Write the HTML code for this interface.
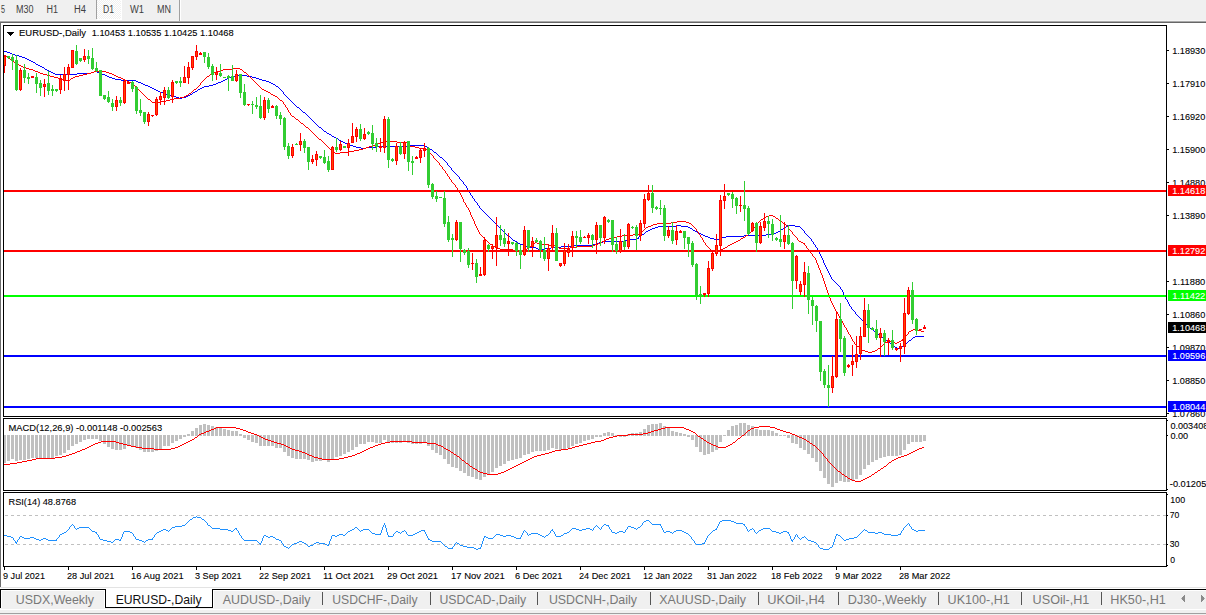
<!DOCTYPE html>
<html><head><meta charset="utf-8"><title>EURUSD-,Daily</title>
<style>html,body{margin:0;padding:0;background:#fff;overflow:hidden}svg{display:block}
text{font-family:"Liberation Sans",sans-serif}</style></head>
<body><svg width="1206" height="615" viewBox="0 0 1206 615" shape-rendering="crispEdges">
<rect x="0" y="0" width="1206" height="615" fill="#fff"/>
<rect x="0" y="0" width="1206" height="21" fill="#f0f0f0"/>
<rect x="0" y="20" width="1206" height="1" fill="#f5f5f5"/>
<rect x="0" y="21" width="1206" height="1" fill="#a9a9a9"/>
<rect x="0" y="22" width="1206" height="1" fill="#666666"/>
<rect x="96" y="0" width="1" height="19" fill="#a0a0a0"/>
<defs><pattern id="chk" width="2" height="2" patternUnits="userSpaceOnUse"><rect width="2" height="2" fill="#f0f0f0"/><rect width="1" height="1" fill="#fff"/><rect x="1" y="1" width="1" height="1" fill="#fff"/></pattern></defs>
<rect x="97" y="0" width="24" height="19" fill="url(#chk)"/>
<rect x="121" y="0" width="1" height="20" fill="#fff"/>
<rect x="97" y="19" width="25" height="1" fill="#fff"/>
<rect x="179" y="0" width="1" height="21" fill="#a0a0a0"/>
<rect x="180" y="0" width="1" height="21" fill="#fff"/>
<text x="1" y="12.9" font-size="10.0" fill="#404040" text-anchor="start" textLength="4" lengthAdjust="spacingAndGlyphs" xml:space="preserve">5</text>
<text x="16" y="12.9" font-size="10.0" fill="#404040" text-anchor="start" textLength="17.5" lengthAdjust="spacingAndGlyphs" xml:space="preserve">M30</text>
<text x="46.5" y="12.9" font-size="10.0" fill="#404040" text-anchor="start" textLength="11.5" lengthAdjust="spacingAndGlyphs" xml:space="preserve">H1</text>
<text x="74" y="12.9" font-size="10.0" fill="#404040" text-anchor="start" textLength="12" lengthAdjust="spacingAndGlyphs" xml:space="preserve">H4</text>
<text x="103" y="12.9" font-size="10.0" fill="#404040" text-anchor="start" textLength="11" lengthAdjust="spacingAndGlyphs" xml:space="preserve">D1</text>
<text x="130" y="12.9" font-size="10.0" fill="#404040" text-anchor="start" textLength="14" lengthAdjust="spacingAndGlyphs" xml:space="preserve">W1</text>
<text x="157" y="12.9" font-size="10.0" fill="#404040" text-anchor="start" textLength="14" lengthAdjust="spacingAndGlyphs" xml:space="preserve">MN</text>
<rect x="0" y="22" width="1" height="567" fill="#6e6e6e"/>
<rect x="3" y="25" width="1164" height="1" fill="#000"/>
<rect x="3" y="416" width="1164" height="1" fill="#000"/>
<rect x="3" y="25" width="1" height="392" fill="#000"/>
<rect x="3" y="418" width="1164" height="1" fill="#000"/>
<rect x="3" y="490" width="1164" height="1" fill="#000"/>
<rect x="3" y="418" width="1" height="73" fill="#000"/>
<rect x="3" y="492" width="1164" height="1" fill="#000"/>
<rect x="3" y="566" width="1164" height="1" fill="#000"/>
<rect x="3" y="492" width="1" height="75" fill="#000"/>
<rect x="1166" y="25" width="1" height="392" fill="#000"/>
<rect x="1166" y="418" width="1" height="73" fill="#000"/>
<rect x="1166" y="492" width="1" height="75" fill="#000"/>
<rect x="4" y="51" width="3" height="1" fill="#0000ff"/>
<rect x="7" y="52" width="3" height="1" fill="#0000ff"/>
<rect x="10" y="53" width="2" height="1" fill="#0000ff"/>
<rect x="12" y="54" width="3" height="1" fill="#0000ff"/>
<rect x="15" y="55" width="4" height="1" fill="#0000ff"/>
<rect x="19" y="56" width="3" height="1" fill="#0000ff"/>
<rect x="22" y="57" width="3" height="1" fill="#0000ff"/>
<rect x="25" y="58" width="2" height="1" fill="#0000ff"/>
<rect x="27" y="59" width="2" height="1" fill="#0000ff"/>
<rect x="29" y="60" width="2" height="1" fill="#0000ff"/>
<rect x="31" y="61" width="2" height="1" fill="#0000ff"/>
<rect x="33" y="62" width="2" height="1" fill="#0000ff"/>
<rect x="35" y="63" width="1" height="1" fill="#0000ff"/>
<rect x="36" y="64" width="2" height="1" fill="#0000ff"/>
<rect x="38" y="65" width="2" height="1" fill="#0000ff"/>
<rect x="40" y="66" width="2" height="1" fill="#0000ff"/>
<rect x="42" y="67" width="2" height="1" fill="#0000ff"/>
<rect x="44" y="68" width="1" height="1" fill="#0000ff"/>
<rect x="45" y="69" width="2" height="1" fill="#0000ff"/>
<rect x="47" y="70" width="2" height="1" fill="#0000ff"/>
<rect x="49" y="71" width="2" height="1" fill="#0000ff"/>
<rect x="51" y="72" width="2" height="1" fill="#0000ff"/>
<rect x="53" y="73" width="2" height="1" fill="#0000ff"/>
<rect x="55" y="74" width="22" height="1" fill="#0000ff"/>
<rect x="77" y="73" width="14" height="1" fill="#0000ff"/>
<rect x="91" y="72" width="3" height="1" fill="#0000ff"/>
<rect x="94" y="71" width="3" height="1" fill="#0000ff"/>
<rect x="97" y="72" width="3" height="1" fill="#0000ff"/>
<rect x="100" y="73" width="2" height="1" fill="#0000ff"/>
<rect x="102" y="74" width="3" height="1" fill="#0000ff"/>
<rect x="105" y="75" width="2" height="1" fill="#0000ff"/>
<rect x="107" y="76" width="2" height="1" fill="#0000ff"/>
<rect x="109" y="77" width="3" height="1" fill="#0000ff"/>
<rect x="112" y="78" width="3" height="1" fill="#0000ff"/>
<rect x="115" y="79" width="6" height="1" fill="#0000ff"/>
<rect x="121" y="80" width="15" height="1" fill="#0000ff"/>
<rect x="136" y="81" width="2" height="1" fill="#0000ff"/>
<rect x="138" y="82" width="3" height="1" fill="#0000ff"/>
<rect x="141" y="83" width="2" height="1" fill="#0000ff"/>
<rect x="143" y="84" width="2" height="1" fill="#0000ff"/>
<rect x="145" y="85" width="3" height="1" fill="#0000ff"/>
<rect x="148" y="86" width="2" height="1" fill="#0000ff"/>
<rect x="150" y="87" width="2" height="1" fill="#0000ff"/>
<rect x="152" y="88" width="2" height="1" fill="#0000ff"/>
<rect x="154" y="89" width="2" height="1" fill="#0000ff"/>
<rect x="156" y="90" width="2" height="1" fill="#0000ff"/>
<rect x="158" y="91" width="2" height="1" fill="#0000ff"/>
<rect x="160" y="92" width="3" height="1" fill="#0000ff"/>
<rect x="163" y="93" width="3" height="1" fill="#0000ff"/>
<rect x="166" y="94" width="3" height="1" fill="#0000ff"/>
<rect x="169" y="95" width="3" height="1" fill="#0000ff"/>
<rect x="172" y="96" width="4" height="1" fill="#0000ff"/>
<rect x="176" y="97" width="3" height="1" fill="#0000ff"/>
<rect x="179" y="98" width="3" height="1" fill="#0000ff"/>
<rect x="182" y="97" width="4" height="1" fill="#0000ff"/>
<rect x="186" y="96" width="2" height="1" fill="#0000ff"/>
<rect x="188" y="95" width="2" height="1" fill="#0000ff"/>
<rect x="190" y="94" width="2" height="1" fill="#0000ff"/>
<rect x="192" y="93" width="1" height="1" fill="#0000ff"/>
<rect x="193" y="92" width="2" height="1" fill="#0000ff"/>
<rect x="195" y="91" width="2" height="1" fill="#0000ff"/>
<rect x="197" y="90" width="1" height="1" fill="#0000ff"/>
<rect x="198" y="89" width="2" height="1" fill="#0000ff"/>
<rect x="200" y="88" width="2" height="1" fill="#0000ff"/>
<rect x="202" y="87" width="2" height="1" fill="#0000ff"/>
<rect x="204" y="86" width="5" height="1" fill="#0000ff"/>
<rect x="209" y="85" width="4" height="1" fill="#0000ff"/>
<rect x="213" y="84" width="3" height="1" fill="#0000ff"/>
<rect x="216" y="83" width="2" height="1" fill="#0000ff"/>
<rect x="218" y="82" width="3" height="1" fill="#0000ff"/>
<rect x="221" y="81" width="2" height="1" fill="#0000ff"/>
<rect x="223" y="80" width="2" height="1" fill="#0000ff"/>
<rect x="225" y="79" width="2" height="1" fill="#0000ff"/>
<rect x="227" y="78" width="2" height="1" fill="#0000ff"/>
<rect x="229" y="77" width="3" height="1" fill="#0000ff"/>
<rect x="232" y="76" width="3" height="1" fill="#0000ff"/>
<rect x="235" y="75" width="12" height="1" fill="#0000ff"/>
<rect x="247" y="76" width="5" height="1" fill="#0000ff"/>
<rect x="252" y="77" width="4" height="1" fill="#0000ff"/>
<rect x="256" y="78" width="3" height="1" fill="#0000ff"/>
<rect x="259" y="79" width="3" height="1" fill="#0000ff"/>
<rect x="262" y="80" width="4" height="1" fill="#0000ff"/>
<rect x="266" y="81" width="3" height="1" fill="#0000ff"/>
<rect x="269" y="82" width="2" height="1" fill="#0000ff"/>
<rect x="271" y="83" width="2" height="1" fill="#0000ff"/>
<rect x="273" y="84" width="2" height="1" fill="#0000ff"/>
<rect x="275" y="85" width="1" height="1" fill="#0000ff"/>
<rect x="276" y="86" width="2" height="1" fill="#0000ff"/>
<rect x="278" y="87" width="1" height="1" fill="#0000ff"/>
<rect x="279" y="88" width="1" height="1" fill="#0000ff"/>
<rect x="280" y="89" width="1" height="1" fill="#0000ff"/>
<rect x="281" y="90" width="1" height="1" fill="#0000ff"/>
<rect x="282" y="91" width="1" height="1" fill="#0000ff"/>
<rect x="283" y="92" width="1" height="2" fill="#0000ff"/>
<rect x="284" y="94" width="1" height="1" fill="#0000ff"/>
<rect x="285" y="95" width="1" height="1" fill="#0000ff"/>
<rect x="286" y="96" width="1" height="1" fill="#0000ff"/>
<rect x="287" y="97" width="1" height="1" fill="#0000ff"/>
<rect x="288" y="98" width="1" height="1" fill="#0000ff"/>
<rect x="289" y="99" width="1" height="1" fill="#0000ff"/>
<rect x="290" y="100" width="1" height="1" fill="#0000ff"/>
<rect x="291" y="101" width="1" height="1" fill="#0000ff"/>
<rect x="292" y="102" width="1" height="1" fill="#0000ff"/>
<rect x="293" y="103" width="1" height="1" fill="#0000ff"/>
<rect x="294" y="104" width="1" height="1" fill="#0000ff"/>
<rect x="295" y="105" width="1" height="1" fill="#0000ff"/>
<rect x="296" y="106" width="1" height="1" fill="#0000ff"/>
<rect x="297" y="107" width="2" height="1" fill="#0000ff"/>
<rect x="299" y="108" width="1" height="1" fill="#0000ff"/>
<rect x="300" y="109" width="1" height="1" fill="#0000ff"/>
<rect x="301" y="110" width="1" height="1" fill="#0000ff"/>
<rect x="302" y="111" width="1" height="1" fill="#0000ff"/>
<rect x="303" y="112" width="2" height="1" fill="#0000ff"/>
<rect x="305" y="113" width="1" height="1" fill="#0000ff"/>
<rect x="306" y="114" width="1" height="1" fill="#0000ff"/>
<rect x="307" y="115" width="1" height="1" fill="#0000ff"/>
<rect x="308" y="116" width="1" height="1" fill="#0000ff"/>
<rect x="309" y="117" width="1" height="1" fill="#0000ff"/>
<rect x="310" y="118" width="1" height="1" fill="#0000ff"/>
<rect x="311" y="119" width="1" height="1" fill="#0000ff"/>
<rect x="312" y="120" width="1" height="1" fill="#0000ff"/>
<rect x="313" y="121" width="1" height="1" fill="#0000ff"/>
<rect x="314" y="122" width="1" height="1" fill="#0000ff"/>
<rect x="315" y="123" width="1" height="1" fill="#0000ff"/>
<rect x="316" y="124" width="1" height="1" fill="#0000ff"/>
<rect x="317" y="125" width="1" height="1" fill="#0000ff"/>
<rect x="318" y="126" width="1" height="1" fill="#0000ff"/>
<rect x="319" y="127" width="2" height="1" fill="#0000ff"/>
<rect x="321" y="128" width="1" height="1" fill="#0000ff"/>
<rect x="322" y="129" width="1" height="1" fill="#0000ff"/>
<rect x="323" y="130" width="1" height="1" fill="#0000ff"/>
<rect x="324" y="131" width="2" height="1" fill="#0000ff"/>
<rect x="326" y="132" width="1" height="1" fill="#0000ff"/>
<rect x="327" y="133" width="2" height="1" fill="#0000ff"/>
<rect x="329" y="134" width="2" height="1" fill="#0000ff"/>
<rect x="331" y="135" width="1" height="1" fill="#0000ff"/>
<rect x="332" y="136" width="2" height="1" fill="#0000ff"/>
<rect x="334" y="137" width="2" height="1" fill="#0000ff"/>
<rect x="336" y="138" width="2" height="1" fill="#0000ff"/>
<rect x="338" y="139" width="1" height="1" fill="#0000ff"/>
<rect x="339" y="140" width="2" height="1" fill="#0000ff"/>
<rect x="341" y="141" width="2" height="1" fill="#0000ff"/>
<rect x="343" y="142" width="2" height="1" fill="#0000ff"/>
<rect x="345" y="143" width="2" height="1" fill="#0000ff"/>
<rect x="347" y="144" width="3" height="1" fill="#0000ff"/>
<rect x="350" y="145" width="3" height="1" fill="#0000ff"/>
<rect x="353" y="146" width="3" height="1" fill="#0000ff"/>
<rect x="356" y="147" width="5" height="1" fill="#0000ff"/>
<rect x="361" y="148" width="5" height="1" fill="#0000ff"/>
<rect x="366" y="147" width="10" height="1" fill="#0000ff"/>
<rect x="376" y="146" width="33" height="1" fill="#0000ff"/>
<rect x="409" y="145" width="16" height="1" fill="#0000ff"/>
<rect x="425" y="146" width="2" height="1" fill="#0000ff"/>
<rect x="427" y="147" width="2" height="1" fill="#0000ff"/>
<rect x="429" y="148" width="1" height="1" fill="#0000ff"/>
<rect x="430" y="149" width="2" height="1" fill="#0000ff"/>
<rect x="432" y="150" width="1" height="1" fill="#0000ff"/>
<rect x="433" y="151" width="1" height="1" fill="#0000ff"/>
<rect x="434" y="152" width="2" height="1" fill="#0000ff"/>
<rect x="436" y="153" width="1" height="1" fill="#0000ff"/>
<rect x="437" y="154" width="1" height="1" fill="#0000ff"/>
<rect x="438" y="155" width="1" height="1" fill="#0000ff"/>
<rect x="439" y="156" width="1" height="1" fill="#0000ff"/>
<rect x="440" y="157" width="2" height="1" fill="#0000ff"/>
<rect x="442" y="158" width="1" height="1" fill="#0000ff"/>
<rect x="443" y="159" width="1" height="1" fill="#0000ff"/>
<rect x="444" y="160" width="1" height="1" fill="#0000ff"/>
<rect x="445" y="161" width="1" height="1" fill="#0000ff"/>
<rect x="446" y="162" width="1" height="1" fill="#0000ff"/>
<rect x="447" y="163" width="1" height="2" fill="#0000ff"/>
<rect x="448" y="165" width="1" height="1" fill="#0000ff"/>
<rect x="449" y="166" width="1" height="1" fill="#0000ff"/>
<rect x="450" y="167" width="1" height="1" fill="#0000ff"/>
<rect x="451" y="168" width="1" height="2" fill="#0000ff"/>
<rect x="452" y="170" width="1" height="1" fill="#0000ff"/>
<rect x="453" y="171" width="1" height="1" fill="#0000ff"/>
<rect x="454" y="172" width="1" height="1" fill="#0000ff"/>
<rect x="455" y="173" width="1" height="1" fill="#0000ff"/>
<rect x="456" y="174" width="1" height="1" fill="#0000ff"/>
<rect x="457" y="175" width="1" height="1" fill="#0000ff"/>
<rect x="458" y="176" width="1" height="1" fill="#0000ff"/>
<rect x="459" y="177" width="1" height="2" fill="#0000ff"/>
<rect x="460" y="179" width="1" height="1" fill="#0000ff"/>
<rect x="461" y="180" width="1" height="1" fill="#0000ff"/>
<rect x="462" y="181" width="1" height="1" fill="#0000ff"/>
<rect x="463" y="182" width="1" height="2" fill="#0000ff"/>
<rect x="464" y="184" width="1" height="1" fill="#0000ff"/>
<rect x="465" y="185" width="1" height="1" fill="#0000ff"/>
<rect x="466" y="186" width="1" height="2" fill="#0000ff"/>
<rect x="467" y="188" width="1" height="2" fill="#0000ff"/>
<rect x="468" y="190" width="1" height="1" fill="#0000ff"/>
<rect x="469" y="191" width="1" height="2" fill="#0000ff"/>
<rect x="470" y="193" width="1" height="2" fill="#0000ff"/>
<rect x="471" y="195" width="1" height="1" fill="#0000ff"/>
<rect x="472" y="196" width="1" height="2" fill="#0000ff"/>
<rect x="473" y="198" width="1" height="1" fill="#0000ff"/>
<rect x="474" y="199" width="1" height="2" fill="#0000ff"/>
<rect x="475" y="201" width="1" height="1" fill="#0000ff"/>
<rect x="476" y="202" width="1" height="1" fill="#0000ff"/>
<rect x="477" y="203" width="1" height="2" fill="#0000ff"/>
<rect x="478" y="205" width="1" height="1" fill="#0000ff"/>
<rect x="479" y="206" width="1" height="2" fill="#0000ff"/>
<rect x="480" y="208" width="1" height="1" fill="#0000ff"/>
<rect x="481" y="209" width="1" height="1" fill="#0000ff"/>
<rect x="482" y="210" width="1" height="1" fill="#0000ff"/>
<rect x="483" y="211" width="1" height="1" fill="#0000ff"/>
<rect x="484" y="212" width="1" height="1" fill="#0000ff"/>
<rect x="485" y="213" width="1" height="1" fill="#0000ff"/>
<rect x="486" y="214" width="1" height="1" fill="#0000ff"/>
<rect x="487" y="215" width="1" height="1" fill="#0000ff"/>
<rect x="488" y="216" width="1" height="1" fill="#0000ff"/>
<rect x="489" y="217" width="1" height="1" fill="#0000ff"/>
<rect x="490" y="218" width="1" height="1" fill="#0000ff"/>
<rect x="491" y="219" width="1" height="1" fill="#0000ff"/>
<rect x="492" y="220" width="1" height="1" fill="#0000ff"/>
<rect x="493" y="221" width="1" height="1" fill="#0000ff"/>
<rect x="494" y="222" width="1" height="1" fill="#0000ff"/>
<rect x="495" y="223" width="1" height="1" fill="#0000ff"/>
<rect x="496" y="224" width="1" height="1" fill="#0000ff"/>
<rect x="497" y="225" width="1" height="1" fill="#0000ff"/>
<rect x="498" y="226" width="1" height="1" fill="#0000ff"/>
<rect x="499" y="227" width="1" height="1" fill="#0000ff"/>
<rect x="500" y="228" width="1" height="1" fill="#0000ff"/>
<rect x="501" y="229" width="1" height="1" fill="#0000ff"/>
<rect x="502" y="230" width="1" height="1" fill="#0000ff"/>
<rect x="503" y="231" width="1" height="1" fill="#0000ff"/>
<rect x="504" y="232" width="1" height="1" fill="#0000ff"/>
<rect x="505" y="233" width="1" height="1" fill="#0000ff"/>
<rect x="506" y="234" width="1" height="1" fill="#0000ff"/>
<rect x="507" y="235" width="1" height="1" fill="#0000ff"/>
<rect x="508" y="236" width="2" height="1" fill="#0000ff"/>
<rect x="510" y="237" width="1" height="1" fill="#0000ff"/>
<rect x="511" y="238" width="1" height="1" fill="#0000ff"/>
<rect x="512" y="239" width="1" height="1" fill="#0000ff"/>
<rect x="513" y="240" width="2" height="1" fill="#0000ff"/>
<rect x="515" y="241" width="2" height="1" fill="#0000ff"/>
<rect x="517" y="242" width="1" height="1" fill="#0000ff"/>
<rect x="518" y="243" width="2" height="1" fill="#0000ff"/>
<rect x="520" y="244" width="3" height="1" fill="#0000ff"/>
<rect x="523" y="245" width="2" height="1" fill="#0000ff"/>
<rect x="525" y="246" width="2" height="1" fill="#0000ff"/>
<rect x="527" y="247" width="9" height="1" fill="#0000ff"/>
<rect x="536" y="248" width="2" height="1" fill="#0000ff"/>
<rect x="538" y="249" width="7" height="1" fill="#0000ff"/>
<rect x="545" y="248" width="6" height="1" fill="#0000ff"/>
<rect x="551" y="247" width="10" height="1" fill="#0000ff"/>
<rect x="561" y="246" width="11" height="1" fill="#0000ff"/>
<rect x="572" y="245" width="21" height="1" fill="#0000ff"/>
<rect x="593" y="244" width="3" height="1" fill="#0000ff"/>
<rect x="596" y="243" width="3" height="1" fill="#0000ff"/>
<rect x="599" y="242" width="4" height="1" fill="#0000ff"/>
<rect x="603" y="241" width="21" height="1" fill="#0000ff"/>
<rect x="624" y="240" width="3" height="1" fill="#0000ff"/>
<rect x="627" y="239" width="10" height="1" fill="#0000ff"/>
<rect x="637" y="238" width="1" height="1" fill="#0000ff"/>
<rect x="638" y="237" width="1" height="2" fill="#0000ff"/>
<rect x="639" y="236" width="2" height="1" fill="#0000ff"/>
<rect x="641" y="235" width="1" height="1" fill="#0000ff"/>
<rect x="642" y="234" width="2" height="1" fill="#0000ff"/>
<rect x="644" y="233" width="1" height="1" fill="#0000ff"/>
<rect x="645" y="232" width="1" height="1" fill="#0000ff"/>
<rect x="646" y="231" width="2" height="1" fill="#0000ff"/>
<rect x="648" y="230" width="2" height="1" fill="#0000ff"/>
<rect x="650" y="229" width="2" height="1" fill="#0000ff"/>
<rect x="652" y="228" width="3" height="1" fill="#0000ff"/>
<rect x="655" y="227" width="3" height="1" fill="#0000ff"/>
<rect x="658" y="226" width="19" height="1" fill="#0000ff"/>
<rect x="677" y="225" width="4" height="1" fill="#0000ff"/>
<rect x="681" y="226" width="7" height="1" fill="#0000ff"/>
<rect x="688" y="227" width="2" height="1" fill="#0000ff"/>
<rect x="690" y="228" width="2" height="1" fill="#0000ff"/>
<rect x="692" y="229" width="1" height="1" fill="#0000ff"/>
<rect x="693" y="230" width="2" height="1" fill="#0000ff"/>
<rect x="695" y="231" width="2" height="1" fill="#0000ff"/>
<rect x="697" y="232" width="2" height="1" fill="#0000ff"/>
<rect x="699" y="233" width="2" height="1" fill="#0000ff"/>
<rect x="701" y="234" width="2" height="1" fill="#0000ff"/>
<rect x="703" y="235" width="2" height="1" fill="#0000ff"/>
<rect x="705" y="236" width="3" height="1" fill="#0000ff"/>
<rect x="708" y="237" width="2" height="1" fill="#0000ff"/>
<rect x="710" y="238" width="4" height="1" fill="#0000ff"/>
<rect x="714" y="239" width="5" height="1" fill="#0000ff"/>
<rect x="719" y="238" width="2" height="1" fill="#0000ff"/>
<rect x="721" y="237" width="5" height="1" fill="#0000ff"/>
<rect x="726" y="236" width="18" height="1" fill="#0000ff"/>
<rect x="744" y="235" width="22" height="1" fill="#0000ff"/>
<rect x="766" y="234" width="7" height="1" fill="#0000ff"/>
<rect x="773" y="233" width="3" height="1" fill="#0000ff"/>
<rect x="776" y="232" width="2" height="1" fill="#0000ff"/>
<rect x="778" y="231" width="2" height="1" fill="#0000ff"/>
<rect x="780" y="230" width="1" height="1" fill="#0000ff"/>
<rect x="781" y="229" width="2" height="1" fill="#0000ff"/>
<rect x="783" y="228" width="1" height="1" fill="#0000ff"/>
<rect x="784" y="227" width="2" height="1" fill="#0000ff"/>
<rect x="786" y="226" width="1" height="1" fill="#0000ff"/>
<rect x="787" y="225" width="8" height="1" fill="#0000ff"/>
<rect x="795" y="226" width="5" height="1" fill="#0000ff"/>
<rect x="800" y="227" width="1" height="1" fill="#0000ff"/>
<rect x="801" y="228" width="1" height="1" fill="#0000ff"/>
<rect x="802" y="229" width="1" height="1" fill="#0000ff"/>
<rect x="803" y="230" width="1" height="1" fill="#0000ff"/>
<rect x="804" y="231" width="1" height="2" fill="#0000ff"/>
<rect x="805" y="233" width="1" height="1" fill="#0000ff"/>
<rect x="806" y="234" width="1" height="1" fill="#0000ff"/>
<rect x="807" y="235" width="1" height="1" fill="#0000ff"/>
<rect x="808" y="236" width="1" height="1" fill="#0000ff"/>
<rect x="809" y="237" width="1" height="1" fill="#0000ff"/>
<rect x="810" y="238" width="1" height="1" fill="#0000ff"/>
<rect x="811" y="239" width="1" height="2" fill="#0000ff"/>
<rect x="812" y="241" width="1" height="1" fill="#0000ff"/>
<rect x="813" y="242" width="1" height="2" fill="#0000ff"/>
<rect x="814" y="244" width="1" height="1" fill="#0000ff"/>
<rect x="815" y="245" width="1" height="2" fill="#0000ff"/>
<rect x="816" y="247" width="1" height="1" fill="#0000ff"/>
<rect x="817" y="248" width="1" height="2" fill="#0000ff"/>
<rect x="818" y="250" width="1" height="2" fill="#0000ff"/>
<rect x="819" y="252" width="1" height="2" fill="#0000ff"/>
<rect x="820" y="254" width="1" height="2" fill="#0000ff"/>
<rect x="821" y="256" width="1" height="2" fill="#0000ff"/>
<rect x="822" y="258" width="1" height="2" fill="#0000ff"/>
<rect x="823" y="260" width="1" height="3" fill="#0000ff"/>
<rect x="824" y="263" width="1" height="2" fill="#0000ff"/>
<rect x="825" y="265" width="1" height="2" fill="#0000ff"/>
<rect x="826" y="267" width="1" height="2" fill="#0000ff"/>
<rect x="827" y="269" width="1" height="2" fill="#0000ff"/>
<rect x="828" y="271" width="1" height="2" fill="#0000ff"/>
<rect x="829" y="273" width="1" height="2" fill="#0000ff"/>
<rect x="830" y="275" width="1" height="2" fill="#0000ff"/>
<rect x="831" y="277" width="1" height="2" fill="#0000ff"/>
<rect x="832" y="279" width="1" height="1" fill="#0000ff"/>
<rect x="833" y="280" width="1" height="1" fill="#0000ff"/>
<rect x="834" y="281" width="1" height="1" fill="#0000ff"/>
<rect x="835" y="282" width="1" height="1" fill="#0000ff"/>
<rect x="836" y="283" width="1" height="1" fill="#0000ff"/>
<rect x="837" y="284" width="1" height="1" fill="#0000ff"/>
<rect x="838" y="285" width="1" height="1" fill="#0000ff"/>
<rect x="839" y="286" width="1" height="1" fill="#0000ff"/>
<rect x="840" y="287" width="1" height="2" fill="#0000ff"/>
<rect x="841" y="289" width="1" height="1" fill="#0000ff"/>
<rect x="842" y="290" width="1" height="2" fill="#0000ff"/>
<rect x="843" y="292" width="1" height="3" fill="#0000ff"/>
<rect x="844" y="295" width="1" height="2" fill="#0000ff"/>
<rect x="845" y="297" width="1" height="2" fill="#0000ff"/>
<rect x="846" y="299" width="1" height="1" fill="#0000ff"/>
<rect x="847" y="300" width="1" height="2" fill="#0000ff"/>
<rect x="848" y="302" width="1" height="2" fill="#0000ff"/>
<rect x="849" y="304" width="1" height="2" fill="#0000ff"/>
<rect x="850" y="306" width="1" height="1" fill="#0000ff"/>
<rect x="851" y="307" width="1" height="2" fill="#0000ff"/>
<rect x="852" y="309" width="1" height="1" fill="#0000ff"/>
<rect x="853" y="310" width="1" height="1" fill="#0000ff"/>
<rect x="854" y="311" width="1" height="1" fill="#0000ff"/>
<rect x="855" y="312" width="1" height="2" fill="#0000ff"/>
<rect x="856" y="314" width="1" height="1" fill="#0000ff"/>
<rect x="857" y="315" width="1" height="1" fill="#0000ff"/>
<rect x="858" y="316" width="1" height="1" fill="#0000ff"/>
<rect x="859" y="317" width="1" height="1" fill="#0000ff"/>
<rect x="860" y="318" width="1" height="1" fill="#0000ff"/>
<rect x="861" y="319" width="1" height="1" fill="#0000ff"/>
<rect x="862" y="320" width="1" height="1" fill="#0000ff"/>
<rect x="863" y="321" width="1" height="1" fill="#0000ff"/>
<rect x="864" y="322" width="1" height="1" fill="#0000ff"/>
<rect x="865" y="323" width="1" height="1" fill="#0000ff"/>
<rect x="866" y="324" width="1" height="1" fill="#0000ff"/>
<rect x="867" y="325" width="1" height="1" fill="#0000ff"/>
<rect x="868" y="326" width="1" height="1" fill="#0000ff"/>
<rect x="869" y="327" width="1" height="1" fill="#0000ff"/>
<rect x="870" y="328" width="1" height="1" fill="#0000ff"/>
<rect x="871" y="329" width="2" height="1" fill="#0000ff"/>
<rect x="873" y="330" width="1" height="1" fill="#0000ff"/>
<rect x="874" y="331" width="1" height="1" fill="#0000ff"/>
<rect x="875" y="332" width="1" height="1" fill="#0000ff"/>
<rect x="876" y="333" width="2" height="1" fill="#0000ff"/>
<rect x="878" y="334" width="1" height="1" fill="#0000ff"/>
<rect x="879" y="335" width="1" height="1" fill="#0000ff"/>
<rect x="880" y="336" width="2" height="1" fill="#0000ff"/>
<rect x="882" y="337" width="1" height="1" fill="#0000ff"/>
<rect x="883" y="338" width="2" height="1" fill="#0000ff"/>
<rect x="885" y="339" width="1" height="1" fill="#0000ff"/>
<rect x="886" y="340" width="2" height="1" fill="#0000ff"/>
<rect x="888" y="341" width="1" height="1" fill="#0000ff"/>
<rect x="889" y="342" width="1" height="1" fill="#0000ff"/>
<rect x="890" y="343" width="1" height="1" fill="#0000ff"/>
<rect x="891" y="344" width="1" height="1" fill="#0000ff"/>
<rect x="892" y="345" width="2" height="1" fill="#0000ff"/>
<rect x="894" y="346" width="1" height="1" fill="#0000ff"/>
<rect x="895" y="347" width="2" height="1" fill="#0000ff"/>
<rect x="897" y="348" width="4" height="1" fill="#0000ff"/>
<rect x="901" y="347" width="1" height="1" fill="#0000ff"/>
<rect x="902" y="346" width="2" height="1" fill="#0000ff"/>
<rect x="904" y="345" width="1" height="1" fill="#0000ff"/>
<rect x="905" y="344" width="1" height="1" fill="#0000ff"/>
<rect x="906" y="343" width="1" height="1" fill="#0000ff"/>
<rect x="907" y="342" width="1" height="1" fill="#0000ff"/>
<rect x="908" y="341" width="1" height="1" fill="#0000ff"/>
<rect x="909" y="340" width="2" height="1" fill="#0000ff"/>
<rect x="911" y="339" width="1" height="1" fill="#0000ff"/>
<rect x="912" y="338" width="1" height="1" fill="#0000ff"/>
<rect x="913" y="337" width="2" height="1" fill="#0000ff"/>
<rect x="915" y="336" width="9" height="1" fill="#0000ff"/>
<rect x="4" y="55" width="2" height="1" fill="#ff0000"/>
<rect x="6" y="56" width="1" height="1" fill="#ff0000"/>
<rect x="7" y="57" width="2" height="1" fill="#ff0000"/>
<rect x="9" y="58" width="1" height="1" fill="#ff0000"/>
<rect x="10" y="59" width="2" height="1" fill="#ff0000"/>
<rect x="12" y="60" width="1" height="1" fill="#ff0000"/>
<rect x="13" y="61" width="1" height="1" fill="#ff0000"/>
<rect x="14" y="62" width="2" height="1" fill="#ff0000"/>
<rect x="16" y="63" width="1" height="1" fill="#ff0000"/>
<rect x="17" y="64" width="2" height="1" fill="#ff0000"/>
<rect x="19" y="65" width="2" height="1" fill="#ff0000"/>
<rect x="21" y="66" width="2" height="1" fill="#ff0000"/>
<rect x="23" y="67" width="3" height="1" fill="#ff0000"/>
<rect x="26" y="68" width="3" height="1" fill="#ff0000"/>
<rect x="29" y="69" width="4" height="1" fill="#ff0000"/>
<rect x="33" y="70" width="2" height="1" fill="#ff0000"/>
<rect x="35" y="71" width="3" height="1" fill="#ff0000"/>
<rect x="38" y="72" width="2" height="1" fill="#ff0000"/>
<rect x="40" y="73" width="3" height="1" fill="#ff0000"/>
<rect x="43" y="74" width="4" height="1" fill="#ff0000"/>
<rect x="47" y="75" width="3" height="1" fill="#ff0000"/>
<rect x="50" y="76" width="4" height="1" fill="#ff0000"/>
<rect x="54" y="77" width="4" height="1" fill="#ff0000"/>
<rect x="58" y="78" width="4" height="1" fill="#ff0000"/>
<rect x="62" y="79" width="4" height="1" fill="#ff0000"/>
<rect x="66" y="80" width="2" height="1" fill="#ff0000"/>
<rect x="68" y="81" width="1" height="1" fill="#ff0000"/>
<rect x="69" y="80" width="1" height="1" fill="#ff0000"/>
<rect x="70" y="79" width="1" height="1" fill="#ff0000"/>
<rect x="71" y="78" width="2" height="1" fill="#ff0000"/>
<rect x="73" y="77" width="2" height="1" fill="#ff0000"/>
<rect x="75" y="76" width="4" height="1" fill="#ff0000"/>
<rect x="79" y="75" width="4" height="1" fill="#ff0000"/>
<rect x="83" y="74" width="4" height="1" fill="#ff0000"/>
<rect x="87" y="73" width="4" height="1" fill="#ff0000"/>
<rect x="91" y="72" width="3" height="1" fill="#ff0000"/>
<rect x="94" y="71" width="12" height="1" fill="#ff0000"/>
<rect x="106" y="72" width="3" height="1" fill="#ff0000"/>
<rect x="109" y="73" width="3" height="1" fill="#ff0000"/>
<rect x="112" y="74" width="2" height="1" fill="#ff0000"/>
<rect x="114" y="75" width="2" height="1" fill="#ff0000"/>
<rect x="116" y="76" width="2" height="1" fill="#ff0000"/>
<rect x="118" y="77" width="3" height="1" fill="#ff0000"/>
<rect x="121" y="78" width="2" height="1" fill="#ff0000"/>
<rect x="123" y="79" width="2" height="1" fill="#ff0000"/>
<rect x="125" y="80" width="2" height="1" fill="#ff0000"/>
<rect x="127" y="81" width="2" height="1" fill="#ff0000"/>
<rect x="129" y="82" width="2" height="1" fill="#ff0000"/>
<rect x="131" y="83" width="2" height="1" fill="#ff0000"/>
<rect x="133" y="84" width="1" height="1" fill="#ff0000"/>
<rect x="134" y="85" width="1" height="1" fill="#ff0000"/>
<rect x="135" y="86" width="1" height="1" fill="#ff0000"/>
<rect x="136" y="87" width="1" height="1" fill="#ff0000"/>
<rect x="137" y="88" width="1" height="1" fill="#ff0000"/>
<rect x="138" y="89" width="1" height="1" fill="#ff0000"/>
<rect x="139" y="90" width="1" height="1" fill="#ff0000"/>
<rect x="140" y="91" width="1" height="1" fill="#ff0000"/>
<rect x="141" y="92" width="1" height="1" fill="#ff0000"/>
<rect x="142" y="93" width="1" height="1" fill="#ff0000"/>
<rect x="143" y="94" width="1" height="1" fill="#ff0000"/>
<rect x="144" y="95" width="1" height="1" fill="#ff0000"/>
<rect x="145" y="96" width="1" height="1" fill="#ff0000"/>
<rect x="146" y="97" width="1" height="1" fill="#ff0000"/>
<rect x="147" y="98" width="1" height="1" fill="#ff0000"/>
<rect x="148" y="99" width="2" height="1" fill="#ff0000"/>
<rect x="150" y="100" width="1" height="1" fill="#ff0000"/>
<rect x="151" y="101" width="1" height="1" fill="#ff0000"/>
<rect x="152" y="102" width="8" height="1" fill="#ff0000"/>
<rect x="160" y="101" width="6" height="1" fill="#ff0000"/>
<rect x="166" y="100" width="4" height="1" fill="#ff0000"/>
<rect x="170" y="99" width="4" height="1" fill="#ff0000"/>
<rect x="174" y="98" width="6" height="1" fill="#ff0000"/>
<rect x="180" y="97" width="4" height="1" fill="#ff0000"/>
<rect x="184" y="96" width="2" height="1" fill="#ff0000"/>
<rect x="186" y="95" width="2" height="1" fill="#ff0000"/>
<rect x="188" y="94" width="1" height="1" fill="#ff0000"/>
<rect x="189" y="93" width="2" height="1" fill="#ff0000"/>
<rect x="191" y="92" width="1" height="1" fill="#ff0000"/>
<rect x="192" y="91" width="1" height="1" fill="#ff0000"/>
<rect x="193" y="90" width="1" height="1" fill="#ff0000"/>
<rect x="194" y="89" width="2" height="1" fill="#ff0000"/>
<rect x="196" y="88" width="1" height="1" fill="#ff0000"/>
<rect x="197" y="87" width="1" height="1" fill="#ff0000"/>
<rect x="198" y="86" width="1" height="1" fill="#ff0000"/>
<rect x="199" y="85" width="1" height="1" fill="#ff0000"/>
<rect x="200" y="83" width="1" height="2" fill="#ff0000"/>
<rect x="201" y="82" width="1" height="1" fill="#ff0000"/>
<rect x="202" y="81" width="1" height="1" fill="#ff0000"/>
<rect x="203" y="80" width="1" height="1" fill="#ff0000"/>
<rect x="204" y="79" width="1" height="1" fill="#ff0000"/>
<rect x="205" y="78" width="1" height="1" fill="#ff0000"/>
<rect x="206" y="77" width="1" height="1" fill="#ff0000"/>
<rect x="207" y="76" width="2" height="1" fill="#ff0000"/>
<rect x="209" y="75" width="1" height="1" fill="#ff0000"/>
<rect x="210" y="74" width="1" height="1" fill="#ff0000"/>
<rect x="211" y="73" width="3" height="1" fill="#ff0000"/>
<rect x="214" y="72" width="3" height="1" fill="#ff0000"/>
<rect x="217" y="71" width="3" height="1" fill="#ff0000"/>
<rect x="220" y="70" width="3" height="1" fill="#ff0000"/>
<rect x="223" y="69" width="9" height="1" fill="#ff0000"/>
<rect x="232" y="68" width="8" height="1" fill="#ff0000"/>
<rect x="240" y="69" width="2" height="1" fill="#ff0000"/>
<rect x="242" y="70" width="1" height="1" fill="#ff0000"/>
<rect x="243" y="71" width="1" height="1" fill="#ff0000"/>
<rect x="244" y="72" width="2" height="1" fill="#ff0000"/>
<rect x="246" y="73" width="1" height="1" fill="#ff0000"/>
<rect x="247" y="74" width="1" height="1" fill="#ff0000"/>
<rect x="248" y="75" width="1" height="1" fill="#ff0000"/>
<rect x="249" y="76" width="1" height="1" fill="#ff0000"/>
<rect x="250" y="77" width="1" height="1" fill="#ff0000"/>
<rect x="251" y="78" width="1" height="1" fill="#ff0000"/>
<rect x="252" y="79" width="1" height="1" fill="#ff0000"/>
<rect x="253" y="80" width="1" height="1" fill="#ff0000"/>
<rect x="254" y="81" width="1" height="1" fill="#ff0000"/>
<rect x="255" y="82" width="1" height="1" fill="#ff0000"/>
<rect x="256" y="83" width="1" height="1" fill="#ff0000"/>
<rect x="257" y="84" width="1" height="1" fill="#ff0000"/>
<rect x="258" y="85" width="1" height="1" fill="#ff0000"/>
<rect x="259" y="86" width="1" height="1" fill="#ff0000"/>
<rect x="260" y="87" width="1" height="1" fill="#ff0000"/>
<rect x="261" y="88" width="1" height="1" fill="#ff0000"/>
<rect x="262" y="89" width="2" height="1" fill="#ff0000"/>
<rect x="264" y="90" width="2" height="1" fill="#ff0000"/>
<rect x="266" y="91" width="2" height="1" fill="#ff0000"/>
<rect x="268" y="92" width="2" height="1" fill="#ff0000"/>
<rect x="270" y="93" width="1" height="1" fill="#ff0000"/>
<rect x="271" y="94" width="2" height="1" fill="#ff0000"/>
<rect x="273" y="95" width="2" height="1" fill="#ff0000"/>
<rect x="275" y="96" width="2" height="1" fill="#ff0000"/>
<rect x="277" y="97" width="1" height="1" fill="#ff0000"/>
<rect x="278" y="98" width="1" height="1" fill="#ff0000"/>
<rect x="279" y="99" width="1" height="1" fill="#ff0000"/>
<rect x="280" y="100" width="2" height="1" fill="#ff0000"/>
<rect x="282" y="101" width="1" height="1" fill="#ff0000"/>
<rect x="283" y="102" width="1" height="2" fill="#ff0000"/>
<rect x="284" y="104" width="1" height="1" fill="#ff0000"/>
<rect x="285" y="105" width="1" height="2" fill="#ff0000"/>
<rect x="286" y="107" width="1" height="1" fill="#ff0000"/>
<rect x="287" y="108" width="1" height="2" fill="#ff0000"/>
<rect x="288" y="110" width="1" height="2" fill="#ff0000"/>
<rect x="289" y="112" width="1" height="1" fill="#ff0000"/>
<rect x="290" y="113" width="1" height="2" fill="#ff0000"/>
<rect x="291" y="115" width="1" height="1" fill="#ff0000"/>
<rect x="292" y="116" width="2" height="1" fill="#ff0000"/>
<rect x="294" y="117" width="1" height="1" fill="#ff0000"/>
<rect x="295" y="118" width="1" height="1" fill="#ff0000"/>
<rect x="296" y="119" width="2" height="1" fill="#ff0000"/>
<rect x="298" y="120" width="1" height="1" fill="#ff0000"/>
<rect x="299" y="121" width="1" height="1" fill="#ff0000"/>
<rect x="300" y="122" width="1" height="1" fill="#ff0000"/>
<rect x="301" y="123" width="2" height="1" fill="#ff0000"/>
<rect x="303" y="124" width="1" height="1" fill="#ff0000"/>
<rect x="304" y="125" width="1" height="1" fill="#ff0000"/>
<rect x="305" y="126" width="1" height="1" fill="#ff0000"/>
<rect x="306" y="127" width="2" height="1" fill="#ff0000"/>
<rect x="308" y="128" width="1" height="1" fill="#ff0000"/>
<rect x="309" y="129" width="1" height="1" fill="#ff0000"/>
<rect x="310" y="130" width="1" height="1" fill="#ff0000"/>
<rect x="311" y="131" width="1" height="1" fill="#ff0000"/>
<rect x="312" y="132" width="1" height="1" fill="#ff0000"/>
<rect x="313" y="133" width="1" height="1" fill="#ff0000"/>
<rect x="314" y="134" width="1" height="1" fill="#ff0000"/>
<rect x="315" y="135" width="1" height="1" fill="#ff0000"/>
<rect x="316" y="136" width="1" height="1" fill="#ff0000"/>
<rect x="317" y="137" width="1" height="1" fill="#ff0000"/>
<rect x="318" y="138" width="1" height="1" fill="#ff0000"/>
<rect x="319" y="139" width="2" height="1" fill="#ff0000"/>
<rect x="321" y="140" width="1" height="1" fill="#ff0000"/>
<rect x="322" y="141" width="1" height="1" fill="#ff0000"/>
<rect x="323" y="142" width="1" height="1" fill="#ff0000"/>
<rect x="324" y="143" width="1" height="1" fill="#ff0000"/>
<rect x="325" y="144" width="1" height="1" fill="#ff0000"/>
<rect x="326" y="145" width="1" height="1" fill="#ff0000"/>
<rect x="327" y="146" width="1" height="1" fill="#ff0000"/>
<rect x="328" y="147" width="1" height="1" fill="#ff0000"/>
<rect x="329" y="148" width="1" height="1" fill="#ff0000"/>
<rect x="330" y="149" width="2" height="1" fill="#ff0000"/>
<rect x="332" y="150" width="1" height="1" fill="#ff0000"/>
<rect x="333" y="151" width="1" height="1" fill="#ff0000"/>
<rect x="334" y="152" width="1" height="1" fill="#ff0000"/>
<rect x="335" y="153" width="5" height="1" fill="#ff0000"/>
<rect x="340" y="152" width="9" height="1" fill="#ff0000"/>
<rect x="349" y="151" width="5" height="1" fill="#ff0000"/>
<rect x="354" y="150" width="5" height="1" fill="#ff0000"/>
<rect x="359" y="149" width="4" height="1" fill="#ff0000"/>
<rect x="363" y="148" width="3" height="1" fill="#ff0000"/>
<rect x="366" y="147" width="3" height="1" fill="#ff0000"/>
<rect x="369" y="146" width="3" height="1" fill="#ff0000"/>
<rect x="372" y="145" width="3" height="1" fill="#ff0000"/>
<rect x="375" y="144" width="2" height="1" fill="#ff0000"/>
<rect x="377" y="143" width="3" height="1" fill="#ff0000"/>
<rect x="380" y="142" width="5" height="1" fill="#ff0000"/>
<rect x="385" y="141" width="12" height="1" fill="#ff0000"/>
<rect x="397" y="142" width="11" height="1" fill="#ff0000"/>
<rect x="408" y="142" width="1" height="2" fill="#ff0000"/>
<rect x="409" y="144" width="1" height="2" fill="#ff0000"/>
<rect x="410" y="146" width="5" height="1" fill="#ff0000"/>
<rect x="415" y="147" width="4" height="1" fill="#ff0000"/>
<rect x="419" y="148" width="7" height="1" fill="#ff0000"/>
<rect x="426" y="149" width="1" height="1" fill="#ff0000"/>
<rect x="427" y="150" width="1" height="1" fill="#ff0000"/>
<rect x="428" y="151" width="1" height="1" fill="#ff0000"/>
<rect x="429" y="152" width="1" height="1" fill="#ff0000"/>
<rect x="430" y="153" width="1" height="1" fill="#ff0000"/>
<rect x="431" y="154" width="1" height="1" fill="#ff0000"/>
<rect x="432" y="155" width="1" height="1" fill="#ff0000"/>
<rect x="433" y="156" width="1" height="2" fill="#ff0000"/>
<rect x="434" y="158" width="1" height="1" fill="#ff0000"/>
<rect x="435" y="159" width="1" height="1" fill="#ff0000"/>
<rect x="436" y="160" width="1" height="1" fill="#ff0000"/>
<rect x="437" y="161" width="1" height="1" fill="#ff0000"/>
<rect x="438" y="162" width="1" height="1" fill="#ff0000"/>
<rect x="439" y="163" width="1" height="2" fill="#ff0000"/>
<rect x="440" y="165" width="1" height="1" fill="#ff0000"/>
<rect x="441" y="166" width="1" height="1" fill="#ff0000"/>
<rect x="442" y="167" width="1" height="2" fill="#ff0000"/>
<rect x="443" y="169" width="1" height="1" fill="#ff0000"/>
<rect x="444" y="170" width="1" height="1" fill="#ff0000"/>
<rect x="445" y="171" width="1" height="2" fill="#ff0000"/>
<rect x="446" y="173" width="1" height="1" fill="#ff0000"/>
<rect x="447" y="174" width="1" height="2" fill="#ff0000"/>
<rect x="448" y="176" width="1" height="1" fill="#ff0000"/>
<rect x="449" y="177" width="1" height="2" fill="#ff0000"/>
<rect x="450" y="179" width="1" height="1" fill="#ff0000"/>
<rect x="451" y="180" width="1" height="2" fill="#ff0000"/>
<rect x="452" y="182" width="1" height="1" fill="#ff0000"/>
<rect x="453" y="183" width="1" height="1" fill="#ff0000"/>
<rect x="454" y="184" width="1" height="1" fill="#ff0000"/>
<rect x="455" y="185" width="1" height="2" fill="#ff0000"/>
<rect x="456" y="187" width="1" height="1" fill="#ff0000"/>
<rect x="457" y="188" width="1" height="2" fill="#ff0000"/>
<rect x="458" y="190" width="1" height="1" fill="#ff0000"/>
<rect x="459" y="191" width="1" height="2" fill="#ff0000"/>
<rect x="460" y="193" width="1" height="2" fill="#ff0000"/>
<rect x="461" y="195" width="1" height="2" fill="#ff0000"/>
<rect x="462" y="197" width="1" height="2" fill="#ff0000"/>
<rect x="463" y="199" width="1" height="3" fill="#ff0000"/>
<rect x="464" y="202" width="1" height="1" fill="#ff0000"/>
<rect x="465" y="203" width="1" height="2" fill="#ff0000"/>
<rect x="466" y="205" width="1" height="2" fill="#ff0000"/>
<rect x="467" y="207" width="1" height="1" fill="#ff0000"/>
<rect x="468" y="208" width="1" height="2" fill="#ff0000"/>
<rect x="469" y="210" width="1" height="2" fill="#ff0000"/>
<rect x="470" y="212" width="1" height="3" fill="#ff0000"/>
<rect x="471" y="215" width="1" height="2" fill="#ff0000"/>
<rect x="472" y="217" width="1" height="2" fill="#ff0000"/>
<rect x="473" y="219" width="1" height="2" fill="#ff0000"/>
<rect x="474" y="221" width="1" height="3" fill="#ff0000"/>
<rect x="475" y="224" width="1" height="2" fill="#ff0000"/>
<rect x="476" y="226" width="1" height="2" fill="#ff0000"/>
<rect x="477" y="228" width="1" height="2" fill="#ff0000"/>
<rect x="478" y="230" width="1" height="2" fill="#ff0000"/>
<rect x="479" y="232" width="1" height="2" fill="#ff0000"/>
<rect x="480" y="234" width="1" height="1" fill="#ff0000"/>
<rect x="481" y="235" width="1" height="1" fill="#ff0000"/>
<rect x="482" y="236" width="1" height="1" fill="#ff0000"/>
<rect x="483" y="237" width="1" height="1" fill="#ff0000"/>
<rect x="484" y="238" width="1" height="1" fill="#ff0000"/>
<rect x="485" y="239" width="1" height="1" fill="#ff0000"/>
<rect x="486" y="240" width="1" height="1" fill="#ff0000"/>
<rect x="487" y="241" width="1" height="1" fill="#ff0000"/>
<rect x="488" y="242" width="1" height="1" fill="#ff0000"/>
<rect x="489" y="243" width="1" height="1" fill="#ff0000"/>
<rect x="490" y="244" width="2" height="1" fill="#ff0000"/>
<rect x="492" y="245" width="1" height="1" fill="#ff0000"/>
<rect x="493" y="246" width="2" height="1" fill="#ff0000"/>
<rect x="495" y="247" width="2" height="1" fill="#ff0000"/>
<rect x="497" y="248" width="3" height="1" fill="#ff0000"/>
<rect x="500" y="249" width="13" height="1" fill="#ff0000"/>
<rect x="513" y="250" width="13" height="1" fill="#ff0000"/>
<rect x="526" y="249" width="1" height="1" fill="#ff0000"/>
<rect x="527" y="248" width="2" height="1" fill="#ff0000"/>
<rect x="529" y="247" width="1" height="1" fill="#ff0000"/>
<rect x="530" y="246" width="1" height="1" fill="#ff0000"/>
<rect x="531" y="245" width="1" height="1" fill="#ff0000"/>
<rect x="532" y="244" width="2" height="1" fill="#ff0000"/>
<rect x="534" y="243" width="1" height="1" fill="#ff0000"/>
<rect x="535" y="242" width="2" height="1" fill="#ff0000"/>
<rect x="537" y="243" width="2" height="1" fill="#ff0000"/>
<rect x="539" y="244" width="10" height="1" fill="#ff0000"/>
<rect x="549" y="245" width="6" height="1" fill="#ff0000"/>
<rect x="555" y="246" width="2" height="1" fill="#ff0000"/>
<rect x="557" y="247" width="2" height="1" fill="#ff0000"/>
<rect x="559" y="248" width="11" height="1" fill="#ff0000"/>
<rect x="570" y="247" width="6" height="1" fill="#ff0000"/>
<rect x="576" y="246" width="16" height="1" fill="#ff0000"/>
<rect x="592" y="245" width="3" height="1" fill="#ff0000"/>
<rect x="595" y="244" width="3" height="1" fill="#ff0000"/>
<rect x="598" y="243" width="2" height="1" fill="#ff0000"/>
<rect x="600" y="242" width="2" height="1" fill="#ff0000"/>
<rect x="602" y="241" width="2" height="1" fill="#ff0000"/>
<rect x="604" y="240" width="2" height="1" fill="#ff0000"/>
<rect x="606" y="239" width="3" height="1" fill="#ff0000"/>
<rect x="609" y="238" width="4" height="1" fill="#ff0000"/>
<rect x="613" y="237" width="4" height="1" fill="#ff0000"/>
<rect x="617" y="236" width="5" height="1" fill="#ff0000"/>
<rect x="622" y="235" width="11" height="1" fill="#ff0000"/>
<rect x="633" y="234" width="6" height="1" fill="#ff0000"/>
<rect x="639" y="233" width="2" height="1" fill="#ff0000"/>
<rect x="641" y="232" width="1" height="1" fill="#ff0000"/>
<rect x="642" y="231" width="1" height="1" fill="#ff0000"/>
<rect x="643" y="230" width="1" height="1" fill="#ff0000"/>
<rect x="644" y="229" width="1" height="1" fill="#ff0000"/>
<rect x="645" y="228" width="1" height="1" fill="#ff0000"/>
<rect x="646" y="227" width="2" height="1" fill="#ff0000"/>
<rect x="648" y="226" width="3" height="1" fill="#ff0000"/>
<rect x="651" y="225" width="2" height="1" fill="#ff0000"/>
<rect x="653" y="224" width="4" height="1" fill="#ff0000"/>
<rect x="657" y="223" width="14" height="1" fill="#ff0000"/>
<rect x="671" y="222" width="6" height="1" fill="#ff0000"/>
<rect x="677" y="221" width="9" height="1" fill="#ff0000"/>
<rect x="686" y="222" width="3" height="1" fill="#ff0000"/>
<rect x="689" y="223" width="2" height="1" fill="#ff0000"/>
<rect x="691" y="224" width="1" height="1" fill="#ff0000"/>
<rect x="692" y="225" width="1" height="1" fill="#ff0000"/>
<rect x="693" y="226" width="1" height="1" fill="#ff0000"/>
<rect x="694" y="227" width="1" height="1" fill="#ff0000"/>
<rect x="695" y="228" width="1" height="1" fill="#ff0000"/>
<rect x="696" y="229" width="1" height="2" fill="#ff0000"/>
<rect x="697" y="231" width="1" height="1" fill="#ff0000"/>
<rect x="698" y="232" width="1" height="2" fill="#ff0000"/>
<rect x="699" y="234" width="1" height="1" fill="#ff0000"/>
<rect x="700" y="235" width="1" height="2" fill="#ff0000"/>
<rect x="701" y="237" width="1" height="1" fill="#ff0000"/>
<rect x="702" y="238" width="1" height="2" fill="#ff0000"/>
<rect x="703" y="240" width="1" height="2" fill="#ff0000"/>
<rect x="704" y="242" width="1" height="1" fill="#ff0000"/>
<rect x="705" y="243" width="1" height="2" fill="#ff0000"/>
<rect x="706" y="245" width="1" height="1" fill="#ff0000"/>
<rect x="707" y="246" width="1" height="1" fill="#ff0000"/>
<rect x="708" y="247" width="1" height="1" fill="#ff0000"/>
<rect x="709" y="248" width="1" height="1" fill="#ff0000"/>
<rect x="710" y="249" width="1" height="1" fill="#ff0000"/>
<rect x="711" y="250" width="4" height="1" fill="#ff0000"/>
<rect x="715" y="251" width="3" height="1" fill="#ff0000"/>
<rect x="718" y="250" width="3" height="1" fill="#ff0000"/>
<rect x="721" y="249" width="2" height="1" fill="#ff0000"/>
<rect x="723" y="248" width="2" height="1" fill="#ff0000"/>
<rect x="725" y="247" width="2" height="1" fill="#ff0000"/>
<rect x="727" y="246" width="1" height="1" fill="#ff0000"/>
<rect x="728" y="245" width="2" height="1" fill="#ff0000"/>
<rect x="730" y="244" width="2" height="1" fill="#ff0000"/>
<rect x="732" y="243" width="2" height="1" fill="#ff0000"/>
<rect x="734" y="242" width="2" height="1" fill="#ff0000"/>
<rect x="736" y="241" width="2" height="1" fill="#ff0000"/>
<rect x="738" y="240" width="2" height="1" fill="#ff0000"/>
<rect x="740" y="239" width="1" height="1" fill="#ff0000"/>
<rect x="741" y="238" width="2" height="1" fill="#ff0000"/>
<rect x="743" y="237" width="2" height="1" fill="#ff0000"/>
<rect x="745" y="236" width="1" height="1" fill="#ff0000"/>
<rect x="746" y="235" width="2" height="1" fill="#ff0000"/>
<rect x="748" y="234" width="1" height="1" fill="#ff0000"/>
<rect x="749" y="233" width="1" height="1" fill="#ff0000"/>
<rect x="750" y="232" width="1" height="1" fill="#ff0000"/>
<rect x="751" y="231" width="1" height="1" fill="#ff0000"/>
<rect x="752" y="230" width="1" height="1" fill="#ff0000"/>
<rect x="753" y="228" width="1" height="2" fill="#ff0000"/>
<rect x="754" y="227" width="1" height="1" fill="#ff0000"/>
<rect x="755" y="226" width="1" height="1" fill="#ff0000"/>
<rect x="756" y="225" width="1" height="1" fill="#ff0000"/>
<rect x="757" y="223" width="1" height="2" fill="#ff0000"/>
<rect x="758" y="222" width="1" height="1" fill="#ff0000"/>
<rect x="759" y="221" width="1" height="1" fill="#ff0000"/>
<rect x="760" y="220" width="1" height="1" fill="#ff0000"/>
<rect x="761" y="219" width="2" height="1" fill="#ff0000"/>
<rect x="763" y="218" width="1" height="1" fill="#ff0000"/>
<rect x="764" y="217" width="2" height="1" fill="#ff0000"/>
<rect x="766" y="216" width="3" height="1" fill="#ff0000"/>
<rect x="769" y="215" width="4" height="1" fill="#ff0000"/>
<rect x="773" y="216" width="2" height="1" fill="#ff0000"/>
<rect x="775" y="217" width="1" height="1" fill="#ff0000"/>
<rect x="776" y="218" width="2" height="1" fill="#ff0000"/>
<rect x="778" y="219" width="1" height="1" fill="#ff0000"/>
<rect x="779" y="220" width="1" height="1" fill="#ff0000"/>
<rect x="780" y="221" width="2" height="1" fill="#ff0000"/>
<rect x="782" y="222" width="1" height="1" fill="#ff0000"/>
<rect x="783" y="223" width="2" height="1" fill="#ff0000"/>
<rect x="785" y="224" width="1" height="1" fill="#ff0000"/>
<rect x="786" y="225" width="1" height="1" fill="#ff0000"/>
<rect x="787" y="226" width="1" height="1" fill="#ff0000"/>
<rect x="788" y="227" width="1" height="2" fill="#ff0000"/>
<rect x="789" y="229" width="1" height="1" fill="#ff0000"/>
<rect x="790" y="230" width="1" height="1" fill="#ff0000"/>
<rect x="791" y="231" width="1" height="1" fill="#ff0000"/>
<rect x="792" y="232" width="1" height="2" fill="#ff0000"/>
<rect x="793" y="234" width="1" height="1" fill="#ff0000"/>
<rect x="794" y="235" width="1" height="1" fill="#ff0000"/>
<rect x="795" y="236" width="1" height="1" fill="#ff0000"/>
<rect x="796" y="237" width="1" height="1" fill="#ff0000"/>
<rect x="797" y="238" width="1" height="2" fill="#ff0000"/>
<rect x="798" y="240" width="1" height="1" fill="#ff0000"/>
<rect x="799" y="241" width="2" height="1" fill="#ff0000"/>
<rect x="801" y="242" width="2" height="1" fill="#ff0000"/>
<rect x="803" y="243" width="1" height="1" fill="#ff0000"/>
<rect x="804" y="243" width="1" height="2" fill="#ff0000"/>
<rect x="805" y="245" width="1" height="1" fill="#ff0000"/>
<rect x="806" y="246" width="1" height="2" fill="#ff0000"/>
<rect x="807" y="248" width="1" height="1" fill="#ff0000"/>
<rect x="808" y="249" width="1" height="1" fill="#ff0000"/>
<rect x="809" y="250" width="1" height="2" fill="#ff0000"/>
<rect x="810" y="252" width="1" height="1" fill="#ff0000"/>
<rect x="811" y="253" width="1" height="1" fill="#ff0000"/>
<rect x="812" y="254" width="1" height="2" fill="#ff0000"/>
<rect x="813" y="256" width="1" height="1" fill="#ff0000"/>
<rect x="814" y="257" width="1" height="1" fill="#ff0000"/>
<rect x="815" y="258" width="1" height="2" fill="#ff0000"/>
<rect x="816" y="260" width="1" height="3" fill="#ff0000"/>
<rect x="817" y="263" width="1" height="2" fill="#ff0000"/>
<rect x="818" y="265" width="1" height="3" fill="#ff0000"/>
<rect x="819" y="268" width="1" height="2" fill="#ff0000"/>
<rect x="820" y="270" width="1" height="3" fill="#ff0000"/>
<rect x="821" y="273" width="1" height="2" fill="#ff0000"/>
<rect x="822" y="275" width="1" height="3" fill="#ff0000"/>
<rect x="823" y="278" width="1" height="3" fill="#ff0000"/>
<rect x="824" y="281" width="1" height="3" fill="#ff0000"/>
<rect x="825" y="284" width="1" height="3" fill="#ff0000"/>
<rect x="826" y="287" width="1" height="3" fill="#ff0000"/>
<rect x="827" y="290" width="1" height="3" fill="#ff0000"/>
<rect x="828" y="293" width="1" height="3" fill="#ff0000"/>
<rect x="829" y="296" width="1" height="2" fill="#ff0000"/>
<rect x="830" y="298" width="1" height="3" fill="#ff0000"/>
<rect x="831" y="301" width="1" height="2" fill="#ff0000"/>
<rect x="832" y="303" width="1" height="2" fill="#ff0000"/>
<rect x="833" y="305" width="1" height="2" fill="#ff0000"/>
<rect x="834" y="307" width="1" height="2" fill="#ff0000"/>
<rect x="835" y="309" width="1" height="2" fill="#ff0000"/>
<rect x="836" y="311" width="1" height="1" fill="#ff0000"/>
<rect x="837" y="312" width="1" height="2" fill="#ff0000"/>
<rect x="838" y="314" width="1" height="2" fill="#ff0000"/>
<rect x="839" y="316" width="1" height="2" fill="#ff0000"/>
<rect x="840" y="318" width="1" height="2" fill="#ff0000"/>
<rect x="841" y="320" width="1" height="1" fill="#ff0000"/>
<rect x="842" y="321" width="1" height="2" fill="#ff0000"/>
<rect x="843" y="323" width="1" height="2" fill="#ff0000"/>
<rect x="844" y="325" width="1" height="2" fill="#ff0000"/>
<rect x="845" y="327" width="1" height="1" fill="#ff0000"/>
<rect x="846" y="328" width="1" height="2" fill="#ff0000"/>
<rect x="847" y="330" width="1" height="2" fill="#ff0000"/>
<rect x="848" y="332" width="1" height="2" fill="#ff0000"/>
<rect x="849" y="334" width="1" height="1" fill="#ff0000"/>
<rect x="850" y="335" width="1" height="2" fill="#ff0000"/>
<rect x="851" y="337" width="1" height="2" fill="#ff0000"/>
<rect x="852" y="339" width="1" height="2" fill="#ff0000"/>
<rect x="853" y="341" width="1" height="1" fill="#ff0000"/>
<rect x="854" y="342" width="1" height="2" fill="#ff0000"/>
<rect x="855" y="344" width="1" height="1" fill="#ff0000"/>
<rect x="856" y="345" width="1" height="1" fill="#ff0000"/>
<rect x="857" y="346" width="2" height="1" fill="#ff0000"/>
<rect x="859" y="347" width="1" height="1" fill="#ff0000"/>
<rect x="860" y="348" width="1" height="1" fill="#ff0000"/>
<rect x="861" y="349" width="1" height="1" fill="#ff0000"/>
<rect x="862" y="350" width="3" height="1" fill="#ff0000"/>
<rect x="865" y="351" width="3" height="1" fill="#ff0000"/>
<rect x="868" y="352" width="4" height="1" fill="#ff0000"/>
<rect x="872" y="351" width="3" height="1" fill="#ff0000"/>
<rect x="875" y="350" width="2" height="1" fill="#ff0000"/>
<rect x="877" y="349" width="1" height="1" fill="#ff0000"/>
<rect x="878" y="348" width="2" height="1" fill="#ff0000"/>
<rect x="880" y="347" width="1" height="1" fill="#ff0000"/>
<rect x="881" y="346" width="1" height="1" fill="#ff0000"/>
<rect x="882" y="345" width="1" height="1" fill="#ff0000"/>
<rect x="883" y="344" width="1" height="1" fill="#ff0000"/>
<rect x="884" y="343" width="1" height="1" fill="#ff0000"/>
<rect x="885" y="342" width="3" height="1" fill="#ff0000"/>
<rect x="888" y="341" width="5" height="1" fill="#ff0000"/>
<rect x="893" y="342" width="2" height="1" fill="#ff0000"/>
<rect x="895" y="343" width="2" height="1" fill="#ff0000"/>
<rect x="897" y="342" width="2" height="1" fill="#ff0000"/>
<rect x="899" y="341" width="2" height="1" fill="#ff0000"/>
<rect x="901" y="340" width="1" height="1" fill="#ff0000"/>
<rect x="902" y="339" width="1" height="2" fill="#ff0000"/>
<rect x="903" y="338" width="1" height="1" fill="#ff0000"/>
<rect x="904" y="337" width="1" height="1" fill="#ff0000"/>
<rect x="905" y="336" width="1" height="1" fill="#ff0000"/>
<rect x="906" y="335" width="1" height="1" fill="#ff0000"/>
<rect x="907" y="334" width="1" height="1" fill="#ff0000"/>
<rect x="908" y="332" width="1" height="2" fill="#ff0000"/>
<rect x="909" y="331" width="2" height="1" fill="#ff0000"/>
<rect x="911" y="330" width="2" height="1" fill="#ff0000"/>
<rect x="913" y="329" width="5" height="1" fill="#ff0000"/>
<rect x="918" y="330" width="3" height="1" fill="#ff0000"/>
<rect x="921" y="331" width="3" height="1" fill="#ff0000"/>
<rect x="4" y="190" width="1162" height="2" fill="#ff0000"/>
<rect x="4" y="250" width="1162" height="2" fill="#ff0000"/>
<rect x="4" y="295" width="1162" height="2" fill="#00ff00"/>
<rect x="4" y="355" width="1162" height="2" fill="#0000ff"/>
<rect x="4" y="406" width="1162" height="2" fill="#0000ff"/>
<rect x="4" y="55" width="1" height="18" fill="#ff0000"/>
<rect x="4" y="56" width="2" height="10" fill="#ff0000"/>
<rect x="4" y="57" width="1" height="8" fill="#ff4500"/>
<rect x="8" y="56" width="1" height="3" fill="#32cd32"/>
<rect x="7" y="56" width="3" height="2" fill="#32cd32"/>
<rect x="12" y="54" width="1" height="16" fill="#32cd32"/>
<rect x="11" y="57" width="3" height="4" fill="#32cd32"/>
<rect x="16" y="55" width="1" height="36" fill="#32cd32"/>
<rect x="15" y="60" width="3" height="30" fill="#32cd32"/>
<rect x="20" y="68" width="1" height="23" fill="#ff0000"/>
<rect x="19" y="70" width="3" height="20" fill="#ff0000"/>
<rect x="20" y="71" width="1" height="18" fill="#ff4500"/>
<rect x="24" y="64" width="1" height="19" fill="#32cd32"/>
<rect x="23" y="70" width="3" height="8" fill="#32cd32"/>
<rect x="28" y="73" width="1" height="11" fill="#32cd32"/>
<rect x="27" y="77" width="3" height="2" fill="#32cd32"/>
<rect x="32" y="76" width="1" height="2" fill="#ff0000"/>
<rect x="31" y="76" width="3" height="2" fill="#ff0000"/>
<rect x="36" y="73" width="1" height="20" fill="#32cd32"/>
<rect x="35" y="77" width="3" height="7" fill="#32cd32"/>
<rect x="40" y="80" width="1" height="16" fill="#32cd32"/>
<rect x="39" y="83" width="3" height="5" fill="#32cd32"/>
<rect x="44" y="79" width="1" height="18" fill="#ff0000"/>
<rect x="43" y="84" width="3" height="3" fill="#ff0000"/>
<rect x="44" y="85" width="1" height="1" fill="#ff4500"/>
<rect x="48" y="71" width="1" height="24" fill="#32cd32"/>
<rect x="47" y="83" width="3" height="8" fill="#32cd32"/>
<rect x="52" y="85" width="1" height="11" fill="#32cd32"/>
<rect x="51" y="89" width="3" height="2" fill="#32cd32"/>
<rect x="56" y="89" width="1" height="3" fill="#32cd32"/>
<rect x="55" y="89" width="3" height="2" fill="#32cd32"/>
<rect x="60" y="75" width="1" height="19" fill="#ff0000"/>
<rect x="59" y="79" width="3" height="11" fill="#ff0000"/>
<rect x="60" y="80" width="1" height="9" fill="#ff4500"/>
<rect x="64" y="67" width="1" height="24" fill="#ff0000"/>
<rect x="63" y="74" width="3" height="7" fill="#ff0000"/>
<rect x="64" y="75" width="1" height="5" fill="#ff4500"/>
<rect x="68" y="64" width="1" height="26" fill="#ff0000"/>
<rect x="67" y="67" width="3" height="8" fill="#ff0000"/>
<rect x="68" y="68" width="1" height="6" fill="#ff4500"/>
<rect x="72" y="50" width="1" height="18" fill="#ff0000"/>
<rect x="71" y="50" width="3" height="18" fill="#ff0000"/>
<rect x="72" y="51" width="1" height="16" fill="#ff4500"/>
<rect x="76" y="45" width="1" height="20" fill="#32cd32"/>
<rect x="75" y="51" width="3" height="13" fill="#32cd32"/>
<rect x="80" y="58" width="1" height="4" fill="#32cd32"/>
<rect x="79" y="58" width="3" height="3" fill="#32cd32"/>
<rect x="84" y="49" width="1" height="13" fill="#ff0000"/>
<rect x="83" y="56" width="3" height="4" fill="#ff0000"/>
<rect x="84" y="57" width="1" height="2" fill="#ff4500"/>
<rect x="88" y="50" width="1" height="14" fill="#32cd32"/>
<rect x="87" y="56" width="3" height="3" fill="#32cd32"/>
<rect x="92" y="48" width="1" height="22" fill="#32cd32"/>
<rect x="91" y="58" width="3" height="11" fill="#32cd32"/>
<rect x="96" y="62" width="1" height="10" fill="#32cd32"/>
<rect x="95" y="68" width="3" height="3" fill="#32cd32"/>
<rect x="100" y="70" width="1" height="26" fill="#32cd32"/>
<rect x="99" y="70" width="3" height="26" fill="#32cd32"/>
<rect x="104" y="95" width="1" height="5" fill="#32cd32"/>
<rect x="103" y="95" width="3" height="4" fill="#32cd32"/>
<rect x="108" y="91" width="1" height="12" fill="#32cd32"/>
<rect x="107" y="97" width="3" height="5" fill="#32cd32"/>
<rect x="112" y="99" width="1" height="12" fill="#32cd32"/>
<rect x="111" y="103" width="3" height="4" fill="#32cd32"/>
<rect x="116" y="96" width="1" height="15" fill="#ff0000"/>
<rect x="115" y="100" width="3" height="7" fill="#ff0000"/>
<rect x="116" y="101" width="1" height="5" fill="#ff4500"/>
<rect x="120" y="97" width="1" height="9" fill="#32cd32"/>
<rect x="119" y="100" width="3" height="3" fill="#32cd32"/>
<rect x="124" y="80" width="1" height="24" fill="#ff0000"/>
<rect x="123" y="81" width="3" height="22" fill="#ff0000"/>
<rect x="124" y="82" width="1" height="20" fill="#ff4500"/>
<rect x="128" y="82" width="1" height="2" fill="#ff0000"/>
<rect x="127" y="82" width="3" height="2" fill="#ff0000"/>
<rect x="132" y="81" width="1" height="11" fill="#32cd32"/>
<rect x="131" y="82" width="3" height="7" fill="#32cd32"/>
<rect x="136" y="86" width="1" height="28" fill="#32cd32"/>
<rect x="135" y="87" width="3" height="24" fill="#32cd32"/>
<rect x="140" y="99" width="1" height="17" fill="#32cd32"/>
<rect x="139" y="110" width="3" height="3" fill="#32cd32"/>
<rect x="144" y="112" width="1" height="12" fill="#32cd32"/>
<rect x="143" y="112" width="3" height="10" fill="#32cd32"/>
<rect x="148" y="112" width="1" height="14" fill="#ff0000"/>
<rect x="147" y="114" width="3" height="8" fill="#ff0000"/>
<rect x="148" y="115" width="1" height="6" fill="#ff4500"/>
<rect x="152" y="115" width="1" height="2" fill="#ff0000"/>
<rect x="151" y="115" width="3" height="1" fill="#ff0000"/>
<rect x="156" y="97" width="1" height="19" fill="#ff0000"/>
<rect x="155" y="99" width="3" height="16" fill="#ff0000"/>
<rect x="156" y="100" width="1" height="14" fill="#ff4500"/>
<rect x="160" y="92" width="1" height="13" fill="#ff0000"/>
<rect x="159" y="96" width="3" height="4" fill="#ff0000"/>
<rect x="160" y="97" width="1" height="2" fill="#ff4500"/>
<rect x="164" y="87" width="1" height="18" fill="#ff0000"/>
<rect x="163" y="90" width="3" height="8" fill="#ff0000"/>
<rect x="164" y="91" width="1" height="6" fill="#ff4500"/>
<rect x="168" y="87" width="1" height="12" fill="#32cd32"/>
<rect x="167" y="90" width="3" height="8" fill="#32cd32"/>
<rect x="172" y="80" width="1" height="23" fill="#ff0000"/>
<rect x="171" y="82" width="3" height="15" fill="#ff0000"/>
<rect x="172" y="83" width="1" height="13" fill="#ff4500"/>
<rect x="176" y="81" width="1" height="3" fill="#32cd32"/>
<rect x="175" y="81" width="3" height="2" fill="#32cd32"/>
<rect x="180" y="77" width="1" height="10" fill="#32cd32"/>
<rect x="179" y="81" width="3" height="2" fill="#32cd32"/>
<rect x="184" y="66" width="1" height="17" fill="#ff0000"/>
<rect x="183" y="77" width="3" height="6" fill="#ff0000"/>
<rect x="184" y="78" width="1" height="4" fill="#ff4500"/>
<rect x="188" y="62" width="1" height="22" fill="#ff0000"/>
<rect x="187" y="67" width="3" height="11" fill="#ff0000"/>
<rect x="188" y="68" width="1" height="9" fill="#ff4500"/>
<rect x="192" y="56" width="1" height="14" fill="#ff0000"/>
<rect x="191" y="56" width="3" height="12" fill="#ff0000"/>
<rect x="192" y="57" width="1" height="10" fill="#ff4500"/>
<rect x="196" y="45" width="1" height="15" fill="#ff0000"/>
<rect x="195" y="51" width="3" height="6" fill="#ff0000"/>
<rect x="196" y="52" width="1" height="4" fill="#ff4500"/>
<rect x="200" y="52" width="1" height="3" fill="#ff0000"/>
<rect x="199" y="53" width="3" height="2" fill="#ff0000"/>
<rect x="204" y="52" width="1" height="11" fill="#32cd32"/>
<rect x="203" y="52" width="3" height="5" fill="#32cd32"/>
<rect x="208" y="53" width="1" height="16" fill="#32cd32"/>
<rect x="207" y="57" width="3" height="10" fill="#32cd32"/>
<rect x="212" y="64" width="1" height="17" fill="#32cd32"/>
<rect x="211" y="66" width="3" height="9" fill="#32cd32"/>
<rect x="216" y="67" width="1" height="13" fill="#ff0000"/>
<rect x="215" y="72" width="3" height="3" fill="#ff0000"/>
<rect x="216" y="73" width="1" height="1" fill="#ff4500"/>
<rect x="220" y="64" width="1" height="13" fill="#32cd32"/>
<rect x="219" y="73" width="3" height="3" fill="#32cd32"/>
<rect x="224" y="77" width="1" height="1" fill="#32cd32"/>
<rect x="223" y="77" width="3" height="1" fill="#32cd32"/>
<rect x="228" y="75" width="1" height="16" fill="#32cd32"/>
<rect x="227" y="76" width="3" height="2" fill="#32cd32"/>
<rect x="232" y="65" width="1" height="16" fill="#32cd32"/>
<rect x="231" y="76" width="3" height="5" fill="#32cd32"/>
<rect x="236" y="70" width="1" height="12" fill="#ff0000"/>
<rect x="235" y="74" width="3" height="7" fill="#ff0000"/>
<rect x="236" y="75" width="1" height="5" fill="#ff4500"/>
<rect x="240" y="74" width="1" height="24" fill="#32cd32"/>
<rect x="239" y="74" width="3" height="19" fill="#32cd32"/>
<rect x="244" y="84" width="1" height="22" fill="#32cd32"/>
<rect x="243" y="92" width="3" height="13" fill="#32cd32"/>
<rect x="248" y="104" width="1" height="2" fill="#ff0000"/>
<rect x="247" y="104" width="3" height="1" fill="#ff0000"/>
<rect x="252" y="101" width="1" height="13" fill="#32cd32"/>
<rect x="251" y="104" width="3" height="1" fill="#32cd32"/>
<rect x="256" y="97" width="1" height="12" fill="#32cd32"/>
<rect x="255" y="105" width="3" height="2" fill="#32cd32"/>
<rect x="260" y="95" width="1" height="24" fill="#32cd32"/>
<rect x="259" y="106" width="3" height="12" fill="#32cd32"/>
<rect x="264" y="97" width="1" height="23" fill="#ff0000"/>
<rect x="263" y="100" width="3" height="18" fill="#ff0000"/>
<rect x="264" y="101" width="1" height="16" fill="#ff4500"/>
<rect x="268" y="98" width="1" height="15" fill="#32cd32"/>
<rect x="267" y="100" width="3" height="9" fill="#32cd32"/>
<rect x="272" y="105" width="1" height="3" fill="#ff0000"/>
<rect x="271" y="106" width="3" height="2" fill="#ff0000"/>
<rect x="276" y="105" width="1" height="14" fill="#32cd32"/>
<rect x="275" y="106" width="3" height="10" fill="#32cd32"/>
<rect x="280" y="112" width="1" height="13" fill="#32cd32"/>
<rect x="279" y="115" width="3" height="4" fill="#32cd32"/>
<rect x="284" y="117" width="1" height="33" fill="#32cd32"/>
<rect x="283" y="118" width="3" height="29" fill="#32cd32"/>
<rect x="288" y="143" width="1" height="16" fill="#32cd32"/>
<rect x="287" y="146" width="3" height="10" fill="#32cd32"/>
<rect x="292" y="144" width="1" height="14" fill="#ff0000"/>
<rect x="291" y="147" width="3" height="9" fill="#ff0000"/>
<rect x="292" y="148" width="1" height="7" fill="#ff4500"/>
<rect x="296" y="143" width="1" height="2" fill="#32cd32"/>
<rect x="295" y="144" width="3" height="1" fill="#32cd32"/>
<rect x="300" y="133" width="1" height="18" fill="#ff0000"/>
<rect x="299" y="141" width="3" height="4" fill="#ff0000"/>
<rect x="300" y="142" width="1" height="2" fill="#ff4500"/>
<rect x="304" y="139" width="1" height="14" fill="#32cd32"/>
<rect x="303" y="141" width="3" height="7" fill="#32cd32"/>
<rect x="308" y="147" width="1" height="23" fill="#32cd32"/>
<rect x="307" y="147" width="3" height="15" fill="#32cd32"/>
<rect x="312" y="155" width="1" height="9" fill="#ff0000"/>
<rect x="311" y="159" width="3" height="3" fill="#ff0000"/>
<rect x="312" y="160" width="1" height="1" fill="#ff4500"/>
<rect x="316" y="151" width="1" height="15" fill="#ff0000"/>
<rect x="315" y="154" width="3" height="6" fill="#ff0000"/>
<rect x="316" y="155" width="1" height="4" fill="#ff4500"/>
<rect x="320" y="156" width="1" height="3" fill="#32cd32"/>
<rect x="319" y="156" width="3" height="2" fill="#32cd32"/>
<rect x="324" y="150" width="1" height="14" fill="#32cd32"/>
<rect x="323" y="157" width="3" height="6" fill="#32cd32"/>
<rect x="328" y="156" width="1" height="16" fill="#32cd32"/>
<rect x="327" y="161" width="3" height="9" fill="#32cd32"/>
<rect x="332" y="146" width="1" height="24" fill="#ff0000"/>
<rect x="331" y="147" width="3" height="23" fill="#ff0000"/>
<rect x="332" y="148" width="1" height="21" fill="#ff4500"/>
<rect x="336" y="138" width="1" height="14" fill="#32cd32"/>
<rect x="335" y="147" width="3" height="3" fill="#32cd32"/>
<rect x="340" y="141" width="1" height="10" fill="#ff0000"/>
<rect x="339" y="144" width="3" height="6" fill="#ff0000"/>
<rect x="340" y="145" width="1" height="4" fill="#ff4500"/>
<rect x="344" y="146" width="1" height="2" fill="#32cd32"/>
<rect x="343" y="146" width="3" height="2" fill="#32cd32"/>
<rect x="348" y="139" width="1" height="17" fill="#ff0000"/>
<rect x="347" y="143" width="3" height="5" fill="#ff0000"/>
<rect x="348" y="144" width="1" height="3" fill="#ff4500"/>
<rect x="352" y="123" width="1" height="20" fill="#ff0000"/>
<rect x="351" y="136" width="3" height="7" fill="#ff0000"/>
<rect x="352" y="137" width="1" height="5" fill="#ff4500"/>
<rect x="356" y="127" width="1" height="15" fill="#ff0000"/>
<rect x="355" y="129" width="3" height="8" fill="#ff0000"/>
<rect x="356" y="130" width="1" height="6" fill="#ff4500"/>
<rect x="360" y="124" width="1" height="17" fill="#32cd32"/>
<rect x="359" y="129" width="3" height="10" fill="#32cd32"/>
<rect x="364" y="128" width="1" height="12" fill="#ff0000"/>
<rect x="363" y="134" width="3" height="5" fill="#ff0000"/>
<rect x="364" y="135" width="1" height="3" fill="#ff4500"/>
<rect x="368" y="131" width="1" height="4" fill="#32cd32"/>
<rect x="367" y="132" width="3" height="2" fill="#32cd32"/>
<rect x="372" y="125" width="1" height="25" fill="#32cd32"/>
<rect x="371" y="133" width="3" height="11" fill="#32cd32"/>
<rect x="376" y="138" width="1" height="14" fill="#32cd32"/>
<rect x="375" y="143" width="3" height="4" fill="#32cd32"/>
<rect x="380" y="138" width="1" height="14" fill="#ff0000"/>
<rect x="379" y="146" width="3" height="2" fill="#ff0000"/>
<rect x="384" y="116" width="1" height="37" fill="#ff0000"/>
<rect x="383" y="119" width="3" height="29" fill="#ff0000"/>
<rect x="384" y="120" width="1" height="27" fill="#ff4500"/>
<rect x="388" y="117" width="1" height="51" fill="#32cd32"/>
<rect x="387" y="119" width="3" height="41" fill="#32cd32"/>
<rect x="392" y="158" width="1" height="4" fill="#32cd32"/>
<rect x="391" y="159" width="3" height="2" fill="#32cd32"/>
<rect x="396" y="143" width="1" height="22" fill="#ff0000"/>
<rect x="395" y="146" width="3" height="15" fill="#ff0000"/>
<rect x="396" y="147" width="1" height="13" fill="#ff4500"/>
<rect x="400" y="142" width="1" height="13" fill="#32cd32"/>
<rect x="399" y="146" width="3" height="8" fill="#32cd32"/>
<rect x="404" y="141" width="1" height="18" fill="#ff0000"/>
<rect x="403" y="142" width="3" height="12" fill="#ff0000"/>
<rect x="404" y="143" width="1" height="10" fill="#ff4500"/>
<rect x="408" y="141" width="1" height="30" fill="#32cd32"/>
<rect x="407" y="141" width="3" height="21" fill="#32cd32"/>
<rect x="412" y="156" width="1" height="19" fill="#32cd32"/>
<rect x="411" y="161" width="3" height="2" fill="#32cd32"/>
<rect x="416" y="156" width="1" height="3" fill="#ff0000"/>
<rect x="415" y="157" width="3" height="2" fill="#ff0000"/>
<rect x="420" y="149" width="1" height="14" fill="#ff0000"/>
<rect x="419" y="150" width="3" height="8" fill="#ff0000"/>
<rect x="420" y="151" width="1" height="6" fill="#ff4500"/>
<rect x="424" y="143" width="1" height="14" fill="#ff0000"/>
<rect x="423" y="148" width="3" height="3" fill="#ff0000"/>
<rect x="424" y="149" width="1" height="1" fill="#ff4500"/>
<rect x="428" y="147" width="1" height="41" fill="#32cd32"/>
<rect x="427" y="148" width="3" height="37" fill="#32cd32"/>
<rect x="432" y="183" width="1" height="16" fill="#32cd32"/>
<rect x="431" y="184" width="3" height="13" fill="#32cd32"/>
<rect x="436" y="191" width="1" height="11" fill="#32cd32"/>
<rect x="435" y="196" width="3" height="3" fill="#32cd32"/>
<rect x="440" y="197" width="1" height="1" fill="#32cd32"/>
<rect x="439" y="197" width="3" height="1" fill="#32cd32"/>
<rect x="444" y="191" width="1" height="36" fill="#32cd32"/>
<rect x="443" y="198" width="3" height="26" fill="#32cd32"/>
<rect x="448" y="216" width="1" height="26" fill="#32cd32"/>
<rect x="447" y="222" width="3" height="18" fill="#32cd32"/>
<rect x="452" y="234" width="1" height="23" fill="#32cd32"/>
<rect x="451" y="238" width="3" height="2" fill="#32cd32"/>
<rect x="456" y="220" width="1" height="21" fill="#ff0000"/>
<rect x="455" y="222" width="3" height="18" fill="#ff0000"/>
<rect x="456" y="223" width="1" height="16" fill="#ff4500"/>
<rect x="460" y="222" width="1" height="40" fill="#32cd32"/>
<rect x="459" y="222" width="3" height="27" fill="#32cd32"/>
<rect x="464" y="249" width="1" height="6" fill="#32cd32"/>
<rect x="463" y="250" width="3" height="3" fill="#32cd32"/>
<rect x="468" y="248" width="1" height="20" fill="#32cd32"/>
<rect x="467" y="251" width="3" height="14" fill="#32cd32"/>
<rect x="472" y="253" width="1" height="17" fill="#ff0000"/>
<rect x="471" y="263" width="3" height="1" fill="#ff0000"/>
<rect x="476" y="259" width="1" height="24" fill="#32cd32"/>
<rect x="475" y="263" width="3" height="14" fill="#32cd32"/>
<rect x="480" y="267" width="1" height="9" fill="#ff0000"/>
<rect x="479" y="274" width="3" height="2" fill="#ff0000"/>
<rect x="484" y="237" width="1" height="39" fill="#ff0000"/>
<rect x="483" y="240" width="3" height="35" fill="#ff0000"/>
<rect x="484" y="241" width="1" height="33" fill="#ff4500"/>
<rect x="488" y="244" width="1" height="8" fill="#32cd32"/>
<rect x="487" y="245" width="3" height="4" fill="#32cd32"/>
<rect x="492" y="244" width="1" height="15" fill="#ff0000"/>
<rect x="491" y="246" width="3" height="3" fill="#ff0000"/>
<rect x="492" y="247" width="1" height="1" fill="#ff4500"/>
<rect x="496" y="217" width="1" height="49" fill="#ff0000"/>
<rect x="495" y="235" width="3" height="13" fill="#ff0000"/>
<rect x="496" y="236" width="1" height="11" fill="#ff4500"/>
<rect x="500" y="225" width="1" height="21" fill="#32cd32"/>
<rect x="499" y="235" width="3" height="5" fill="#32cd32"/>
<rect x="504" y="229" width="1" height="18" fill="#32cd32"/>
<rect x="503" y="238" width="3" height="6" fill="#32cd32"/>
<rect x="508" y="233" width="1" height="23" fill="#ff0000"/>
<rect x="507" y="241" width="3" height="3" fill="#ff0000"/>
<rect x="508" y="242" width="1" height="1" fill="#ff4500"/>
<rect x="512" y="242" width="1" height="3" fill="#32cd32"/>
<rect x="511" y="242" width="3" height="2" fill="#32cd32"/>
<rect x="516" y="242" width="1" height="14" fill="#32cd32"/>
<rect x="515" y="243" width="3" height="8" fill="#32cd32"/>
<rect x="520" y="245" width="1" height="24" fill="#32cd32"/>
<rect x="519" y="250" width="3" height="5" fill="#32cd32"/>
<rect x="524" y="226" width="1" height="30" fill="#ff0000"/>
<rect x="523" y="230" width="3" height="25" fill="#ff0000"/>
<rect x="524" y="231" width="1" height="23" fill="#ff4500"/>
<rect x="528" y="230" width="1" height="22" fill="#32cd32"/>
<rect x="527" y="230" width="3" height="18" fill="#32cd32"/>
<rect x="532" y="237" width="1" height="20" fill="#ff0000"/>
<rect x="531" y="241" width="3" height="6" fill="#ff0000"/>
<rect x="532" y="242" width="1" height="4" fill="#ff4500"/>
<rect x="536" y="238" width="1" height="5" fill="#32cd32"/>
<rect x="535" y="240" width="3" height="2" fill="#32cd32"/>
<rect x="540" y="240" width="1" height="18" fill="#32cd32"/>
<rect x="539" y="241" width="3" height="9" fill="#32cd32"/>
<rect x="544" y="237" width="1" height="24" fill="#32cd32"/>
<rect x="543" y="250" width="3" height="9" fill="#32cd32"/>
<rect x="548" y="245" width="1" height="26" fill="#ff0000"/>
<rect x="547" y="248" width="3" height="11" fill="#ff0000"/>
<rect x="548" y="249" width="1" height="9" fill="#ff4500"/>
<rect x="552" y="225" width="1" height="25" fill="#ff0000"/>
<rect x="551" y="233" width="3" height="15" fill="#ff0000"/>
<rect x="552" y="234" width="1" height="13" fill="#ff4500"/>
<rect x="556" y="228" width="1" height="33" fill="#32cd32"/>
<rect x="555" y="233" width="3" height="28" fill="#32cd32"/>
<rect x="560" y="263" width="1" height="4" fill="#ff0000"/>
<rect x="559" y="263" width="3" height="3" fill="#ff0000"/>
<rect x="560" y="264" width="1" height="1" fill="#ff4500"/>
<rect x="564" y="243" width="1" height="23" fill="#ff0000"/>
<rect x="563" y="250" width="3" height="14" fill="#ff0000"/>
<rect x="564" y="251" width="1" height="12" fill="#ff4500"/>
<rect x="568" y="244" width="1" height="13" fill="#ff0000"/>
<rect x="567" y="249" width="3" height="4" fill="#ff0000"/>
<rect x="568" y="250" width="1" height="2" fill="#ff4500"/>
<rect x="572" y="231" width="1" height="26" fill="#ff0000"/>
<rect x="571" y="236" width="3" height="12" fill="#ff0000"/>
<rect x="572" y="237" width="1" height="10" fill="#ff4500"/>
<rect x="576" y="231" width="1" height="17" fill="#32cd32"/>
<rect x="575" y="236" width="3" height="2" fill="#32cd32"/>
<rect x="580" y="230" width="1" height="14" fill="#32cd32"/>
<rect x="579" y="237" width="3" height="5" fill="#32cd32"/>
<rect x="584" y="236" width="1" height="2" fill="#ff0000"/>
<rect x="583" y="237" width="3" height="1" fill="#ff0000"/>
<rect x="588" y="233" width="1" height="11" fill="#ff0000"/>
<rect x="587" y="235" width="3" height="3" fill="#ff0000"/>
<rect x="588" y="236" width="1" height="1" fill="#ff4500"/>
<rect x="592" y="234" width="1" height="14" fill="#32cd32"/>
<rect x="591" y="235" width="3" height="5" fill="#32cd32"/>
<rect x="596" y="222" width="1" height="32" fill="#ff0000"/>
<rect x="595" y="225" width="3" height="15" fill="#ff0000"/>
<rect x="596" y="226" width="1" height="13" fill="#ff4500"/>
<rect x="600" y="225" width="1" height="21" fill="#32cd32"/>
<rect x="599" y="225" width="3" height="13" fill="#32cd32"/>
<rect x="604" y="216" width="1" height="28" fill="#ff0000"/>
<rect x="603" y="217" width="3" height="21" fill="#ff0000"/>
<rect x="604" y="218" width="1" height="19" fill="#ff4500"/>
<rect x="608" y="219" width="1" height="4" fill="#32cd32"/>
<rect x="607" y="220" width="3" height="2" fill="#32cd32"/>
<rect x="612" y="220" width="1" height="32" fill="#32cd32"/>
<rect x="611" y="220" width="3" height="25" fill="#32cd32"/>
<rect x="616" y="237" width="1" height="17" fill="#32cd32"/>
<rect x="615" y="244" width="3" height="7" fill="#32cd32"/>
<rect x="620" y="229" width="1" height="24" fill="#ff0000"/>
<rect x="619" y="241" width="3" height="11" fill="#ff0000"/>
<rect x="620" y="242" width="1" height="9" fill="#ff4500"/>
<rect x="624" y="234" width="1" height="16" fill="#32cd32"/>
<rect x="623" y="241" width="3" height="6" fill="#32cd32"/>
<rect x="628" y="223" width="1" height="26" fill="#ff0000"/>
<rect x="627" y="224" width="3" height="23" fill="#ff0000"/>
<rect x="628" y="225" width="1" height="21" fill="#ff4500"/>
<rect x="632" y="226" width="1" height="3" fill="#32cd32"/>
<rect x="631" y="227" width="3" height="1" fill="#32cd32"/>
<rect x="636" y="225" width="1" height="25" fill="#32cd32"/>
<rect x="635" y="227" width="3" height="9" fill="#32cd32"/>
<rect x="640" y="220" width="1" height="21" fill="#ff0000"/>
<rect x="639" y="223" width="3" height="13" fill="#ff0000"/>
<rect x="640" y="224" width="1" height="11" fill="#ff4500"/>
<rect x="644" y="194" width="1" height="34" fill="#ff0000"/>
<rect x="643" y="199" width="3" height="25" fill="#ff0000"/>
<rect x="644" y="200" width="1" height="23" fill="#ff4500"/>
<rect x="648" y="185" width="1" height="16" fill="#ff0000"/>
<rect x="647" y="193" width="3" height="7" fill="#ff0000"/>
<rect x="648" y="194" width="1" height="5" fill="#ff4500"/>
<rect x="652" y="185" width="1" height="28" fill="#32cd32"/>
<rect x="651" y="193" width="3" height="15" fill="#32cd32"/>
<rect x="656" y="206" width="1" height="4" fill="#32cd32"/>
<rect x="655" y="207" width="3" height="2" fill="#32cd32"/>
<rect x="660" y="200" width="1" height="15" fill="#32cd32"/>
<rect x="659" y="208" width="3" height="1" fill="#32cd32"/>
<rect x="664" y="205" width="1" height="36" fill="#32cd32"/>
<rect x="663" y="208" width="3" height="28" fill="#32cd32"/>
<rect x="668" y="226" width="1" height="12" fill="#ff0000"/>
<rect x="667" y="230" width="3" height="6" fill="#ff0000"/>
<rect x="668" y="231" width="1" height="4" fill="#ff4500"/>
<rect x="672" y="222" width="1" height="22" fill="#32cd32"/>
<rect x="671" y="230" width="3" height="11" fill="#32cd32"/>
<rect x="676" y="225" width="1" height="20" fill="#ff0000"/>
<rect x="675" y="231" width="3" height="9" fill="#ff0000"/>
<rect x="676" y="232" width="1" height="7" fill="#ff4500"/>
<rect x="680" y="230" width="1" height="3" fill="#ff0000"/>
<rect x="679" y="231" width="3" height="2" fill="#ff0000"/>
<rect x="684" y="231" width="1" height="18" fill="#32cd32"/>
<rect x="683" y="231" width="3" height="7" fill="#32cd32"/>
<rect x="688" y="237" width="1" height="20" fill="#32cd32"/>
<rect x="687" y="237" width="3" height="7" fill="#32cd32"/>
<rect x="692" y="241" width="1" height="26" fill="#32cd32"/>
<rect x="691" y="243" width="3" height="22" fill="#32cd32"/>
<rect x="696" y="263" width="1" height="37" fill="#32cd32"/>
<rect x="695" y="264" width="3" height="31" fill="#32cd32"/>
<rect x="700" y="286" width="1" height="18" fill="#32cd32"/>
<rect x="699" y="294" width="3" height="2" fill="#32cd32"/>
<rect x="704" y="293" width="1" height="4" fill="#ff0000"/>
<rect x="703" y="293" width="3" height="2" fill="#ff0000"/>
<rect x="708" y="261" width="1" height="36" fill="#ff0000"/>
<rect x="707" y="268" width="3" height="26" fill="#ff0000"/>
<rect x="708" y="269" width="1" height="24" fill="#ff4500"/>
<rect x="712" y="251" width="1" height="20" fill="#ff0000"/>
<rect x="711" y="253" width="3" height="16" fill="#ff0000"/>
<rect x="712" y="254" width="1" height="14" fill="#ff4500"/>
<rect x="716" y="234" width="1" height="22" fill="#ff0000"/>
<rect x="715" y="245" width="3" height="9" fill="#ff0000"/>
<rect x="716" y="246" width="1" height="7" fill="#ff4500"/>
<rect x="720" y="195" width="1" height="61" fill="#ff0000"/>
<rect x="719" y="200" width="3" height="46" fill="#ff0000"/>
<rect x="720" y="201" width="1" height="44" fill="#ff4500"/>
<rect x="724" y="184" width="1" height="25" fill="#ff0000"/>
<rect x="723" y="196" width="3" height="5" fill="#ff0000"/>
<rect x="724" y="197" width="1" height="3" fill="#ff4500"/>
<rect x="728" y="193" width="1" height="3" fill="#32cd32"/>
<rect x="727" y="193" width="3" height="2" fill="#32cd32"/>
<rect x="732" y="192" width="1" height="16" fill="#32cd32"/>
<rect x="731" y="194" width="3" height="5" fill="#32cd32"/>
<rect x="736" y="197" width="1" height="17" fill="#32cd32"/>
<rect x="735" y="198" width="3" height="8" fill="#32cd32"/>
<rect x="740" y="196" width="1" height="16" fill="#ff0000"/>
<rect x="739" y="205" width="3" height="1" fill="#ff0000"/>
<rect x="744" y="181" width="1" height="40" fill="#32cd32"/>
<rect x="743" y="205" width="3" height="4" fill="#32cd32"/>
<rect x="748" y="206" width="1" height="29" fill="#32cd32"/>
<rect x="747" y="208" width="3" height="26" fill="#32cd32"/>
<rect x="752" y="222" width="1" height="10" fill="#ff0000"/>
<rect x="751" y="223" width="3" height="8" fill="#ff0000"/>
<rect x="752" y="224" width="1" height="6" fill="#ff4500"/>
<rect x="756" y="222" width="1" height="30" fill="#32cd32"/>
<rect x="755" y="223" width="3" height="20" fill="#32cd32"/>
<rect x="760" y="222" width="1" height="22" fill="#ff0000"/>
<rect x="759" y="226" width="3" height="17" fill="#ff0000"/>
<rect x="760" y="227" width="1" height="15" fill="#ff4500"/>
<rect x="764" y="213" width="1" height="18" fill="#ff0000"/>
<rect x="763" y="221" width="3" height="7" fill="#ff0000"/>
<rect x="764" y="222" width="1" height="5" fill="#ff4500"/>
<rect x="768" y="216" width="1" height="22" fill="#32cd32"/>
<rect x="767" y="221" width="3" height="3" fill="#32cd32"/>
<rect x="772" y="219" width="1" height="22" fill="#32cd32"/>
<rect x="771" y="224" width="3" height="11" fill="#32cd32"/>
<rect x="776" y="237" width="1" height="4" fill="#32cd32"/>
<rect x="775" y="238" width="3" height="2" fill="#32cd32"/>
<rect x="780" y="215" width="1" height="32" fill="#32cd32"/>
<rect x="779" y="239" width="3" height="3" fill="#32cd32"/>
<rect x="784" y="222" width="1" height="27" fill="#ff0000"/>
<rect x="783" y="235" width="3" height="7" fill="#ff0000"/>
<rect x="784" y="236" width="1" height="5" fill="#ff4500"/>
<rect x="788" y="225" width="1" height="20" fill="#32cd32"/>
<rect x="787" y="235" width="3" height="9" fill="#32cd32"/>
<rect x="792" y="242" width="1" height="67" fill="#32cd32"/>
<rect x="791" y="243" width="3" height="38" fill="#32cd32"/>
<rect x="796" y="255" width="1" height="34" fill="#ff0000"/>
<rect x="795" y="256" width="3" height="25" fill="#ff0000"/>
<rect x="796" y="257" width="1" height="23" fill="#ff4500"/>
<rect x="800" y="281" width="1" height="14" fill="#ff0000"/>
<rect x="799" y="284" width="3" height="8" fill="#ff0000"/>
<rect x="800" y="285" width="1" height="6" fill="#ff4500"/>
<rect x="804" y="262" width="1" height="35" fill="#ff0000"/>
<rect x="803" y="272" width="3" height="13" fill="#ff0000"/>
<rect x="804" y="273" width="1" height="11" fill="#ff4500"/>
<rect x="808" y="266" width="1" height="48" fill="#32cd32"/>
<rect x="807" y="273" width="3" height="27" fill="#32cd32"/>
<rect x="812" y="297" width="1" height="28" fill="#32cd32"/>
<rect x="811" y="300" width="3" height="6" fill="#32cd32"/>
<rect x="816" y="305" width="1" height="27" fill="#32cd32"/>
<rect x="815" y="306" width="3" height="15" fill="#32cd32"/>
<rect x="820" y="321" width="1" height="60" fill="#32cd32"/>
<rect x="819" y="321" width="3" height="51" fill="#32cd32"/>
<rect x="824" y="369" width="1" height="19" fill="#32cd32"/>
<rect x="823" y="371" width="3" height="14" fill="#32cd32"/>
<rect x="828" y="365" width="1" height="42" fill="#32cd32"/>
<rect x="827" y="385" width="3" height="3" fill="#32cd32"/>
<rect x="832" y="356" width="1" height="37" fill="#ff0000"/>
<rect x="831" y="376" width="3" height="12" fill="#ff0000"/>
<rect x="832" y="377" width="1" height="10" fill="#ff4500"/>
<rect x="836" y="312" width="1" height="66" fill="#ff0000"/>
<rect x="835" y="319" width="3" height="58" fill="#ff0000"/>
<rect x="836" y="320" width="1" height="56" fill="#ff4500"/>
<rect x="840" y="303" width="1" height="49" fill="#32cd32"/>
<rect x="839" y="319" width="3" height="20" fill="#32cd32"/>
<rect x="844" y="336" width="1" height="40" fill="#32cd32"/>
<rect x="843" y="338" width="3" height="35" fill="#32cd32"/>
<rect x="848" y="364" width="1" height="4" fill="#ff0000"/>
<rect x="847" y="365" width="3" height="2" fill="#ff0000"/>
<rect x="852" y="345" width="1" height="31" fill="#ff0000"/>
<rect x="851" y="361" width="3" height="4" fill="#ff0000"/>
<rect x="852" y="362" width="1" height="2" fill="#ff4500"/>
<rect x="856" y="336" width="1" height="32" fill="#ff0000"/>
<rect x="855" y="354" width="3" height="8" fill="#ff0000"/>
<rect x="856" y="355" width="1" height="6" fill="#ff4500"/>
<rect x="860" y="327" width="1" height="33" fill="#ff0000"/>
<rect x="859" y="336" width="3" height="18" fill="#ff0000"/>
<rect x="860" y="337" width="1" height="16" fill="#ff4500"/>
<rect x="864" y="298" width="1" height="39" fill="#ff0000"/>
<rect x="863" y="310" width="3" height="27" fill="#ff0000"/>
<rect x="864" y="311" width="1" height="25" fill="#ff4500"/>
<rect x="868" y="304" width="1" height="39" fill="#32cd32"/>
<rect x="867" y="310" width="3" height="18" fill="#32cd32"/>
<rect x="872" y="327" width="1" height="3" fill="#32cd32"/>
<rect x="871" y="328" width="3" height="2" fill="#32cd32"/>
<rect x="876" y="320" width="1" height="20" fill="#32cd32"/>
<rect x="875" y="329" width="3" height="9" fill="#32cd32"/>
<rect x="880" y="328" width="1" height="29" fill="#ff0000"/>
<rect x="879" y="333" width="3" height="5" fill="#ff0000"/>
<rect x="880" y="334" width="1" height="3" fill="#ff4500"/>
<rect x="884" y="330" width="1" height="26" fill="#32cd32"/>
<rect x="883" y="333" width="3" height="9" fill="#32cd32"/>
<rect x="888" y="338" width="1" height="17" fill="#ff0000"/>
<rect x="887" y="340" width="3" height="2" fill="#ff0000"/>
<rect x="892" y="330" width="1" height="20" fill="#32cd32"/>
<rect x="891" y="340" width="3" height="8" fill="#32cd32"/>
<rect x="896" y="348" width="1" height="3" fill="#ff0000"/>
<rect x="895" y="348" width="3" height="2" fill="#ff0000"/>
<rect x="900" y="343" width="1" height="19" fill="#ff0000"/>
<rect x="899" y="346" width="3" height="3" fill="#ff0000"/>
<rect x="900" y="347" width="1" height="1" fill="#ff4500"/>
<rect x="904" y="298" width="1" height="56" fill="#ff0000"/>
<rect x="903" y="313" width="3" height="34" fill="#ff0000"/>
<rect x="904" y="314" width="1" height="32" fill="#ff4500"/>
<rect x="908" y="287" width="1" height="28" fill="#ff0000"/>
<rect x="907" y="290" width="3" height="24" fill="#ff0000"/>
<rect x="908" y="291" width="1" height="22" fill="#ff4500"/>
<rect x="912" y="282" width="1" height="42" fill="#32cd32"/>
<rect x="911" y="290" width="3" height="30" fill="#32cd32"/>
<rect x="916" y="318" width="1" height="17" fill="#32cd32"/>
<rect x="915" y="319" width="3" height="12" fill="#32cd32"/>
<rect x="920" y="329" width="1" height="2" fill="#ff0000"/>
<rect x="919" y="329" width="3" height="1" fill="#ff0000"/>
<rect x="924" y="325" width="1" height="4" fill="#ff0000"/>
<rect x="923" y="327" width="3" height="2" fill="#ff0000"/>
<rect x="1167" y="50" width="2" height="1" fill="#000"/>
<text x="1172.2" y="53.5" font-size="9.8" fill="#000" text-anchor="start" textLength="33.1" lengthAdjust="spacingAndGlyphs" stroke="#000" stroke-width="0.1" xml:space="preserve">1.18930</text>
<rect x="1167" y="83" width="2" height="1" fill="#000"/>
<text x="1172.2" y="86.5" font-size="9.8" fill="#000" text-anchor="start" textLength="33.1" lengthAdjust="spacingAndGlyphs" stroke="#000" stroke-width="0.1" xml:space="preserve">1.17910</text>
<rect x="1167" y="116" width="2" height="1" fill="#000"/>
<text x="1172.2" y="119.5" font-size="9.8" fill="#000" text-anchor="start" textLength="33.1" lengthAdjust="spacingAndGlyphs" stroke="#000" stroke-width="0.1" xml:space="preserve">1.16920</text>
<rect x="1167" y="149" width="2" height="1" fill="#000"/>
<text x="1172.2" y="152.5" font-size="9.8" fill="#000" text-anchor="start" textLength="33.1" lengthAdjust="spacingAndGlyphs" stroke="#000" stroke-width="0.1" xml:space="preserve">1.15900</text>
<rect x="1167" y="182" width="2" height="1" fill="#000"/>
<text x="1172.2" y="185.5" font-size="9.8" fill="#000" text-anchor="start" textLength="33.1" lengthAdjust="spacingAndGlyphs" stroke="#000" stroke-width="0.1" xml:space="preserve">1.14880</text>
<rect x="1167" y="215" width="2" height="1" fill="#000"/>
<text x="1172.2" y="218.5" font-size="9.8" fill="#000" text-anchor="start" textLength="33.1" lengthAdjust="spacingAndGlyphs" stroke="#000" stroke-width="0.1" xml:space="preserve">1.13890</text>
<rect x="1167" y="281" width="2" height="1" fill="#000"/>
<text x="1172.2" y="284.5" font-size="9.8" fill="#000" text-anchor="start" textLength="33.1" lengthAdjust="spacingAndGlyphs" stroke="#000" stroke-width="0.1" xml:space="preserve">1.11880</text>
<rect x="1167" y="314" width="2" height="1" fill="#000"/>
<text x="1172.2" y="317.5" font-size="9.8" fill="#000" text-anchor="start" textLength="33.1" lengthAdjust="spacingAndGlyphs" stroke="#000" stroke-width="0.1" xml:space="preserve">1.10860</text>
<rect x="1167" y="347" width="2" height="1" fill="#000"/>
<text x="1172.2" y="350.5" font-size="9.8" fill="#000" text-anchor="start" textLength="33.1" lengthAdjust="spacingAndGlyphs" stroke="#000" stroke-width="0.1" xml:space="preserve">1.09870</text>
<rect x="1167" y="380" width="2" height="1" fill="#000"/>
<text x="1172.2" y="383.5" font-size="9.8" fill="#000" text-anchor="start" textLength="33.1" lengthAdjust="spacingAndGlyphs" stroke="#000" stroke-width="0.1" xml:space="preserve">1.08850</text>
<rect x="1167" y="413" width="2" height="1" fill="#000"/>
<text x="1172.2" y="416.5" font-size="9.8" fill="#000" text-anchor="start" textLength="33.1" lengthAdjust="spacingAndGlyphs" stroke="#000" stroke-width="0.1" xml:space="preserve">1.07860</text>
<rect x="1168" y="185" width="38" height="11" fill="#ff0000"/>
<text x="1172.2" y="194.4" font-size="9.8" fill="#fff" text-anchor="start" textLength="33.1" lengthAdjust="spacingAndGlyphs" stroke="#fff" stroke-width="0.1" xml:space="preserve">1.14618</text>
<rect x="1168" y="245" width="38" height="11" fill="#ff0000"/>
<text x="1172.2" y="254.4" font-size="9.8" fill="#fff" text-anchor="start" textLength="33.1" lengthAdjust="spacingAndGlyphs" stroke="#fff" stroke-width="0.1" xml:space="preserve">1.12792</text>
<rect x="1168" y="290" width="38" height="11" fill="#00ff00"/>
<text x="1172.2" y="299.4" font-size="9.8" fill="#fff" text-anchor="start" textLength="33.1" lengthAdjust="spacingAndGlyphs" stroke="#fff" stroke-width="0.1" xml:space="preserve">1.11422</text>
<rect x="1168" y="350" width="38" height="11" fill="#0000ff"/>
<text x="1172.2" y="359.4" font-size="9.8" fill="#fff" text-anchor="start" textLength="33.1" lengthAdjust="spacingAndGlyphs" stroke="#fff" stroke-width="0.1" xml:space="preserve">1.09596</text>
<rect x="1168" y="401" width="38" height="11" fill="#0000ff"/>
<text x="1172.2" y="410.4" font-size="9.8" fill="#fff" text-anchor="start" textLength="33.1" lengthAdjust="spacingAndGlyphs" stroke="#fff" stroke-width="0.1" xml:space="preserve">1.08044</text>
<rect x="1168" y="322" width="38" height="11" fill="#000"/>
<text x="1172.2" y="331.4" font-size="9.8" fill="#fff" text-anchor="start" textLength="33.1" lengthAdjust="spacingAndGlyphs" stroke="#fff" stroke-width="0.1" xml:space="preserve">1.10468</text>
<rect x="7" y="32" width="7" height="1" fill="#000"/>
<rect x="8" y="33" width="5" height="1" fill="#000"/>
<rect x="9" y="34" width="3" height="1" fill="#000"/>
<rect x="10" y="35" width="1" height="1" fill="#000"/>
<text x="19" y="36.1" font-size="9.8" fill="#000" text-anchor="start" textLength="67" lengthAdjust="spacingAndGlyphs" stroke="#000" stroke-width="0.1" xml:space="preserve">EURUSD-,Daily</text>
<text x="91.7" y="36.1" font-size="9.8" fill="#000" text-anchor="start" textLength="142" lengthAdjust="spacingAndGlyphs" stroke="#000" stroke-width="0.1" xml:space="preserve">1.10453 1.10535 1.10425 1.10468</text>
<rect x="4" y="435" width="2" height="28" fill="#c0c0c0"/>
<rect x="7" y="435" width="3" height="26" fill="#c0c0c0"/>
<rect x="11" y="435" width="3" height="24" fill="#c0c0c0"/>
<rect x="15" y="435" width="3" height="26" fill="#c0c0c0"/>
<rect x="19" y="435" width="3" height="25" fill="#c0c0c0"/>
<rect x="23" y="435" width="3" height="25" fill="#c0c0c0"/>
<rect x="27" y="435" width="3" height="24" fill="#c0c0c0"/>
<rect x="31" y="435" width="3" height="23" fill="#c0c0c0"/>
<rect x="35" y="435" width="3" height="23" fill="#c0c0c0"/>
<rect x="39" y="435" width="3" height="23" fill="#c0c0c0"/>
<rect x="43" y="435" width="3" height="23" fill="#c0c0c0"/>
<rect x="47" y="435" width="3" height="23" fill="#c0c0c0"/>
<rect x="51" y="435" width="3" height="23" fill="#c0c0c0"/>
<rect x="55" y="435" width="3" height="21" fill="#c0c0c0"/>
<rect x="59" y="435" width="3" height="20" fill="#c0c0c0"/>
<rect x="63" y="435" width="3" height="18" fill="#c0c0c0"/>
<rect x="67" y="435" width="3" height="15" fill="#c0c0c0"/>
<rect x="71" y="435" width="3" height="11" fill="#c0c0c0"/>
<rect x="75" y="435" width="3" height="9" fill="#c0c0c0"/>
<rect x="79" y="435" width="3" height="7" fill="#c0c0c0"/>
<rect x="83" y="435" width="3" height="5" fill="#c0c0c0"/>
<rect x="87" y="435" width="3" height="4" fill="#c0c0c0"/>
<rect x="91" y="435" width="3" height="4" fill="#c0c0c0"/>
<rect x="95" y="435" width="3" height="4" fill="#c0c0c0"/>
<rect x="99" y="435" width="3" height="6" fill="#c0c0c0"/>
<rect x="103" y="435" width="3" height="9" fill="#c0c0c0"/>
<rect x="107" y="435" width="3" height="12" fill="#c0c0c0"/>
<rect x="111" y="435" width="3" height="14" fill="#c0c0c0"/>
<rect x="115" y="435" width="3" height="15" fill="#c0c0c0"/>
<rect x="119" y="435" width="3" height="15" fill="#c0c0c0"/>
<rect x="123" y="435" width="3" height="14" fill="#c0c0c0"/>
<rect x="127" y="435" width="3" height="11" fill="#c0c0c0"/>
<rect x="131" y="435" width="3" height="12" fill="#c0c0c0"/>
<rect x="135" y="435" width="3" height="13" fill="#c0c0c0"/>
<rect x="139" y="435" width="3" height="15" fill="#c0c0c0"/>
<rect x="143" y="435" width="3" height="17" fill="#c0c0c0"/>
<rect x="147" y="435" width="3" height="17" fill="#c0c0c0"/>
<rect x="151" y="435" width="3" height="17" fill="#c0c0c0"/>
<rect x="155" y="435" width="3" height="16" fill="#c0c0c0"/>
<rect x="159" y="435" width="3" height="14" fill="#c0c0c0"/>
<rect x="163" y="435" width="3" height="11" fill="#c0c0c0"/>
<rect x="167" y="435" width="3" height="11" fill="#c0c0c0"/>
<rect x="171" y="435" width="3" height="8" fill="#c0c0c0"/>
<rect x="175" y="435" width="3" height="6" fill="#c0c0c0"/>
<rect x="179" y="435" width="3" height="4" fill="#c0c0c0"/>
<rect x="183" y="435" width="3" height="2" fill="#c0c0c0"/>
<rect x="187" y="434" width="3" height="2" fill="#c0c0c0"/>
<rect x="191" y="431" width="3" height="5" fill="#c0c0c0"/>
<rect x="195" y="428" width="3" height="8" fill="#c0c0c0"/>
<rect x="199" y="425" width="3" height="11" fill="#c0c0c0"/>
<rect x="203" y="424" width="3" height="12" fill="#c0c0c0"/>
<rect x="207" y="425" width="3" height="11" fill="#c0c0c0"/>
<rect x="211" y="426" width="3" height="10" fill="#c0c0c0"/>
<rect x="215" y="427" width="3" height="9" fill="#c0c0c0"/>
<rect x="219" y="428" width="3" height="8" fill="#c0c0c0"/>
<rect x="223" y="429" width="3" height="7" fill="#c0c0c0"/>
<rect x="227" y="430" width="3" height="6" fill="#c0c0c0"/>
<rect x="231" y="431" width="3" height="5" fill="#c0c0c0"/>
<rect x="235" y="431" width="3" height="5" fill="#c0c0c0"/>
<rect x="239" y="434" width="3" height="2" fill="#c0c0c0"/>
<rect x="243" y="435" width="3" height="3" fill="#c0c0c0"/>
<rect x="247" y="435" width="3" height="5" fill="#c0c0c0"/>
<rect x="251" y="435" width="3" height="7" fill="#c0c0c0"/>
<rect x="255" y="435" width="3" height="8" fill="#c0c0c0"/>
<rect x="259" y="435" width="3" height="11" fill="#c0c0c0"/>
<rect x="263" y="435" width="3" height="11" fill="#c0c0c0"/>
<rect x="267" y="435" width="3" height="11" fill="#c0c0c0"/>
<rect x="271" y="435" width="3" height="11" fill="#c0c0c0"/>
<rect x="275" y="435" width="3" height="13" fill="#c0c0c0"/>
<rect x="279" y="435" width="3" height="13" fill="#c0c0c0"/>
<rect x="283" y="435" width="3" height="17" fill="#c0c0c0"/>
<rect x="287" y="435" width="3" height="21" fill="#c0c0c0"/>
<rect x="291" y="435" width="3" height="23" fill="#c0c0c0"/>
<rect x="295" y="435" width="3" height="24" fill="#c0c0c0"/>
<rect x="299" y="435" width="3" height="24" fill="#c0c0c0"/>
<rect x="303" y="435" width="3" height="24" fill="#c0c0c0"/>
<rect x="307" y="435" width="3" height="25" fill="#c0c0c0"/>
<rect x="311" y="435" width="3" height="27" fill="#c0c0c0"/>
<rect x="315" y="435" width="3" height="26" fill="#c0c0c0"/>
<rect x="319" y="435" width="3" height="26" fill="#c0c0c0"/>
<rect x="323" y="435" width="3" height="25" fill="#c0c0c0"/>
<rect x="327" y="435" width="3" height="27" fill="#c0c0c0"/>
<rect x="331" y="435" width="3" height="25" fill="#c0c0c0"/>
<rect x="335" y="435" width="3" height="22" fill="#c0c0c0"/>
<rect x="339" y="435" width="3" height="21" fill="#c0c0c0"/>
<rect x="343" y="435" width="3" height="19" fill="#c0c0c0"/>
<rect x="347" y="435" width="3" height="17" fill="#c0c0c0"/>
<rect x="351" y="435" width="3" height="15" fill="#c0c0c0"/>
<rect x="355" y="435" width="3" height="12" fill="#c0c0c0"/>
<rect x="359" y="435" width="3" height="9" fill="#c0c0c0"/>
<rect x="363" y="435" width="3" height="9" fill="#c0c0c0"/>
<rect x="367" y="435" width="3" height="7" fill="#c0c0c0"/>
<rect x="371" y="435" width="3" height="7" fill="#c0c0c0"/>
<rect x="375" y="435" width="3" height="8" fill="#c0c0c0"/>
<rect x="379" y="435" width="3" height="8" fill="#c0c0c0"/>
<rect x="383" y="435" width="3" height="5" fill="#c0c0c0"/>
<rect x="387" y="435" width="3" height="7" fill="#c0c0c0"/>
<rect x="391" y="435" width="3" height="8" fill="#c0c0c0"/>
<rect x="395" y="435" width="3" height="8" fill="#c0c0c0"/>
<rect x="399" y="435" width="3" height="8" fill="#c0c0c0"/>
<rect x="403" y="435" width="3" height="7" fill="#c0c0c0"/>
<rect x="407" y="435" width="3" height="8" fill="#c0c0c0"/>
<rect x="411" y="435" width="3" height="9" fill="#c0c0c0"/>
<rect x="415" y="435" width="3" height="9" fill="#c0c0c0"/>
<rect x="419" y="435" width="3" height="9" fill="#c0c0c0"/>
<rect x="423" y="435" width="3" height="8" fill="#c0c0c0"/>
<rect x="427" y="435" width="3" height="11" fill="#c0c0c0"/>
<rect x="431" y="435" width="3" height="15" fill="#c0c0c0"/>
<rect x="435" y="435" width="3" height="18" fill="#c0c0c0"/>
<rect x="439" y="435" width="3" height="20" fill="#c0c0c0"/>
<rect x="443" y="435" width="3" height="24" fill="#c0c0c0"/>
<rect x="447" y="435" width="3" height="29" fill="#c0c0c0"/>
<rect x="451" y="435" width="3" height="32" fill="#c0c0c0"/>
<rect x="455" y="435" width="3" height="33" fill="#c0c0c0"/>
<rect x="459" y="435" width="3" height="36" fill="#c0c0c0"/>
<rect x="463" y="435" width="3" height="38" fill="#c0c0c0"/>
<rect x="467" y="435" width="3" height="41" fill="#c0c0c0"/>
<rect x="471" y="435" width="3" height="42" fill="#c0c0c0"/>
<rect x="475" y="435" width="3" height="44" fill="#c0c0c0"/>
<rect x="479" y="435" width="3" height="45" fill="#c0c0c0"/>
<rect x="483" y="435" width="3" height="42" fill="#c0c0c0"/>
<rect x="487" y="435" width="3" height="39" fill="#c0c0c0"/>
<rect x="491" y="435" width="3" height="37" fill="#c0c0c0"/>
<rect x="495" y="435" width="3" height="33" fill="#c0c0c0"/>
<rect x="499" y="435" width="3" height="31" fill="#c0c0c0"/>
<rect x="503" y="435" width="3" height="29" fill="#c0c0c0"/>
<rect x="507" y="435" width="3" height="26" fill="#c0c0c0"/>
<rect x="511" y="435" width="3" height="25" fill="#c0c0c0"/>
<rect x="515" y="435" width="3" height="24" fill="#c0c0c0"/>
<rect x="519" y="435" width="3" height="23" fill="#c0c0c0"/>
<rect x="523" y="435" width="3" height="20" fill="#c0c0c0"/>
<rect x="527" y="435" width="3" height="19" fill="#c0c0c0"/>
<rect x="531" y="435" width="3" height="17" fill="#c0c0c0"/>
<rect x="535" y="435" width="3" height="16" fill="#c0c0c0"/>
<rect x="539" y="435" width="3" height="16" fill="#c0c0c0"/>
<rect x="543" y="435" width="3" height="16" fill="#c0c0c0"/>
<rect x="547" y="435" width="3" height="15" fill="#c0c0c0"/>
<rect x="551" y="435" width="3" height="13" fill="#c0c0c0"/>
<rect x="555" y="435" width="3" height="14" fill="#c0c0c0"/>
<rect x="559" y="435" width="3" height="15" fill="#c0c0c0"/>
<rect x="563" y="435" width="3" height="14" fill="#c0c0c0"/>
<rect x="567" y="435" width="3" height="13" fill="#c0c0c0"/>
<rect x="571" y="435" width="3" height="11" fill="#c0c0c0"/>
<rect x="575" y="435" width="3" height="9" fill="#c0c0c0"/>
<rect x="579" y="435" width="3" height="8" fill="#c0c0c0"/>
<rect x="583" y="435" width="3" height="6" fill="#c0c0c0"/>
<rect x="587" y="435" width="3" height="5" fill="#c0c0c0"/>
<rect x="591" y="435" width="3" height="4" fill="#c0c0c0"/>
<rect x="595" y="435" width="3" height="2" fill="#c0c0c0"/>
<rect x="599" y="435" width="3" height="2" fill="#c0c0c0"/>
<rect x="603" y="433" width="3" height="3" fill="#c0c0c0"/>
<rect x="607" y="432" width="3" height="4" fill="#c0c0c0"/>
<rect x="611" y="433" width="3" height="3" fill="#c0c0c0"/>
<rect x="615" y="435" width="3" height="1" fill="#c0c0c0"/>
<rect x="619" y="435" width="3" height="2" fill="#c0c0c0"/>
<rect x="623" y="435" width="3" height="2" fill="#c0c0c0"/>
<rect x="627" y="434" width="3" height="2" fill="#c0c0c0"/>
<rect x="631" y="433" width="3" height="3" fill="#c0c0c0"/>
<rect x="635" y="433" width="3" height="3" fill="#c0c0c0"/>
<rect x="639" y="432" width="3" height="4" fill="#c0c0c0"/>
<rect x="643" y="429" width="3" height="7" fill="#c0c0c0"/>
<rect x="647" y="425" width="3" height="11" fill="#c0c0c0"/>
<rect x="651" y="424" width="3" height="12" fill="#c0c0c0"/>
<rect x="655" y="424" width="3" height="12" fill="#c0c0c0"/>
<rect x="659" y="423" width="3" height="13" fill="#c0c0c0"/>
<rect x="663" y="426" width="3" height="10" fill="#c0c0c0"/>
<rect x="667" y="428" width="3" height="8" fill="#c0c0c0"/>
<rect x="671" y="431" width="3" height="5" fill="#c0c0c0"/>
<rect x="675" y="432" width="3" height="4" fill="#c0c0c0"/>
<rect x="679" y="433" width="3" height="3" fill="#c0c0c0"/>
<rect x="683" y="434" width="3" height="2" fill="#c0c0c0"/>
<rect x="687" y="435" width="3" height="2" fill="#c0c0c0"/>
<rect x="691" y="435" width="3" height="5" fill="#c0c0c0"/>
<rect x="695" y="435" width="3" height="12" fill="#c0c0c0"/>
<rect x="699" y="435" width="3" height="17" fill="#c0c0c0"/>
<rect x="703" y="435" width="3" height="20" fill="#c0c0c0"/>
<rect x="707" y="435" width="3" height="19" fill="#c0c0c0"/>
<rect x="711" y="435" width="3" height="17" fill="#c0c0c0"/>
<rect x="715" y="435" width="3" height="15" fill="#c0c0c0"/>
<rect x="719" y="435" width="3" height="7" fill="#c0c0c0"/>
<rect x="723" y="435" width="3" height="1" fill="#c0c0c0"/>
<rect x="727" y="430" width="3" height="6" fill="#c0c0c0"/>
<rect x="731" y="426" width="3" height="10" fill="#c0c0c0"/>
<rect x="735" y="425" width="3" height="11" fill="#c0c0c0"/>
<rect x="739" y="423" width="3" height="13" fill="#c0c0c0"/>
<rect x="743" y="423" width="3" height="13" fill="#c0c0c0"/>
<rect x="747" y="425" width="3" height="11" fill="#c0c0c0"/>
<rect x="751" y="426" width="3" height="10" fill="#c0c0c0"/>
<rect x="755" y="429" width="3" height="7" fill="#c0c0c0"/>
<rect x="759" y="430" width="3" height="6" fill="#c0c0c0"/>
<rect x="763" y="430" width="3" height="6" fill="#c0c0c0"/>
<rect x="767" y="430" width="3" height="6" fill="#c0c0c0"/>
<rect x="771" y="431" width="3" height="5" fill="#c0c0c0"/>
<rect x="775" y="433" width="3" height="3" fill="#c0c0c0"/>
<rect x="779" y="435" width="3" height="1" fill="#c0c0c0"/>
<rect x="783" y="435" width="3" height="1" fill="#c0c0c0"/>
<rect x="787" y="435" width="3" height="3" fill="#c0c0c0"/>
<rect x="791" y="435" width="3" height="8" fill="#c0c0c0"/>
<rect x="795" y="435" width="3" height="9" fill="#c0c0c0"/>
<rect x="799" y="435" width="3" height="13" fill="#c0c0c0"/>
<rect x="803" y="435" width="3" height="15" fill="#c0c0c0"/>
<rect x="807" y="435" width="3" height="19" fill="#c0c0c0"/>
<rect x="811" y="435" width="3" height="23" fill="#c0c0c0"/>
<rect x="815" y="435" width="3" height="27" fill="#c0c0c0"/>
<rect x="819" y="435" width="3" height="36" fill="#c0c0c0"/>
<rect x="823" y="435" width="3" height="43" fill="#c0c0c0"/>
<rect x="827" y="435" width="3" height="49" fill="#c0c0c0"/>
<rect x="831" y="435" width="3" height="52" fill="#c0c0c0"/>
<rect x="835" y="435" width="3" height="48" fill="#c0c0c0"/>
<rect x="839" y="435" width="3" height="46" fill="#c0c0c0"/>
<rect x="843" y="435" width="3" height="47" fill="#c0c0c0"/>
<rect x="847" y="435" width="3" height="47" fill="#c0c0c0"/>
<rect x="851" y="435" width="3" height="46" fill="#c0c0c0"/>
<rect x="855" y="435" width="3" height="44" fill="#c0c0c0"/>
<rect x="859" y="435" width="3" height="40" fill="#c0c0c0"/>
<rect x="863" y="435" width="3" height="34" fill="#c0c0c0"/>
<rect x="867" y="435" width="3" height="30" fill="#c0c0c0"/>
<rect x="871" y="435" width="3" height="27" fill="#c0c0c0"/>
<rect x="875" y="435" width="3" height="25" fill="#c0c0c0"/>
<rect x="879" y="435" width="3" height="23" fill="#c0c0c0"/>
<rect x="883" y="435" width="3" height="22" fill="#c0c0c0"/>
<rect x="887" y="435" width="3" height="21" fill="#c0c0c0"/>
<rect x="891" y="435" width="3" height="21" fill="#c0c0c0"/>
<rect x="895" y="435" width="3" height="21" fill="#c0c0c0"/>
<rect x="899" y="435" width="3" height="20" fill="#c0c0c0"/>
<rect x="903" y="435" width="3" height="15" fill="#c0c0c0"/>
<rect x="907" y="435" width="3" height="9" fill="#c0c0c0"/>
<rect x="911" y="435" width="3" height="7" fill="#c0c0c0"/>
<rect x="915" y="435" width="3" height="7" fill="#c0c0c0"/>
<rect x="919" y="435" width="3" height="7" fill="#c0c0c0"/>
<rect x="923" y="435" width="3" height="6" fill="#c0c0c0"/>
<rect x="4" y="464" width="6" height="1" fill="#ff0000"/>
<rect x="10" y="463" width="7" height="1" fill="#ff0000"/>
<rect x="17" y="462" width="5" height="1" fill="#ff0000"/>
<rect x="22" y="461" width="5" height="1" fill="#ff0000"/>
<rect x="27" y="460" width="5" height="1" fill="#ff0000"/>
<rect x="32" y="459" width="4" height="1" fill="#ff0000"/>
<rect x="36" y="458" width="19" height="1" fill="#ff0000"/>
<rect x="55" y="457" width="7" height="1" fill="#ff0000"/>
<rect x="62" y="456" width="4" height="1" fill="#ff0000"/>
<rect x="66" y="455" width="3" height="1" fill="#ff0000"/>
<rect x="69" y="454" width="3" height="1" fill="#ff0000"/>
<rect x="72" y="453" width="3" height="1" fill="#ff0000"/>
<rect x="75" y="452" width="2" height="1" fill="#ff0000"/>
<rect x="77" y="451" width="3" height="1" fill="#ff0000"/>
<rect x="80" y="450" width="2" height="1" fill="#ff0000"/>
<rect x="82" y="449" width="3" height="1" fill="#ff0000"/>
<rect x="85" y="448" width="2" height="1" fill="#ff0000"/>
<rect x="87" y="447" width="2" height="1" fill="#ff0000"/>
<rect x="89" y="446" width="2" height="1" fill="#ff0000"/>
<rect x="91" y="445" width="2" height="1" fill="#ff0000"/>
<rect x="93" y="444" width="2" height="1" fill="#ff0000"/>
<rect x="95" y="443" width="3" height="1" fill="#ff0000"/>
<rect x="98" y="442" width="3" height="1" fill="#ff0000"/>
<rect x="101" y="441" width="15" height="1" fill="#ff0000"/>
<rect x="116" y="442" width="3" height="1" fill="#ff0000"/>
<rect x="119" y="443" width="4" height="1" fill="#ff0000"/>
<rect x="123" y="444" width="4" height="1" fill="#ff0000"/>
<rect x="127" y="445" width="4" height="1" fill="#ff0000"/>
<rect x="131" y="446" width="5" height="1" fill="#ff0000"/>
<rect x="136" y="447" width="6" height="1" fill="#ff0000"/>
<rect x="142" y="448" width="12" height="1" fill="#ff0000"/>
<rect x="154" y="449" width="17" height="1" fill="#ff0000"/>
<rect x="171" y="448" width="4" height="1" fill="#ff0000"/>
<rect x="175" y="447" width="3" height="1" fill="#ff0000"/>
<rect x="178" y="446" width="2" height="1" fill="#ff0000"/>
<rect x="180" y="445" width="2" height="1" fill="#ff0000"/>
<rect x="182" y="444" width="2" height="1" fill="#ff0000"/>
<rect x="184" y="443" width="2" height="1" fill="#ff0000"/>
<rect x="186" y="442" width="2" height="1" fill="#ff0000"/>
<rect x="188" y="441" width="2" height="1" fill="#ff0000"/>
<rect x="190" y="440" width="2" height="1" fill="#ff0000"/>
<rect x="192" y="439" width="2" height="1" fill="#ff0000"/>
<rect x="194" y="438" width="1" height="1" fill="#ff0000"/>
<rect x="195" y="437" width="2" height="1" fill="#ff0000"/>
<rect x="197" y="436" width="1" height="1" fill="#ff0000"/>
<rect x="198" y="435" width="1" height="1" fill="#ff0000"/>
<rect x="199" y="434" width="2" height="1" fill="#ff0000"/>
<rect x="201" y="433" width="3" height="1" fill="#ff0000"/>
<rect x="204" y="432" width="2" height="1" fill="#ff0000"/>
<rect x="206" y="431" width="3" height="1" fill="#ff0000"/>
<rect x="209" y="430" width="2" height="1" fill="#ff0000"/>
<rect x="211" y="429" width="3" height="1" fill="#ff0000"/>
<rect x="214" y="428" width="2" height="1" fill="#ff0000"/>
<rect x="216" y="427" width="20" height="1" fill="#ff0000"/>
<rect x="236" y="428" width="4" height="1" fill="#ff0000"/>
<rect x="240" y="429" width="3" height="1" fill="#ff0000"/>
<rect x="243" y="430" width="3" height="1" fill="#ff0000"/>
<rect x="246" y="431" width="2" height="1" fill="#ff0000"/>
<rect x="248" y="432" width="3" height="1" fill="#ff0000"/>
<rect x="251" y="433" width="3" height="1" fill="#ff0000"/>
<rect x="254" y="434" width="3" height="1" fill="#ff0000"/>
<rect x="257" y="435" width="2" height="1" fill="#ff0000"/>
<rect x="259" y="436" width="2" height="1" fill="#ff0000"/>
<rect x="261" y="437" width="2" height="1" fill="#ff0000"/>
<rect x="263" y="438" width="2" height="1" fill="#ff0000"/>
<rect x="265" y="439" width="3" height="1" fill="#ff0000"/>
<rect x="268" y="440" width="3" height="1" fill="#ff0000"/>
<rect x="271" y="441" width="3" height="1" fill="#ff0000"/>
<rect x="274" y="442" width="3" height="1" fill="#ff0000"/>
<rect x="277" y="443" width="4" height="1" fill="#ff0000"/>
<rect x="281" y="444" width="3" height="1" fill="#ff0000"/>
<rect x="284" y="445" width="2" height="1" fill="#ff0000"/>
<rect x="286" y="446" width="2" height="1" fill="#ff0000"/>
<rect x="288" y="447" width="2" height="1" fill="#ff0000"/>
<rect x="290" y="448" width="2" height="1" fill="#ff0000"/>
<rect x="292" y="449" width="3" height="1" fill="#ff0000"/>
<rect x="295" y="450" width="4" height="1" fill="#ff0000"/>
<rect x="299" y="451" width="3" height="1" fill="#ff0000"/>
<rect x="302" y="452" width="3" height="1" fill="#ff0000"/>
<rect x="305" y="453" width="2" height="1" fill="#ff0000"/>
<rect x="307" y="454" width="2" height="1" fill="#ff0000"/>
<rect x="309" y="455" width="3" height="1" fill="#ff0000"/>
<rect x="312" y="456" width="2" height="1" fill="#ff0000"/>
<rect x="314" y="457" width="4" height="1" fill="#ff0000"/>
<rect x="318" y="458" width="4" height="1" fill="#ff0000"/>
<rect x="322" y="459" width="17" height="1" fill="#ff0000"/>
<rect x="339" y="458" width="5" height="1" fill="#ff0000"/>
<rect x="344" y="457" width="4" height="1" fill="#ff0000"/>
<rect x="348" y="456" width="4" height="1" fill="#ff0000"/>
<rect x="352" y="455" width="3" height="1" fill="#ff0000"/>
<rect x="355" y="454" width="2" height="1" fill="#ff0000"/>
<rect x="357" y="453" width="3" height="1" fill="#ff0000"/>
<rect x="360" y="452" width="2" height="1" fill="#ff0000"/>
<rect x="362" y="451" width="2" height="1" fill="#ff0000"/>
<rect x="364" y="450" width="2" height="1" fill="#ff0000"/>
<rect x="366" y="449" width="2" height="1" fill="#ff0000"/>
<rect x="368" y="448" width="2" height="1" fill="#ff0000"/>
<rect x="370" y="447" width="3" height="1" fill="#ff0000"/>
<rect x="373" y="446" width="2" height="1" fill="#ff0000"/>
<rect x="375" y="445" width="3" height="1" fill="#ff0000"/>
<rect x="378" y="444" width="3" height="1" fill="#ff0000"/>
<rect x="381" y="443" width="4" height="1" fill="#ff0000"/>
<rect x="385" y="442" width="5" height="1" fill="#ff0000"/>
<rect x="390" y="441" width="22" height="1" fill="#ff0000"/>
<rect x="412" y="442" width="15" height="1" fill="#ff0000"/>
<rect x="427" y="443" width="9" height="1" fill="#ff0000"/>
<rect x="436" y="444" width="2" height="1" fill="#ff0000"/>
<rect x="438" y="445" width="3" height="1" fill="#ff0000"/>
<rect x="441" y="446" width="2" height="1" fill="#ff0000"/>
<rect x="443" y="447" width="1" height="1" fill="#ff0000"/>
<rect x="444" y="448" width="2" height="1" fill="#ff0000"/>
<rect x="446" y="449" width="2" height="1" fill="#ff0000"/>
<rect x="448" y="450" width="2" height="1" fill="#ff0000"/>
<rect x="450" y="451" width="1" height="1" fill="#ff0000"/>
<rect x="451" y="452" width="2" height="1" fill="#ff0000"/>
<rect x="453" y="453" width="1" height="1" fill="#ff0000"/>
<rect x="454" y="454" width="2" height="1" fill="#ff0000"/>
<rect x="456" y="455" width="1" height="1" fill="#ff0000"/>
<rect x="457" y="456" width="2" height="1" fill="#ff0000"/>
<rect x="459" y="457" width="1" height="1" fill="#ff0000"/>
<rect x="460" y="458" width="1" height="1" fill="#ff0000"/>
<rect x="461" y="459" width="1" height="1" fill="#ff0000"/>
<rect x="462" y="460" width="2" height="1" fill="#ff0000"/>
<rect x="464" y="461" width="1" height="1" fill="#ff0000"/>
<rect x="465" y="462" width="1" height="1" fill="#ff0000"/>
<rect x="466" y="463" width="2" height="1" fill="#ff0000"/>
<rect x="468" y="464" width="1" height="1" fill="#ff0000"/>
<rect x="469" y="465" width="1" height="1" fill="#ff0000"/>
<rect x="470" y="466" width="2" height="1" fill="#ff0000"/>
<rect x="472" y="467" width="1" height="1" fill="#ff0000"/>
<rect x="473" y="468" width="2" height="1" fill="#ff0000"/>
<rect x="475" y="469" width="2" height="1" fill="#ff0000"/>
<rect x="477" y="470" width="1" height="1" fill="#ff0000"/>
<rect x="478" y="471" width="2" height="1" fill="#ff0000"/>
<rect x="480" y="472" width="3" height="1" fill="#ff0000"/>
<rect x="483" y="473" width="4" height="1" fill="#ff0000"/>
<rect x="487" y="474" width="11" height="1" fill="#ff0000"/>
<rect x="498" y="473" width="3" height="1" fill="#ff0000"/>
<rect x="501" y="472" width="3" height="1" fill="#ff0000"/>
<rect x="504" y="471" width="2" height="1" fill="#ff0000"/>
<rect x="506" y="470" width="2" height="1" fill="#ff0000"/>
<rect x="508" y="469" width="2" height="1" fill="#ff0000"/>
<rect x="510" y="468" width="2" height="1" fill="#ff0000"/>
<rect x="512" y="467" width="2" height="1" fill="#ff0000"/>
<rect x="514" y="466" width="2" height="1" fill="#ff0000"/>
<rect x="516" y="465" width="2" height="1" fill="#ff0000"/>
<rect x="518" y="464" width="2" height="1" fill="#ff0000"/>
<rect x="520" y="463" width="2" height="1" fill="#ff0000"/>
<rect x="522" y="462" width="2" height="1" fill="#ff0000"/>
<rect x="524" y="461" width="2" height="1" fill="#ff0000"/>
<rect x="526" y="460" width="2" height="1" fill="#ff0000"/>
<rect x="528" y="459" width="2" height="1" fill="#ff0000"/>
<rect x="530" y="458" width="2" height="1" fill="#ff0000"/>
<rect x="532" y="457" width="2" height="1" fill="#ff0000"/>
<rect x="534" y="456" width="3" height="1" fill="#ff0000"/>
<rect x="537" y="455" width="4" height="1" fill="#ff0000"/>
<rect x="541" y="454" width="4" height="1" fill="#ff0000"/>
<rect x="545" y="453" width="4" height="1" fill="#ff0000"/>
<rect x="549" y="452" width="3" height="1" fill="#ff0000"/>
<rect x="552" y="451" width="3" height="1" fill="#ff0000"/>
<rect x="555" y="450" width="6" height="1" fill="#ff0000"/>
<rect x="561" y="449" width="7" height="1" fill="#ff0000"/>
<rect x="568" y="448" width="4" height="1" fill="#ff0000"/>
<rect x="572" y="447" width="3" height="1" fill="#ff0000"/>
<rect x="575" y="446" width="4" height="1" fill="#ff0000"/>
<rect x="579" y="445" width="4" height="1" fill="#ff0000"/>
<rect x="583" y="444" width="4" height="1" fill="#ff0000"/>
<rect x="587" y="443" width="4" height="1" fill="#ff0000"/>
<rect x="591" y="442" width="4" height="1" fill="#ff0000"/>
<rect x="595" y="441" width="6" height="1" fill="#ff0000"/>
<rect x="601" y="440" width="3" height="1" fill="#ff0000"/>
<rect x="604" y="439" width="2" height="1" fill="#ff0000"/>
<rect x="606" y="438" width="3" height="1" fill="#ff0000"/>
<rect x="609" y="437" width="4" height="1" fill="#ff0000"/>
<rect x="613" y="436" width="4" height="1" fill="#ff0000"/>
<rect x="617" y="435" width="11" height="1" fill="#ff0000"/>
<rect x="628" y="434" width="15" height="1" fill="#ff0000"/>
<rect x="643" y="433" width="5" height="1" fill="#ff0000"/>
<rect x="648" y="432" width="3" height="1" fill="#ff0000"/>
<rect x="651" y="431" width="3" height="1" fill="#ff0000"/>
<rect x="654" y="430" width="4" height="1" fill="#ff0000"/>
<rect x="658" y="429" width="3" height="1" fill="#ff0000"/>
<rect x="661" y="428" width="4" height="1" fill="#ff0000"/>
<rect x="665" y="427" width="19" height="1" fill="#ff0000"/>
<rect x="684" y="428" width="2" height="1" fill="#ff0000"/>
<rect x="686" y="429" width="3" height="1" fill="#ff0000"/>
<rect x="689" y="430" width="2" height="1" fill="#ff0000"/>
<rect x="691" y="431" width="2" height="1" fill="#ff0000"/>
<rect x="693" y="432" width="2" height="1" fill="#ff0000"/>
<rect x="695" y="433" width="1" height="1" fill="#ff0000"/>
<rect x="696" y="434" width="1" height="1" fill="#ff0000"/>
<rect x="697" y="435" width="1" height="1" fill="#ff0000"/>
<rect x="698" y="436" width="2" height="1" fill="#ff0000"/>
<rect x="700" y="437" width="1" height="1" fill="#ff0000"/>
<rect x="701" y="438" width="2" height="1" fill="#ff0000"/>
<rect x="703" y="439" width="1" height="1" fill="#ff0000"/>
<rect x="704" y="440" width="2" height="1" fill="#ff0000"/>
<rect x="706" y="441" width="1" height="1" fill="#ff0000"/>
<rect x="707" y="442" width="2" height="1" fill="#ff0000"/>
<rect x="709" y="443" width="2" height="1" fill="#ff0000"/>
<rect x="711" y="444" width="2" height="1" fill="#ff0000"/>
<rect x="713" y="445" width="3" height="1" fill="#ff0000"/>
<rect x="716" y="446" width="2" height="1" fill="#ff0000"/>
<rect x="718" y="447" width="8" height="1" fill="#ff0000"/>
<rect x="726" y="446" width="2" height="1" fill="#ff0000"/>
<rect x="728" y="445" width="2" height="1" fill="#ff0000"/>
<rect x="730" y="444" width="2" height="1" fill="#ff0000"/>
<rect x="732" y="443" width="1" height="1" fill="#ff0000"/>
<rect x="733" y="442" width="2" height="1" fill="#ff0000"/>
<rect x="735" y="441" width="1" height="1" fill="#ff0000"/>
<rect x="736" y="440" width="1" height="1" fill="#ff0000"/>
<rect x="737" y="439" width="1" height="1" fill="#ff0000"/>
<rect x="738" y="438" width="2" height="1" fill="#ff0000"/>
<rect x="740" y="437" width="1" height="1" fill="#ff0000"/>
<rect x="741" y="436" width="1" height="1" fill="#ff0000"/>
<rect x="742" y="435" width="2" height="1" fill="#ff0000"/>
<rect x="744" y="434" width="1" height="1" fill="#ff0000"/>
<rect x="745" y="433" width="1" height="1" fill="#ff0000"/>
<rect x="746" y="432" width="1" height="1" fill="#ff0000"/>
<rect x="747" y="431" width="1" height="1" fill="#ff0000"/>
<rect x="748" y="430" width="2" height="1" fill="#ff0000"/>
<rect x="750" y="429" width="1" height="1" fill="#ff0000"/>
<rect x="751" y="428" width="3" height="1" fill="#ff0000"/>
<rect x="754" y="427" width="5" height="1" fill="#ff0000"/>
<rect x="759" y="426" width="11" height="1" fill="#ff0000"/>
<rect x="770" y="427" width="5" height="1" fill="#ff0000"/>
<rect x="775" y="428" width="2" height="1" fill="#ff0000"/>
<rect x="777" y="429" width="3" height="1" fill="#ff0000"/>
<rect x="780" y="430" width="3" height="1" fill="#ff0000"/>
<rect x="783" y="431" width="3" height="1" fill="#ff0000"/>
<rect x="786" y="432" width="4" height="1" fill="#ff0000"/>
<rect x="790" y="433" width="2" height="1" fill="#ff0000"/>
<rect x="792" y="434" width="3" height="1" fill="#ff0000"/>
<rect x="795" y="435" width="2" height="1" fill="#ff0000"/>
<rect x="797" y="436" width="2" height="1" fill="#ff0000"/>
<rect x="799" y="437" width="3" height="1" fill="#ff0000"/>
<rect x="802" y="438" width="2" height="1" fill="#ff0000"/>
<rect x="804" y="439" width="2" height="1" fill="#ff0000"/>
<rect x="806" y="440" width="1" height="1" fill="#ff0000"/>
<rect x="807" y="441" width="2" height="1" fill="#ff0000"/>
<rect x="809" y="442" width="1" height="1" fill="#ff0000"/>
<rect x="810" y="443" width="2" height="1" fill="#ff0000"/>
<rect x="812" y="444" width="1" height="1" fill="#ff0000"/>
<rect x="813" y="445" width="2" height="1" fill="#ff0000"/>
<rect x="815" y="446" width="1" height="1" fill="#ff0000"/>
<rect x="816" y="447" width="1" height="1" fill="#ff0000"/>
<rect x="817" y="448" width="1" height="1" fill="#ff0000"/>
<rect x="818" y="449" width="1" height="1" fill="#ff0000"/>
<rect x="819" y="450" width="1" height="1" fill="#ff0000"/>
<rect x="820" y="451" width="1" height="1" fill="#ff0000"/>
<rect x="821" y="452" width="1" height="1" fill="#ff0000"/>
<rect x="822" y="453" width="1" height="1" fill="#ff0000"/>
<rect x="823" y="454" width="1" height="2" fill="#ff0000"/>
<rect x="824" y="456" width="1" height="1" fill="#ff0000"/>
<rect x="825" y="457" width="1" height="1" fill="#ff0000"/>
<rect x="826" y="458" width="1" height="1" fill="#ff0000"/>
<rect x="827" y="459" width="1" height="2" fill="#ff0000"/>
<rect x="828" y="461" width="1" height="1" fill="#ff0000"/>
<rect x="829" y="462" width="1" height="1" fill="#ff0000"/>
<rect x="830" y="463" width="1" height="1" fill="#ff0000"/>
<rect x="831" y="464" width="1" height="1" fill="#ff0000"/>
<rect x="832" y="465" width="1" height="1" fill="#ff0000"/>
<rect x="833" y="466" width="1" height="1" fill="#ff0000"/>
<rect x="834" y="467" width="1" height="1" fill="#ff0000"/>
<rect x="835" y="468" width="1" height="1" fill="#ff0000"/>
<rect x="836" y="469" width="1" height="1" fill="#ff0000"/>
<rect x="837" y="470" width="1" height="1" fill="#ff0000"/>
<rect x="838" y="471" width="2" height="1" fill="#ff0000"/>
<rect x="840" y="472" width="1" height="1" fill="#ff0000"/>
<rect x="841" y="473" width="1" height="1" fill="#ff0000"/>
<rect x="842" y="474" width="2" height="1" fill="#ff0000"/>
<rect x="844" y="475" width="1" height="1" fill="#ff0000"/>
<rect x="845" y="476" width="2" height="1" fill="#ff0000"/>
<rect x="847" y="477" width="1" height="1" fill="#ff0000"/>
<rect x="848" y="478" width="2" height="1" fill="#ff0000"/>
<rect x="850" y="479" width="2" height="1" fill="#ff0000"/>
<rect x="852" y="480" width="3" height="1" fill="#ff0000"/>
<rect x="855" y="481" width="6" height="1" fill="#ff0000"/>
<rect x="861" y="480" width="2" height="1" fill="#ff0000"/>
<rect x="863" y="479" width="2" height="1" fill="#ff0000"/>
<rect x="865" y="478" width="2" height="1" fill="#ff0000"/>
<rect x="867" y="477" width="2" height="1" fill="#ff0000"/>
<rect x="869" y="476" width="2" height="1" fill="#ff0000"/>
<rect x="871" y="475" width="1" height="1" fill="#ff0000"/>
<rect x="872" y="474" width="2" height="1" fill="#ff0000"/>
<rect x="874" y="473" width="1" height="1" fill="#ff0000"/>
<rect x="875" y="472" width="2" height="1" fill="#ff0000"/>
<rect x="877" y="471" width="1" height="1" fill="#ff0000"/>
<rect x="878" y="470" width="2" height="1" fill="#ff0000"/>
<rect x="880" y="469" width="1" height="1" fill="#ff0000"/>
<rect x="881" y="468" width="2" height="1" fill="#ff0000"/>
<rect x="883" y="467" width="1" height="1" fill="#ff0000"/>
<rect x="884" y="466" width="2" height="1" fill="#ff0000"/>
<rect x="886" y="465" width="1" height="1" fill="#ff0000"/>
<rect x="887" y="464" width="1" height="1" fill="#ff0000"/>
<rect x="888" y="463" width="1" height="1" fill="#ff0000"/>
<rect x="889" y="462" width="2" height="1" fill="#ff0000"/>
<rect x="891" y="461" width="1" height="1" fill="#ff0000"/>
<rect x="892" y="460" width="2" height="1" fill="#ff0000"/>
<rect x="894" y="459" width="2" height="1" fill="#ff0000"/>
<rect x="896" y="458" width="2" height="1" fill="#ff0000"/>
<rect x="898" y="457" width="3" height="1" fill="#ff0000"/>
<rect x="901" y="456" width="3" height="1" fill="#ff0000"/>
<rect x="904" y="455" width="3" height="1" fill="#ff0000"/>
<rect x="907" y="454" width="2" height="1" fill="#ff0000"/>
<rect x="909" y="453" width="2" height="1" fill="#ff0000"/>
<rect x="911" y="452" width="2" height="1" fill="#ff0000"/>
<rect x="913" y="451" width="2" height="1" fill="#ff0000"/>
<rect x="915" y="450" width="2" height="1" fill="#ff0000"/>
<rect x="917" y="449" width="2" height="1" fill="#ff0000"/>
<rect x="919" y="448" width="3" height="1" fill="#ff0000"/>
<rect x="922" y="447" width="2" height="1" fill="#ff0000"/>
<text x="8.5" y="431" font-size="9.8" fill="#000" text-anchor="start" textLength="153.7" lengthAdjust="spacingAndGlyphs" stroke="#000" stroke-width="0.1" xml:space="preserve">MACD(12,26,9) -0.001148 -0.002563</text>
<rect x="1167" y="420" width="1" height="1" fill="#000"/>
<text x="1170.4" y="429" font-size="9.8" fill="#000" text-anchor="start" textLength="38" lengthAdjust="spacingAndGlyphs" stroke="#000" stroke-width="0.1" xml:space="preserve">0.003408</text>
<rect x="1167" y="435" width="1" height="1" fill="#000"/>
<text x="1170.4" y="438.8" font-size="9.8" fill="#000" text-anchor="start" textLength="17.8" lengthAdjust="spacingAndGlyphs" stroke="#000" stroke-width="0.1" xml:space="preserve">0.00</text>
<rect x="1167" y="489" width="1" height="1" fill="#000"/>
<text x="1169.8" y="487.3" font-size="9.8" fill="#000" text-anchor="start" textLength="36.5" lengthAdjust="spacingAndGlyphs" stroke="#000" stroke-width="0.1" xml:space="preserve">-0.01205</text>
<rect x="5" y="515" width="3" height="1" fill="#c0c0c0"/>
<rect x="11" y="515" width="3" height="1" fill="#c0c0c0"/>
<rect x="17" y="515" width="3" height="1" fill="#c0c0c0"/>
<rect x="23" y="515" width="3" height="1" fill="#c0c0c0"/>
<rect x="29" y="515" width="3" height="1" fill="#c0c0c0"/>
<rect x="35" y="515" width="3" height="1" fill="#c0c0c0"/>
<rect x="41" y="515" width="3" height="1" fill="#c0c0c0"/>
<rect x="47" y="515" width="3" height="1" fill="#c0c0c0"/>
<rect x="53" y="515" width="3" height="1" fill="#c0c0c0"/>
<rect x="59" y="515" width="3" height="1" fill="#c0c0c0"/>
<rect x="65" y="515" width="3" height="1" fill="#c0c0c0"/>
<rect x="71" y="515" width="3" height="1" fill="#c0c0c0"/>
<rect x="77" y="515" width="3" height="1" fill="#c0c0c0"/>
<rect x="83" y="515" width="3" height="1" fill="#c0c0c0"/>
<rect x="89" y="515" width="3" height="1" fill="#c0c0c0"/>
<rect x="95" y="515" width="3" height="1" fill="#c0c0c0"/>
<rect x="101" y="515" width="3" height="1" fill="#c0c0c0"/>
<rect x="107" y="515" width="3" height="1" fill="#c0c0c0"/>
<rect x="113" y="515" width="3" height="1" fill="#c0c0c0"/>
<rect x="119" y="515" width="3" height="1" fill="#c0c0c0"/>
<rect x="125" y="515" width="3" height="1" fill="#c0c0c0"/>
<rect x="131" y="515" width="3" height="1" fill="#c0c0c0"/>
<rect x="137" y="515" width="3" height="1" fill="#c0c0c0"/>
<rect x="143" y="515" width="3" height="1" fill="#c0c0c0"/>
<rect x="149" y="515" width="3" height="1" fill="#c0c0c0"/>
<rect x="155" y="515" width="3" height="1" fill="#c0c0c0"/>
<rect x="161" y="515" width="3" height="1" fill="#c0c0c0"/>
<rect x="167" y="515" width="3" height="1" fill="#c0c0c0"/>
<rect x="173" y="515" width="3" height="1" fill="#c0c0c0"/>
<rect x="179" y="515" width="3" height="1" fill="#c0c0c0"/>
<rect x="185" y="515" width="3" height="1" fill="#c0c0c0"/>
<rect x="191" y="515" width="3" height="1" fill="#c0c0c0"/>
<rect x="197" y="515" width="3" height="1" fill="#c0c0c0"/>
<rect x="203" y="515" width="3" height="1" fill="#c0c0c0"/>
<rect x="209" y="515" width="3" height="1" fill="#c0c0c0"/>
<rect x="215" y="515" width="3" height="1" fill="#c0c0c0"/>
<rect x="221" y="515" width="3" height="1" fill="#c0c0c0"/>
<rect x="227" y="515" width="3" height="1" fill="#c0c0c0"/>
<rect x="233" y="515" width="3" height="1" fill="#c0c0c0"/>
<rect x="239" y="515" width="3" height="1" fill="#c0c0c0"/>
<rect x="245" y="515" width="3" height="1" fill="#c0c0c0"/>
<rect x="251" y="515" width="3" height="1" fill="#c0c0c0"/>
<rect x="257" y="515" width="3" height="1" fill="#c0c0c0"/>
<rect x="263" y="515" width="3" height="1" fill="#c0c0c0"/>
<rect x="269" y="515" width="3" height="1" fill="#c0c0c0"/>
<rect x="275" y="515" width="3" height="1" fill="#c0c0c0"/>
<rect x="281" y="515" width="3" height="1" fill="#c0c0c0"/>
<rect x="287" y="515" width="3" height="1" fill="#c0c0c0"/>
<rect x="293" y="515" width="3" height="1" fill="#c0c0c0"/>
<rect x="299" y="515" width="3" height="1" fill="#c0c0c0"/>
<rect x="305" y="515" width="3" height="1" fill="#c0c0c0"/>
<rect x="311" y="515" width="3" height="1" fill="#c0c0c0"/>
<rect x="317" y="515" width="3" height="1" fill="#c0c0c0"/>
<rect x="323" y="515" width="3" height="1" fill="#c0c0c0"/>
<rect x="329" y="515" width="3" height="1" fill="#c0c0c0"/>
<rect x="335" y="515" width="3" height="1" fill="#c0c0c0"/>
<rect x="341" y="515" width="3" height="1" fill="#c0c0c0"/>
<rect x="347" y="515" width="3" height="1" fill="#c0c0c0"/>
<rect x="353" y="515" width="3" height="1" fill="#c0c0c0"/>
<rect x="359" y="515" width="3" height="1" fill="#c0c0c0"/>
<rect x="365" y="515" width="3" height="1" fill="#c0c0c0"/>
<rect x="371" y="515" width="3" height="1" fill="#c0c0c0"/>
<rect x="377" y="515" width="3" height="1" fill="#c0c0c0"/>
<rect x="383" y="515" width="3" height="1" fill="#c0c0c0"/>
<rect x="389" y="515" width="3" height="1" fill="#c0c0c0"/>
<rect x="395" y="515" width="3" height="1" fill="#c0c0c0"/>
<rect x="401" y="515" width="3" height="1" fill="#c0c0c0"/>
<rect x="407" y="515" width="3" height="1" fill="#c0c0c0"/>
<rect x="413" y="515" width="3" height="1" fill="#c0c0c0"/>
<rect x="419" y="515" width="3" height="1" fill="#c0c0c0"/>
<rect x="425" y="515" width="3" height="1" fill="#c0c0c0"/>
<rect x="431" y="515" width="3" height="1" fill="#c0c0c0"/>
<rect x="437" y="515" width="3" height="1" fill="#c0c0c0"/>
<rect x="443" y="515" width="3" height="1" fill="#c0c0c0"/>
<rect x="449" y="515" width="3" height="1" fill="#c0c0c0"/>
<rect x="455" y="515" width="3" height="1" fill="#c0c0c0"/>
<rect x="461" y="515" width="3" height="1" fill="#c0c0c0"/>
<rect x="467" y="515" width="3" height="1" fill="#c0c0c0"/>
<rect x="473" y="515" width="3" height="1" fill="#c0c0c0"/>
<rect x="479" y="515" width="3" height="1" fill="#c0c0c0"/>
<rect x="485" y="515" width="3" height="1" fill="#c0c0c0"/>
<rect x="491" y="515" width="3" height="1" fill="#c0c0c0"/>
<rect x="497" y="515" width="3" height="1" fill="#c0c0c0"/>
<rect x="503" y="515" width="3" height="1" fill="#c0c0c0"/>
<rect x="509" y="515" width="3" height="1" fill="#c0c0c0"/>
<rect x="515" y="515" width="3" height="1" fill="#c0c0c0"/>
<rect x="521" y="515" width="3" height="1" fill="#c0c0c0"/>
<rect x="527" y="515" width="3" height="1" fill="#c0c0c0"/>
<rect x="533" y="515" width="3" height="1" fill="#c0c0c0"/>
<rect x="539" y="515" width="3" height="1" fill="#c0c0c0"/>
<rect x="545" y="515" width="3" height="1" fill="#c0c0c0"/>
<rect x="551" y="515" width="3" height="1" fill="#c0c0c0"/>
<rect x="557" y="515" width="3" height="1" fill="#c0c0c0"/>
<rect x="563" y="515" width="3" height="1" fill="#c0c0c0"/>
<rect x="569" y="515" width="3" height="1" fill="#c0c0c0"/>
<rect x="575" y="515" width="3" height="1" fill="#c0c0c0"/>
<rect x="581" y="515" width="3" height="1" fill="#c0c0c0"/>
<rect x="587" y="515" width="3" height="1" fill="#c0c0c0"/>
<rect x="593" y="515" width="3" height="1" fill="#c0c0c0"/>
<rect x="599" y="515" width="3" height="1" fill="#c0c0c0"/>
<rect x="605" y="515" width="3" height="1" fill="#c0c0c0"/>
<rect x="611" y="515" width="3" height="1" fill="#c0c0c0"/>
<rect x="617" y="515" width="3" height="1" fill="#c0c0c0"/>
<rect x="623" y="515" width="3" height="1" fill="#c0c0c0"/>
<rect x="629" y="515" width="3" height="1" fill="#c0c0c0"/>
<rect x="635" y="515" width="3" height="1" fill="#c0c0c0"/>
<rect x="641" y="515" width="3" height="1" fill="#c0c0c0"/>
<rect x="647" y="515" width="3" height="1" fill="#c0c0c0"/>
<rect x="653" y="515" width="3" height="1" fill="#c0c0c0"/>
<rect x="659" y="515" width="3" height="1" fill="#c0c0c0"/>
<rect x="665" y="515" width="3" height="1" fill="#c0c0c0"/>
<rect x="671" y="515" width="3" height="1" fill="#c0c0c0"/>
<rect x="677" y="515" width="3" height="1" fill="#c0c0c0"/>
<rect x="683" y="515" width="3" height="1" fill="#c0c0c0"/>
<rect x="689" y="515" width="3" height="1" fill="#c0c0c0"/>
<rect x="695" y="515" width="3" height="1" fill="#c0c0c0"/>
<rect x="701" y="515" width="3" height="1" fill="#c0c0c0"/>
<rect x="707" y="515" width="3" height="1" fill="#c0c0c0"/>
<rect x="713" y="515" width="3" height="1" fill="#c0c0c0"/>
<rect x="719" y="515" width="3" height="1" fill="#c0c0c0"/>
<rect x="725" y="515" width="3" height="1" fill="#c0c0c0"/>
<rect x="731" y="515" width="3" height="1" fill="#c0c0c0"/>
<rect x="737" y="515" width="3" height="1" fill="#c0c0c0"/>
<rect x="743" y="515" width="3" height="1" fill="#c0c0c0"/>
<rect x="749" y="515" width="3" height="1" fill="#c0c0c0"/>
<rect x="755" y="515" width="3" height="1" fill="#c0c0c0"/>
<rect x="761" y="515" width="3" height="1" fill="#c0c0c0"/>
<rect x="767" y="515" width="3" height="1" fill="#c0c0c0"/>
<rect x="773" y="515" width="3" height="1" fill="#c0c0c0"/>
<rect x="779" y="515" width="3" height="1" fill="#c0c0c0"/>
<rect x="785" y="515" width="3" height="1" fill="#c0c0c0"/>
<rect x="791" y="515" width="3" height="1" fill="#c0c0c0"/>
<rect x="797" y="515" width="3" height="1" fill="#c0c0c0"/>
<rect x="803" y="515" width="3" height="1" fill="#c0c0c0"/>
<rect x="809" y="515" width="3" height="1" fill="#c0c0c0"/>
<rect x="815" y="515" width="3" height="1" fill="#c0c0c0"/>
<rect x="821" y="515" width="3" height="1" fill="#c0c0c0"/>
<rect x="827" y="515" width="3" height="1" fill="#c0c0c0"/>
<rect x="833" y="515" width="3" height="1" fill="#c0c0c0"/>
<rect x="839" y="515" width="3" height="1" fill="#c0c0c0"/>
<rect x="845" y="515" width="3" height="1" fill="#c0c0c0"/>
<rect x="851" y="515" width="3" height="1" fill="#c0c0c0"/>
<rect x="857" y="515" width="3" height="1" fill="#c0c0c0"/>
<rect x="863" y="515" width="3" height="1" fill="#c0c0c0"/>
<rect x="869" y="515" width="3" height="1" fill="#c0c0c0"/>
<rect x="875" y="515" width="3" height="1" fill="#c0c0c0"/>
<rect x="881" y="515" width="3" height="1" fill="#c0c0c0"/>
<rect x="887" y="515" width="3" height="1" fill="#c0c0c0"/>
<rect x="893" y="515" width="3" height="1" fill="#c0c0c0"/>
<rect x="899" y="515" width="3" height="1" fill="#c0c0c0"/>
<rect x="905" y="515" width="3" height="1" fill="#c0c0c0"/>
<rect x="911" y="515" width="3" height="1" fill="#c0c0c0"/>
<rect x="917" y="515" width="3" height="1" fill="#c0c0c0"/>
<rect x="923" y="515" width="3" height="1" fill="#c0c0c0"/>
<rect x="929" y="515" width="3" height="1" fill="#c0c0c0"/>
<rect x="935" y="515" width="3" height="1" fill="#c0c0c0"/>
<rect x="941" y="515" width="3" height="1" fill="#c0c0c0"/>
<rect x="947" y="515" width="3" height="1" fill="#c0c0c0"/>
<rect x="953" y="515" width="3" height="1" fill="#c0c0c0"/>
<rect x="959" y="515" width="3" height="1" fill="#c0c0c0"/>
<rect x="965" y="515" width="3" height="1" fill="#c0c0c0"/>
<rect x="971" y="515" width="3" height="1" fill="#c0c0c0"/>
<rect x="977" y="515" width="3" height="1" fill="#c0c0c0"/>
<rect x="983" y="515" width="3" height="1" fill="#c0c0c0"/>
<rect x="989" y="515" width="3" height="1" fill="#c0c0c0"/>
<rect x="995" y="515" width="3" height="1" fill="#c0c0c0"/>
<rect x="1001" y="515" width="3" height="1" fill="#c0c0c0"/>
<rect x="1007" y="515" width="3" height="1" fill="#c0c0c0"/>
<rect x="1013" y="515" width="3" height="1" fill="#c0c0c0"/>
<rect x="1019" y="515" width="3" height="1" fill="#c0c0c0"/>
<rect x="1025" y="515" width="3" height="1" fill="#c0c0c0"/>
<rect x="1031" y="515" width="3" height="1" fill="#c0c0c0"/>
<rect x="1037" y="515" width="3" height="1" fill="#c0c0c0"/>
<rect x="1043" y="515" width="3" height="1" fill="#c0c0c0"/>
<rect x="1049" y="515" width="3" height="1" fill="#c0c0c0"/>
<rect x="1055" y="515" width="3" height="1" fill="#c0c0c0"/>
<rect x="1061" y="515" width="3" height="1" fill="#c0c0c0"/>
<rect x="1067" y="515" width="3" height="1" fill="#c0c0c0"/>
<rect x="1073" y="515" width="3" height="1" fill="#c0c0c0"/>
<rect x="1079" y="515" width="3" height="1" fill="#c0c0c0"/>
<rect x="1085" y="515" width="3" height="1" fill="#c0c0c0"/>
<rect x="1091" y="515" width="3" height="1" fill="#c0c0c0"/>
<rect x="1097" y="515" width="3" height="1" fill="#c0c0c0"/>
<rect x="1103" y="515" width="3" height="1" fill="#c0c0c0"/>
<rect x="1109" y="515" width="3" height="1" fill="#c0c0c0"/>
<rect x="1115" y="515" width="3" height="1" fill="#c0c0c0"/>
<rect x="1121" y="515" width="3" height="1" fill="#c0c0c0"/>
<rect x="1127" y="515" width="3" height="1" fill="#c0c0c0"/>
<rect x="1133" y="515" width="3" height="1" fill="#c0c0c0"/>
<rect x="1139" y="515" width="3" height="1" fill="#c0c0c0"/>
<rect x="1145" y="515" width="3" height="1" fill="#c0c0c0"/>
<rect x="1151" y="515" width="3" height="1" fill="#c0c0c0"/>
<rect x="1157" y="515" width="3" height="1" fill="#c0c0c0"/>
<rect x="1163" y="515" width="3" height="1" fill="#c0c0c0"/>
<rect x="5" y="544" width="3" height="1" fill="#c0c0c0"/>
<rect x="11" y="544" width="3" height="1" fill="#c0c0c0"/>
<rect x="17" y="544" width="3" height="1" fill="#c0c0c0"/>
<rect x="23" y="544" width="3" height="1" fill="#c0c0c0"/>
<rect x="29" y="544" width="3" height="1" fill="#c0c0c0"/>
<rect x="35" y="544" width="3" height="1" fill="#c0c0c0"/>
<rect x="41" y="544" width="3" height="1" fill="#c0c0c0"/>
<rect x="47" y="544" width="3" height="1" fill="#c0c0c0"/>
<rect x="53" y="544" width="3" height="1" fill="#c0c0c0"/>
<rect x="59" y="544" width="3" height="1" fill="#c0c0c0"/>
<rect x="65" y="544" width="3" height="1" fill="#c0c0c0"/>
<rect x="71" y="544" width="3" height="1" fill="#c0c0c0"/>
<rect x="77" y="544" width="3" height="1" fill="#c0c0c0"/>
<rect x="83" y="544" width="3" height="1" fill="#c0c0c0"/>
<rect x="89" y="544" width="3" height="1" fill="#c0c0c0"/>
<rect x="95" y="544" width="3" height="1" fill="#c0c0c0"/>
<rect x="101" y="544" width="3" height="1" fill="#c0c0c0"/>
<rect x="107" y="544" width="3" height="1" fill="#c0c0c0"/>
<rect x="113" y="544" width="3" height="1" fill="#c0c0c0"/>
<rect x="119" y="544" width="3" height="1" fill="#c0c0c0"/>
<rect x="125" y="544" width="3" height="1" fill="#c0c0c0"/>
<rect x="131" y="544" width="3" height="1" fill="#c0c0c0"/>
<rect x="137" y="544" width="3" height="1" fill="#c0c0c0"/>
<rect x="143" y="544" width="3" height="1" fill="#c0c0c0"/>
<rect x="149" y="544" width="3" height="1" fill="#c0c0c0"/>
<rect x="155" y="544" width="3" height="1" fill="#c0c0c0"/>
<rect x="161" y="544" width="3" height="1" fill="#c0c0c0"/>
<rect x="167" y="544" width="3" height="1" fill="#c0c0c0"/>
<rect x="173" y="544" width="3" height="1" fill="#c0c0c0"/>
<rect x="179" y="544" width="3" height="1" fill="#c0c0c0"/>
<rect x="185" y="544" width="3" height="1" fill="#c0c0c0"/>
<rect x="191" y="544" width="3" height="1" fill="#c0c0c0"/>
<rect x="197" y="544" width="3" height="1" fill="#c0c0c0"/>
<rect x="203" y="544" width="3" height="1" fill="#c0c0c0"/>
<rect x="209" y="544" width="3" height="1" fill="#c0c0c0"/>
<rect x="215" y="544" width="3" height="1" fill="#c0c0c0"/>
<rect x="221" y="544" width="3" height="1" fill="#c0c0c0"/>
<rect x="227" y="544" width="3" height="1" fill="#c0c0c0"/>
<rect x="233" y="544" width="3" height="1" fill="#c0c0c0"/>
<rect x="239" y="544" width="3" height="1" fill="#c0c0c0"/>
<rect x="245" y="544" width="3" height="1" fill="#c0c0c0"/>
<rect x="251" y="544" width="3" height="1" fill="#c0c0c0"/>
<rect x="257" y="544" width="3" height="1" fill="#c0c0c0"/>
<rect x="263" y="544" width="3" height="1" fill="#c0c0c0"/>
<rect x="269" y="544" width="3" height="1" fill="#c0c0c0"/>
<rect x="275" y="544" width="3" height="1" fill="#c0c0c0"/>
<rect x="281" y="544" width="3" height="1" fill="#c0c0c0"/>
<rect x="287" y="544" width="3" height="1" fill="#c0c0c0"/>
<rect x="293" y="544" width="3" height="1" fill="#c0c0c0"/>
<rect x="299" y="544" width="3" height="1" fill="#c0c0c0"/>
<rect x="305" y="544" width="3" height="1" fill="#c0c0c0"/>
<rect x="311" y="544" width="3" height="1" fill="#c0c0c0"/>
<rect x="317" y="544" width="3" height="1" fill="#c0c0c0"/>
<rect x="323" y="544" width="3" height="1" fill="#c0c0c0"/>
<rect x="329" y="544" width="3" height="1" fill="#c0c0c0"/>
<rect x="335" y="544" width="3" height="1" fill="#c0c0c0"/>
<rect x="341" y="544" width="3" height="1" fill="#c0c0c0"/>
<rect x="347" y="544" width="3" height="1" fill="#c0c0c0"/>
<rect x="353" y="544" width="3" height="1" fill="#c0c0c0"/>
<rect x="359" y="544" width="3" height="1" fill="#c0c0c0"/>
<rect x="365" y="544" width="3" height="1" fill="#c0c0c0"/>
<rect x="371" y="544" width="3" height="1" fill="#c0c0c0"/>
<rect x="377" y="544" width="3" height="1" fill="#c0c0c0"/>
<rect x="383" y="544" width="3" height="1" fill="#c0c0c0"/>
<rect x="389" y="544" width="3" height="1" fill="#c0c0c0"/>
<rect x="395" y="544" width="3" height="1" fill="#c0c0c0"/>
<rect x="401" y="544" width="3" height="1" fill="#c0c0c0"/>
<rect x="407" y="544" width="3" height="1" fill="#c0c0c0"/>
<rect x="413" y="544" width="3" height="1" fill="#c0c0c0"/>
<rect x="419" y="544" width="3" height="1" fill="#c0c0c0"/>
<rect x="425" y="544" width="3" height="1" fill="#c0c0c0"/>
<rect x="431" y="544" width="3" height="1" fill="#c0c0c0"/>
<rect x="437" y="544" width="3" height="1" fill="#c0c0c0"/>
<rect x="443" y="544" width="3" height="1" fill="#c0c0c0"/>
<rect x="449" y="544" width="3" height="1" fill="#c0c0c0"/>
<rect x="455" y="544" width="3" height="1" fill="#c0c0c0"/>
<rect x="461" y="544" width="3" height="1" fill="#c0c0c0"/>
<rect x="467" y="544" width="3" height="1" fill="#c0c0c0"/>
<rect x="473" y="544" width="3" height="1" fill="#c0c0c0"/>
<rect x="479" y="544" width="3" height="1" fill="#c0c0c0"/>
<rect x="485" y="544" width="3" height="1" fill="#c0c0c0"/>
<rect x="491" y="544" width="3" height="1" fill="#c0c0c0"/>
<rect x="497" y="544" width="3" height="1" fill="#c0c0c0"/>
<rect x="503" y="544" width="3" height="1" fill="#c0c0c0"/>
<rect x="509" y="544" width="3" height="1" fill="#c0c0c0"/>
<rect x="515" y="544" width="3" height="1" fill="#c0c0c0"/>
<rect x="521" y="544" width="3" height="1" fill="#c0c0c0"/>
<rect x="527" y="544" width="3" height="1" fill="#c0c0c0"/>
<rect x="533" y="544" width="3" height="1" fill="#c0c0c0"/>
<rect x="539" y="544" width="3" height="1" fill="#c0c0c0"/>
<rect x="545" y="544" width="3" height="1" fill="#c0c0c0"/>
<rect x="551" y="544" width="3" height="1" fill="#c0c0c0"/>
<rect x="557" y="544" width="3" height="1" fill="#c0c0c0"/>
<rect x="563" y="544" width="3" height="1" fill="#c0c0c0"/>
<rect x="569" y="544" width="3" height="1" fill="#c0c0c0"/>
<rect x="575" y="544" width="3" height="1" fill="#c0c0c0"/>
<rect x="581" y="544" width="3" height="1" fill="#c0c0c0"/>
<rect x="587" y="544" width="3" height="1" fill="#c0c0c0"/>
<rect x="593" y="544" width="3" height="1" fill="#c0c0c0"/>
<rect x="599" y="544" width="3" height="1" fill="#c0c0c0"/>
<rect x="605" y="544" width="3" height="1" fill="#c0c0c0"/>
<rect x="611" y="544" width="3" height="1" fill="#c0c0c0"/>
<rect x="617" y="544" width="3" height="1" fill="#c0c0c0"/>
<rect x="623" y="544" width="3" height="1" fill="#c0c0c0"/>
<rect x="629" y="544" width="3" height="1" fill="#c0c0c0"/>
<rect x="635" y="544" width="3" height="1" fill="#c0c0c0"/>
<rect x="641" y="544" width="3" height="1" fill="#c0c0c0"/>
<rect x="647" y="544" width="3" height="1" fill="#c0c0c0"/>
<rect x="653" y="544" width="3" height="1" fill="#c0c0c0"/>
<rect x="659" y="544" width="3" height="1" fill="#c0c0c0"/>
<rect x="665" y="544" width="3" height="1" fill="#c0c0c0"/>
<rect x="671" y="544" width="3" height="1" fill="#c0c0c0"/>
<rect x="677" y="544" width="3" height="1" fill="#c0c0c0"/>
<rect x="683" y="544" width="3" height="1" fill="#c0c0c0"/>
<rect x="689" y="544" width="3" height="1" fill="#c0c0c0"/>
<rect x="695" y="544" width="3" height="1" fill="#c0c0c0"/>
<rect x="701" y="544" width="3" height="1" fill="#c0c0c0"/>
<rect x="707" y="544" width="3" height="1" fill="#c0c0c0"/>
<rect x="713" y="544" width="3" height="1" fill="#c0c0c0"/>
<rect x="719" y="544" width="3" height="1" fill="#c0c0c0"/>
<rect x="725" y="544" width="3" height="1" fill="#c0c0c0"/>
<rect x="731" y="544" width="3" height="1" fill="#c0c0c0"/>
<rect x="737" y="544" width="3" height="1" fill="#c0c0c0"/>
<rect x="743" y="544" width="3" height="1" fill="#c0c0c0"/>
<rect x="749" y="544" width="3" height="1" fill="#c0c0c0"/>
<rect x="755" y="544" width="3" height="1" fill="#c0c0c0"/>
<rect x="761" y="544" width="3" height="1" fill="#c0c0c0"/>
<rect x="767" y="544" width="3" height="1" fill="#c0c0c0"/>
<rect x="773" y="544" width="3" height="1" fill="#c0c0c0"/>
<rect x="779" y="544" width="3" height="1" fill="#c0c0c0"/>
<rect x="785" y="544" width="3" height="1" fill="#c0c0c0"/>
<rect x="791" y="544" width="3" height="1" fill="#c0c0c0"/>
<rect x="797" y="544" width="3" height="1" fill="#c0c0c0"/>
<rect x="803" y="544" width="3" height="1" fill="#c0c0c0"/>
<rect x="809" y="544" width="3" height="1" fill="#c0c0c0"/>
<rect x="815" y="544" width="3" height="1" fill="#c0c0c0"/>
<rect x="821" y="544" width="3" height="1" fill="#c0c0c0"/>
<rect x="827" y="544" width="3" height="1" fill="#c0c0c0"/>
<rect x="833" y="544" width="3" height="1" fill="#c0c0c0"/>
<rect x="839" y="544" width="3" height="1" fill="#c0c0c0"/>
<rect x="845" y="544" width="3" height="1" fill="#c0c0c0"/>
<rect x="851" y="544" width="3" height="1" fill="#c0c0c0"/>
<rect x="857" y="544" width="3" height="1" fill="#c0c0c0"/>
<rect x="863" y="544" width="3" height="1" fill="#c0c0c0"/>
<rect x="869" y="544" width="3" height="1" fill="#c0c0c0"/>
<rect x="875" y="544" width="3" height="1" fill="#c0c0c0"/>
<rect x="881" y="544" width="3" height="1" fill="#c0c0c0"/>
<rect x="887" y="544" width="3" height="1" fill="#c0c0c0"/>
<rect x="893" y="544" width="3" height="1" fill="#c0c0c0"/>
<rect x="899" y="544" width="3" height="1" fill="#c0c0c0"/>
<rect x="905" y="544" width="3" height="1" fill="#c0c0c0"/>
<rect x="911" y="544" width="3" height="1" fill="#c0c0c0"/>
<rect x="917" y="544" width="3" height="1" fill="#c0c0c0"/>
<rect x="923" y="544" width="3" height="1" fill="#c0c0c0"/>
<rect x="929" y="544" width="3" height="1" fill="#c0c0c0"/>
<rect x="935" y="544" width="3" height="1" fill="#c0c0c0"/>
<rect x="941" y="544" width="3" height="1" fill="#c0c0c0"/>
<rect x="947" y="544" width="3" height="1" fill="#c0c0c0"/>
<rect x="953" y="544" width="3" height="1" fill="#c0c0c0"/>
<rect x="959" y="544" width="3" height="1" fill="#c0c0c0"/>
<rect x="965" y="544" width="3" height="1" fill="#c0c0c0"/>
<rect x="971" y="544" width="3" height="1" fill="#c0c0c0"/>
<rect x="977" y="544" width="3" height="1" fill="#c0c0c0"/>
<rect x="983" y="544" width="3" height="1" fill="#c0c0c0"/>
<rect x="989" y="544" width="3" height="1" fill="#c0c0c0"/>
<rect x="995" y="544" width="3" height="1" fill="#c0c0c0"/>
<rect x="1001" y="544" width="3" height="1" fill="#c0c0c0"/>
<rect x="1007" y="544" width="3" height="1" fill="#c0c0c0"/>
<rect x="1013" y="544" width="3" height="1" fill="#c0c0c0"/>
<rect x="1019" y="544" width="3" height="1" fill="#c0c0c0"/>
<rect x="1025" y="544" width="3" height="1" fill="#c0c0c0"/>
<rect x="1031" y="544" width="3" height="1" fill="#c0c0c0"/>
<rect x="1037" y="544" width="3" height="1" fill="#c0c0c0"/>
<rect x="1043" y="544" width="3" height="1" fill="#c0c0c0"/>
<rect x="1049" y="544" width="3" height="1" fill="#c0c0c0"/>
<rect x="1055" y="544" width="3" height="1" fill="#c0c0c0"/>
<rect x="1061" y="544" width="3" height="1" fill="#c0c0c0"/>
<rect x="1067" y="544" width="3" height="1" fill="#c0c0c0"/>
<rect x="1073" y="544" width="3" height="1" fill="#c0c0c0"/>
<rect x="1079" y="544" width="3" height="1" fill="#c0c0c0"/>
<rect x="1085" y="544" width="3" height="1" fill="#c0c0c0"/>
<rect x="1091" y="544" width="3" height="1" fill="#c0c0c0"/>
<rect x="1097" y="544" width="3" height="1" fill="#c0c0c0"/>
<rect x="1103" y="544" width="3" height="1" fill="#c0c0c0"/>
<rect x="1109" y="544" width="3" height="1" fill="#c0c0c0"/>
<rect x="1115" y="544" width="3" height="1" fill="#c0c0c0"/>
<rect x="1121" y="544" width="3" height="1" fill="#c0c0c0"/>
<rect x="1127" y="544" width="3" height="1" fill="#c0c0c0"/>
<rect x="1133" y="544" width="3" height="1" fill="#c0c0c0"/>
<rect x="1139" y="544" width="3" height="1" fill="#c0c0c0"/>
<rect x="1145" y="544" width="3" height="1" fill="#c0c0c0"/>
<rect x="1151" y="544" width="3" height="1" fill="#c0c0c0"/>
<rect x="1157" y="544" width="3" height="1" fill="#c0c0c0"/>
<rect x="1163" y="544" width="3" height="1" fill="#c0c0c0"/>
<rect x="4" y="535" width="3" height="1" fill="#1e90ff"/>
<rect x="7" y="536" width="4" height="1" fill="#1e90ff"/>
<rect x="11" y="537" width="2" height="1" fill="#1e90ff"/>
<rect x="13" y="538" width="1" height="2" fill="#1e90ff"/>
<rect x="14" y="540" width="1" height="1" fill="#1e90ff"/>
<rect x="15" y="541" width="1" height="2" fill="#1e90ff"/>
<rect x="16" y="542" width="1" height="2" fill="#1e90ff"/>
<rect x="17" y="540" width="1" height="2" fill="#1e90ff"/>
<rect x="18" y="539" width="1" height="1" fill="#1e90ff"/>
<rect x="19" y="537" width="1" height="2" fill="#1e90ff"/>
<rect x="20" y="536" width="2" height="1" fill="#1e90ff"/>
<rect x="22" y="537" width="2" height="1" fill="#1e90ff"/>
<rect x="24" y="538" width="6" height="1" fill="#1e90ff"/>
<rect x="30" y="537" width="4" height="1" fill="#1e90ff"/>
<rect x="34" y="538" width="2" height="1" fill="#1e90ff"/>
<rect x="36" y="539" width="3" height="1" fill="#1e90ff"/>
<rect x="39" y="540" width="2" height="1" fill="#1e90ff"/>
<rect x="41" y="539" width="2" height="1" fill="#1e90ff"/>
<rect x="43" y="538" width="3" height="1" fill="#1e90ff"/>
<rect x="46" y="539" width="2" height="1" fill="#1e90ff"/>
<rect x="48" y="540" width="8" height="1" fill="#1e90ff"/>
<rect x="56" y="539" width="1" height="2" fill="#1e90ff"/>
<rect x="57" y="538" width="1" height="1" fill="#1e90ff"/>
<rect x="58" y="537" width="1" height="1" fill="#1e90ff"/>
<rect x="59" y="535" width="1" height="2" fill="#1e90ff"/>
<rect x="60" y="534" width="2" height="1" fill="#1e90ff"/>
<rect x="62" y="533" width="2" height="1" fill="#1e90ff"/>
<rect x="64" y="532" width="2" height="1" fill="#1e90ff"/>
<rect x="66" y="531" width="1" height="1" fill="#1e90ff"/>
<rect x="67" y="530" width="1" height="1" fill="#1e90ff"/>
<rect x="68" y="529" width="1" height="1" fill="#1e90ff"/>
<rect x="69" y="527" width="1" height="2" fill="#1e90ff"/>
<rect x="70" y="526" width="1" height="1" fill="#1e90ff"/>
<rect x="71" y="525" width="1" height="1" fill="#1e90ff"/>
<rect x="72" y="524" width="1" height="1" fill="#1e90ff"/>
<rect x="73" y="525" width="1" height="1" fill="#1e90ff"/>
<rect x="74" y="526" width="1" height="2" fill="#1e90ff"/>
<rect x="75" y="528" width="1" height="1" fill="#1e90ff"/>
<rect x="76" y="529" width="1" height="1" fill="#1e90ff"/>
<rect x="77" y="528" width="2" height="1" fill="#1e90ff"/>
<rect x="79" y="527" width="10" height="1" fill="#1e90ff"/>
<rect x="89" y="528" width="1" height="1" fill="#1e90ff"/>
<rect x="90" y="529" width="1" height="1" fill="#1e90ff"/>
<rect x="91" y="530" width="1" height="1" fill="#1e90ff"/>
<rect x="92" y="531" width="3" height="1" fill="#1e90ff"/>
<rect x="95" y="532" width="1" height="1" fill="#1e90ff"/>
<rect x="96" y="532" width="1" height="2" fill="#1e90ff"/>
<rect x="97" y="534" width="1" height="1" fill="#1e90ff"/>
<rect x="98" y="535" width="1" height="2" fill="#1e90ff"/>
<rect x="99" y="537" width="1" height="2" fill="#1e90ff"/>
<rect x="100" y="539" width="3" height="1" fill="#1e90ff"/>
<rect x="103" y="540" width="4" height="1" fill="#1e90ff"/>
<rect x="107" y="541" width="4" height="1" fill="#1e90ff"/>
<rect x="111" y="542" width="2" height="1" fill="#1e90ff"/>
<rect x="113" y="541" width="1" height="1" fill="#1e90ff"/>
<rect x="114" y="540" width="1" height="1" fill="#1e90ff"/>
<rect x="115" y="539" width="4" height="1" fill="#1e90ff"/>
<rect x="119" y="540" width="1" height="1" fill="#1e90ff"/>
<rect x="120" y="539" width="1" height="2" fill="#1e90ff"/>
<rect x="121" y="537" width="1" height="2" fill="#1e90ff"/>
<rect x="122" y="534" width="1" height="3" fill="#1e90ff"/>
<rect x="123" y="532" width="1" height="2" fill="#1e90ff"/>
<rect x="124" y="531" width="6" height="1" fill="#1e90ff"/>
<rect x="130" y="532" width="2" height="1" fill="#1e90ff"/>
<rect x="132" y="533" width="1" height="1" fill="#1e90ff"/>
<rect x="133" y="534" width="1" height="2" fill="#1e90ff"/>
<rect x="134" y="536" width="1" height="1" fill="#1e90ff"/>
<rect x="135" y="537" width="1" height="2" fill="#1e90ff"/>
<rect x="136" y="539" width="3" height="1" fill="#1e90ff"/>
<rect x="139" y="540" width="3" height="1" fill="#1e90ff"/>
<rect x="142" y="541" width="2" height="1" fill="#1e90ff"/>
<rect x="144" y="542" width="1" height="1" fill="#1e90ff"/>
<rect x="145" y="541" width="1" height="1" fill="#1e90ff"/>
<rect x="146" y="540" width="2" height="1" fill="#1e90ff"/>
<rect x="148" y="539" width="4" height="1" fill="#1e90ff"/>
<rect x="152" y="538" width="1" height="2" fill="#1e90ff"/>
<rect x="153" y="537" width="1" height="1" fill="#1e90ff"/>
<rect x="154" y="535" width="1" height="2" fill="#1e90ff"/>
<rect x="155" y="534" width="1" height="1" fill="#1e90ff"/>
<rect x="156" y="533" width="1" height="1" fill="#1e90ff"/>
<rect x="157" y="532" width="2" height="1" fill="#1e90ff"/>
<rect x="159" y="531" width="2" height="1" fill="#1e90ff"/>
<rect x="161" y="530" width="2" height="1" fill="#1e90ff"/>
<rect x="163" y="529" width="3" height="1" fill="#1e90ff"/>
<rect x="166" y="530" width="2" height="1" fill="#1e90ff"/>
<rect x="168" y="531" width="1" height="1" fill="#1e90ff"/>
<rect x="169" y="530" width="1" height="1" fill="#1e90ff"/>
<rect x="170" y="529" width="1" height="1" fill="#1e90ff"/>
<rect x="171" y="528" width="1" height="1" fill="#1e90ff"/>
<rect x="172" y="527" width="3" height="1" fill="#1e90ff"/>
<rect x="175" y="526" width="7" height="1" fill="#1e90ff"/>
<rect x="182" y="525" width="3" height="1" fill="#1e90ff"/>
<rect x="185" y="524" width="1" height="1" fill="#1e90ff"/>
<rect x="186" y="523" width="1" height="1" fill="#1e90ff"/>
<rect x="187" y="522" width="1" height="1" fill="#1e90ff"/>
<rect x="188" y="521" width="1" height="1" fill="#1e90ff"/>
<rect x="189" y="520" width="1" height="1" fill="#1e90ff"/>
<rect x="190" y="519" width="2" height="1" fill="#1e90ff"/>
<rect x="192" y="518" width="1" height="1" fill="#1e90ff"/>
<rect x="193" y="517" width="3" height="1" fill="#1e90ff"/>
<rect x="196" y="516" width="1" height="1" fill="#1e90ff"/>
<rect x="197" y="517" width="4" height="1" fill="#1e90ff"/>
<rect x="201" y="518" width="1" height="1" fill="#1e90ff"/>
<rect x="202" y="519" width="2" height="1" fill="#1e90ff"/>
<rect x="204" y="520" width="1" height="1" fill="#1e90ff"/>
<rect x="205" y="521" width="1" height="1" fill="#1e90ff"/>
<rect x="206" y="522" width="1" height="1" fill="#1e90ff"/>
<rect x="207" y="523" width="1" height="2" fill="#1e90ff"/>
<rect x="208" y="525" width="2" height="1" fill="#1e90ff"/>
<rect x="210" y="526" width="1" height="1" fill="#1e90ff"/>
<rect x="211" y="527" width="1" height="1" fill="#1e90ff"/>
<rect x="212" y="528" width="8" height="1" fill="#1e90ff"/>
<rect x="220" y="529" width="8" height="1" fill="#1e90ff"/>
<rect x="228" y="530" width="3" height="1" fill="#1e90ff"/>
<rect x="231" y="531" width="2" height="1" fill="#1e90ff"/>
<rect x="233" y="530" width="1" height="1" fill="#1e90ff"/>
<rect x="234" y="529" width="1" height="1" fill="#1e90ff"/>
<rect x="235" y="528" width="1" height="1" fill="#1e90ff"/>
<rect x="236" y="528" width="1" height="2" fill="#1e90ff"/>
<rect x="237" y="530" width="1" height="1" fill="#1e90ff"/>
<rect x="238" y="531" width="1" height="2" fill="#1e90ff"/>
<rect x="239" y="533" width="1" height="2" fill="#1e90ff"/>
<rect x="240" y="535" width="1" height="1" fill="#1e90ff"/>
<rect x="241" y="536" width="1" height="2" fill="#1e90ff"/>
<rect x="242" y="538" width="1" height="1" fill="#1e90ff"/>
<rect x="243" y="539" width="1" height="1" fill="#1e90ff"/>
<rect x="244" y="540" width="13" height="1" fill="#1e90ff"/>
<rect x="257" y="541" width="1" height="1" fill="#1e90ff"/>
<rect x="258" y="542" width="1" height="1" fill="#1e90ff"/>
<rect x="259" y="543" width="1" height="1" fill="#1e90ff"/>
<rect x="260" y="543" width="1" height="2" fill="#1e90ff"/>
<rect x="261" y="541" width="1" height="2" fill="#1e90ff"/>
<rect x="262" y="538" width="1" height="3" fill="#1e90ff"/>
<rect x="263" y="536" width="1" height="2" fill="#1e90ff"/>
<rect x="264" y="535" width="2" height="1" fill="#1e90ff"/>
<rect x="266" y="536" width="2" height="1" fill="#1e90ff"/>
<rect x="268" y="537" width="2" height="1" fill="#1e90ff"/>
<rect x="270" y="536" width="3" height="1" fill="#1e90ff"/>
<rect x="273" y="537" width="2" height="1" fill="#1e90ff"/>
<rect x="275" y="538" width="1" height="1" fill="#1e90ff"/>
<rect x="276" y="539" width="3" height="1" fill="#1e90ff"/>
<rect x="279" y="540" width="2" height="1" fill="#1e90ff"/>
<rect x="281" y="541" width="1" height="2" fill="#1e90ff"/>
<rect x="282" y="543" width="1" height="1" fill="#1e90ff"/>
<rect x="283" y="544" width="1" height="2" fill="#1e90ff"/>
<rect x="284" y="546" width="2" height="1" fill="#1e90ff"/>
<rect x="286" y="547" width="2" height="1" fill="#1e90ff"/>
<rect x="288" y="548" width="1" height="1" fill="#1e90ff"/>
<rect x="289" y="547" width="1" height="1" fill="#1e90ff"/>
<rect x="290" y="546" width="1" height="1" fill="#1e90ff"/>
<rect x="291" y="545" width="1" height="1" fill="#1e90ff"/>
<rect x="292" y="544" width="2" height="1" fill="#1e90ff"/>
<rect x="294" y="543" width="3" height="1" fill="#1e90ff"/>
<rect x="297" y="542" width="2" height="1" fill="#1e90ff"/>
<rect x="299" y="541" width="3" height="1" fill="#1e90ff"/>
<rect x="302" y="542" width="2" height="1" fill="#1e90ff"/>
<rect x="304" y="543" width="2" height="1" fill="#1e90ff"/>
<rect x="306" y="544" width="1" height="1" fill="#1e90ff"/>
<rect x="307" y="545" width="1" height="1" fill="#1e90ff"/>
<rect x="308" y="546" width="2" height="1" fill="#1e90ff"/>
<rect x="310" y="545" width="3" height="1" fill="#1e90ff"/>
<rect x="313" y="544" width="1" height="1" fill="#1e90ff"/>
<rect x="314" y="543" width="2" height="1" fill="#1e90ff"/>
<rect x="316" y="542" width="3" height="1" fill="#1e90ff"/>
<rect x="319" y="543" width="6" height="1" fill="#1e90ff"/>
<rect x="325" y="544" width="2" height="1" fill="#1e90ff"/>
<rect x="327" y="545" width="1" height="1" fill="#1e90ff"/>
<rect x="328" y="544" width="1" height="2" fill="#1e90ff"/>
<rect x="329" y="541" width="1" height="3" fill="#1e90ff"/>
<rect x="330" y="539" width="1" height="2" fill="#1e90ff"/>
<rect x="331" y="536" width="1" height="3" fill="#1e90ff"/>
<rect x="332" y="535" width="3" height="1" fill="#1e90ff"/>
<rect x="335" y="536" width="2" height="1" fill="#1e90ff"/>
<rect x="337" y="535" width="2" height="1" fill="#1e90ff"/>
<rect x="339" y="534" width="4" height="1" fill="#1e90ff"/>
<rect x="343" y="535" width="2" height="1" fill="#1e90ff"/>
<rect x="345" y="534" width="1" height="1" fill="#1e90ff"/>
<rect x="346" y="533" width="1" height="1" fill="#1e90ff"/>
<rect x="347" y="532" width="1" height="1" fill="#1e90ff"/>
<rect x="348" y="531" width="2" height="1" fill="#1e90ff"/>
<rect x="350" y="530" width="2" height="1" fill="#1e90ff"/>
<rect x="352" y="529" width="2" height="1" fill="#1e90ff"/>
<rect x="354" y="528" width="1" height="1" fill="#1e90ff"/>
<rect x="355" y="527" width="2" height="1" fill="#1e90ff"/>
<rect x="357" y="528" width="1" height="1" fill="#1e90ff"/>
<rect x="358" y="529" width="1" height="1" fill="#1e90ff"/>
<rect x="359" y="530" width="1" height="1" fill="#1e90ff"/>
<rect x="360" y="531" width="1" height="1" fill="#1e90ff"/>
<rect x="361" y="530" width="2" height="1" fill="#1e90ff"/>
<rect x="363" y="529" width="6" height="1" fill="#1e90ff"/>
<rect x="369" y="530" width="1" height="1" fill="#1e90ff"/>
<rect x="370" y="531" width="1" height="1" fill="#1e90ff"/>
<rect x="371" y="532" width="1" height="1" fill="#1e90ff"/>
<rect x="372" y="533" width="3" height="1" fill="#1e90ff"/>
<rect x="375" y="534" width="5" height="1" fill="#1e90ff"/>
<rect x="380" y="533" width="1" height="2" fill="#1e90ff"/>
<rect x="381" y="530" width="1" height="3" fill="#1e90ff"/>
<rect x="382" y="527" width="1" height="3" fill="#1e90ff"/>
<rect x="383" y="525" width="1" height="2" fill="#1e90ff"/>
<rect x="384" y="523" width="1" height="2" fill="#1e90ff"/>
<rect x="385" y="525" width="1" height="3" fill="#1e90ff"/>
<rect x="386" y="528" width="1" height="4" fill="#1e90ff"/>
<rect x="387" y="532" width="1" height="3" fill="#1e90ff"/>
<rect x="388" y="535" width="1" height="2" fill="#1e90ff"/>
<rect x="389" y="536" width="4" height="1" fill="#1e90ff"/>
<rect x="393" y="534" width="1" height="2" fill="#1e90ff"/>
<rect x="394" y="533" width="1" height="1" fill="#1e90ff"/>
<rect x="395" y="532" width="1" height="1" fill="#1e90ff"/>
<rect x="396" y="531" width="2" height="1" fill="#1e90ff"/>
<rect x="398" y="532" width="2" height="1" fill="#1e90ff"/>
<rect x="400" y="533" width="1" height="1" fill="#1e90ff"/>
<rect x="401" y="532" width="1" height="1" fill="#1e90ff"/>
<rect x="402" y="531" width="2" height="1" fill="#1e90ff"/>
<rect x="404" y="530" width="1" height="1" fill="#1e90ff"/>
<rect x="405" y="531" width="1" height="1" fill="#1e90ff"/>
<rect x="406" y="532" width="1" height="2" fill="#1e90ff"/>
<rect x="407" y="534" width="1" height="1" fill="#1e90ff"/>
<rect x="408" y="535" width="5" height="1" fill="#1e90ff"/>
<rect x="413" y="534" width="2" height="1" fill="#1e90ff"/>
<rect x="415" y="533" width="2" height="1" fill="#1e90ff"/>
<rect x="417" y="532" width="2" height="1" fill="#1e90ff"/>
<rect x="419" y="531" width="2" height="1" fill="#1e90ff"/>
<rect x="421" y="530" width="3" height="1" fill="#1e90ff"/>
<rect x="424" y="530" width="1" height="2" fill="#1e90ff"/>
<rect x="425" y="532" width="1" height="2" fill="#1e90ff"/>
<rect x="426" y="534" width="1" height="2" fill="#1e90ff"/>
<rect x="427" y="536" width="1" height="2" fill="#1e90ff"/>
<rect x="428" y="538" width="1" height="2" fill="#1e90ff"/>
<rect x="429" y="539" width="1" height="1" fill="#1e90ff"/>
<rect x="430" y="540" width="2" height="1" fill="#1e90ff"/>
<rect x="432" y="541" width="9" height="1" fill="#1e90ff"/>
<rect x="441" y="542" width="1" height="1" fill="#1e90ff"/>
<rect x="442" y="543" width="1" height="1" fill="#1e90ff"/>
<rect x="443" y="544" width="1" height="1" fill="#1e90ff"/>
<rect x="444" y="545" width="1" height="1" fill="#1e90ff"/>
<rect x="445" y="546" width="2" height="1" fill="#1e90ff"/>
<rect x="447" y="547" width="1" height="1" fill="#1e90ff"/>
<rect x="448" y="548" width="4" height="1" fill="#1e90ff"/>
<rect x="452" y="547" width="1" height="2" fill="#1e90ff"/>
<rect x="453" y="546" width="1" height="1" fill="#1e90ff"/>
<rect x="454" y="544" width="1" height="2" fill="#1e90ff"/>
<rect x="455" y="543" width="1" height="1" fill="#1e90ff"/>
<rect x="456" y="542" width="1" height="1" fill="#1e90ff"/>
<rect x="457" y="543" width="2" height="1" fill="#1e90ff"/>
<rect x="459" y="544" width="1" height="1" fill="#1e90ff"/>
<rect x="460" y="545" width="3" height="1" fill="#1e90ff"/>
<rect x="463" y="546" width="4" height="1" fill="#1e90ff"/>
<rect x="467" y="547" width="7" height="1" fill="#1e90ff"/>
<rect x="474" y="548" width="2" height="1" fill="#1e90ff"/>
<rect x="476" y="549" width="2" height="1" fill="#1e90ff"/>
<rect x="478" y="548" width="2" height="1" fill="#1e90ff"/>
<rect x="480" y="547" width="1" height="2" fill="#1e90ff"/>
<rect x="481" y="544" width="1" height="3" fill="#1e90ff"/>
<rect x="482" y="541" width="1" height="3" fill="#1e90ff"/>
<rect x="483" y="538" width="1" height="3" fill="#1e90ff"/>
<rect x="484" y="536" width="1" height="2" fill="#1e90ff"/>
<rect x="485" y="536" width="1" height="1" fill="#1e90ff"/>
<rect x="486" y="537" width="2" height="1" fill="#1e90ff"/>
<rect x="488" y="538" width="5" height="1" fill="#1e90ff"/>
<rect x="493" y="537" width="1" height="1" fill="#1e90ff"/>
<rect x="494" y="536" width="1" height="1" fill="#1e90ff"/>
<rect x="495" y="535" width="1" height="1" fill="#1e90ff"/>
<rect x="496" y="534" width="4" height="1" fill="#1e90ff"/>
<rect x="500" y="535" width="3" height="1" fill="#1e90ff"/>
<rect x="503" y="536" width="3" height="1" fill="#1e90ff"/>
<rect x="506" y="535" width="5" height="1" fill="#1e90ff"/>
<rect x="511" y="536" width="3" height="1" fill="#1e90ff"/>
<rect x="514" y="537" width="2" height="1" fill="#1e90ff"/>
<rect x="516" y="538" width="4" height="1" fill="#1e90ff"/>
<rect x="520" y="537" width="1" height="2" fill="#1e90ff"/>
<rect x="521" y="535" width="1" height="2" fill="#1e90ff"/>
<rect x="522" y="533" width="1" height="2" fill="#1e90ff"/>
<rect x="523" y="531" width="1" height="2" fill="#1e90ff"/>
<rect x="524" y="530" width="1" height="1" fill="#1e90ff"/>
<rect x="525" y="531" width="1" height="1" fill="#1e90ff"/>
<rect x="526" y="532" width="1" height="1" fill="#1e90ff"/>
<rect x="527" y="533" width="1" height="2" fill="#1e90ff"/>
<rect x="528" y="535" width="1" height="1" fill="#1e90ff"/>
<rect x="529" y="534" width="2" height="1" fill="#1e90ff"/>
<rect x="531" y="533" width="7" height="1" fill="#1e90ff"/>
<rect x="538" y="534" width="2" height="1" fill="#1e90ff"/>
<rect x="540" y="535" width="2" height="1" fill="#1e90ff"/>
<rect x="542" y="536" width="2" height="1" fill="#1e90ff"/>
<rect x="544" y="537" width="1" height="1" fill="#1e90ff"/>
<rect x="545" y="536" width="1" height="1" fill="#1e90ff"/>
<rect x="546" y="535" width="2" height="1" fill="#1e90ff"/>
<rect x="548" y="534" width="1" height="1" fill="#1e90ff"/>
<rect x="549" y="533" width="1" height="1" fill="#1e90ff"/>
<rect x="550" y="531" width="1" height="2" fill="#1e90ff"/>
<rect x="551" y="530" width="1" height="1" fill="#1e90ff"/>
<rect x="552" y="529" width="1" height="2" fill="#1e90ff"/>
<rect x="553" y="531" width="1" height="1" fill="#1e90ff"/>
<rect x="554" y="532" width="1" height="2" fill="#1e90ff"/>
<rect x="555" y="534" width="1" height="2" fill="#1e90ff"/>
<rect x="556" y="536" width="5" height="1" fill="#1e90ff"/>
<rect x="561" y="535" width="2" height="1" fill="#1e90ff"/>
<rect x="563" y="534" width="1" height="1" fill="#1e90ff"/>
<rect x="564" y="533" width="3" height="1" fill="#1e90ff"/>
<rect x="567" y="532" width="2" height="1" fill="#1e90ff"/>
<rect x="569" y="531" width="1" height="1" fill="#1e90ff"/>
<rect x="570" y="530" width="1" height="1" fill="#1e90ff"/>
<rect x="571" y="529" width="1" height="1" fill="#1e90ff"/>
<rect x="572" y="528" width="4" height="1" fill="#1e90ff"/>
<rect x="576" y="529" width="3" height="1" fill="#1e90ff"/>
<rect x="579" y="530" width="3" height="1" fill="#1e90ff"/>
<rect x="582" y="529" width="4" height="1" fill="#1e90ff"/>
<rect x="586" y="528" width="4" height="1" fill="#1e90ff"/>
<rect x="590" y="529" width="2" height="1" fill="#1e90ff"/>
<rect x="592" y="530" width="1" height="1" fill="#1e90ff"/>
<rect x="593" y="528" width="1" height="2" fill="#1e90ff"/>
<rect x="594" y="527" width="1" height="1" fill="#1e90ff"/>
<rect x="595" y="526" width="1" height="1" fill="#1e90ff"/>
<rect x="596" y="525" width="1" height="1" fill="#1e90ff"/>
<rect x="597" y="526" width="1" height="1" fill="#1e90ff"/>
<rect x="598" y="527" width="1" height="1" fill="#1e90ff"/>
<rect x="599" y="528" width="1" height="1" fill="#1e90ff"/>
<rect x="600" y="529" width="1" height="1" fill="#1e90ff"/>
<rect x="601" y="527" width="1" height="2" fill="#1e90ff"/>
<rect x="602" y="526" width="1" height="1" fill="#1e90ff"/>
<rect x="603" y="525" width="1" height="1" fill="#1e90ff"/>
<rect x="604" y="524" width="2" height="1" fill="#1e90ff"/>
<rect x="606" y="525" width="2" height="1" fill="#1e90ff"/>
<rect x="608" y="525" width="1" height="2" fill="#1e90ff"/>
<rect x="609" y="527" width="1" height="2" fill="#1e90ff"/>
<rect x="610" y="529" width="1" height="1" fill="#1e90ff"/>
<rect x="611" y="530" width="1" height="2" fill="#1e90ff"/>
<rect x="612" y="532" width="3" height="1" fill="#1e90ff"/>
<rect x="615" y="533" width="2" height="1" fill="#1e90ff"/>
<rect x="617" y="532" width="2" height="1" fill="#1e90ff"/>
<rect x="619" y="531" width="4" height="1" fill="#1e90ff"/>
<rect x="623" y="532" width="2" height="1" fill="#1e90ff"/>
<rect x="625" y="530" width="1" height="2" fill="#1e90ff"/>
<rect x="626" y="529" width="1" height="1" fill="#1e90ff"/>
<rect x="627" y="527" width="1" height="2" fill="#1e90ff"/>
<rect x="628" y="526" width="3" height="1" fill="#1e90ff"/>
<rect x="631" y="527" width="3" height="1" fill="#1e90ff"/>
<rect x="634" y="528" width="2" height="1" fill="#1e90ff"/>
<rect x="636" y="529" width="1" height="1" fill="#1e90ff"/>
<rect x="637" y="528" width="1" height="1" fill="#1e90ff"/>
<rect x="638" y="527" width="2" height="1" fill="#1e90ff"/>
<rect x="640" y="526" width="1" height="1" fill="#1e90ff"/>
<rect x="641" y="525" width="1" height="1" fill="#1e90ff"/>
<rect x="642" y="523" width="1" height="2" fill="#1e90ff"/>
<rect x="643" y="522" width="1" height="1" fill="#1e90ff"/>
<rect x="644" y="521" width="2" height="1" fill="#1e90ff"/>
<rect x="646" y="520" width="3" height="1" fill="#1e90ff"/>
<rect x="649" y="521" width="1" height="1" fill="#1e90ff"/>
<rect x="650" y="522" width="1" height="1" fill="#1e90ff"/>
<rect x="651" y="523" width="1" height="1" fill="#1e90ff"/>
<rect x="652" y="524" width="8" height="1" fill="#1e90ff"/>
<rect x="660" y="524" width="1" height="2" fill="#1e90ff"/>
<rect x="661" y="526" width="1" height="2" fill="#1e90ff"/>
<rect x="662" y="528" width="1" height="2" fill="#1e90ff"/>
<rect x="663" y="530" width="1" height="2" fill="#1e90ff"/>
<rect x="664" y="532" width="2" height="1" fill="#1e90ff"/>
<rect x="666" y="531" width="4" height="1" fill="#1e90ff"/>
<rect x="670" y="532" width="2" height="1" fill="#1e90ff"/>
<rect x="672" y="533" width="1" height="1" fill="#1e90ff"/>
<rect x="673" y="532" width="1" height="1" fill="#1e90ff"/>
<rect x="674" y="531" width="2" height="1" fill="#1e90ff"/>
<rect x="676" y="530" width="6" height="1" fill="#1e90ff"/>
<rect x="682" y="531" width="2" height="1" fill="#1e90ff"/>
<rect x="684" y="532" width="2" height="1" fill="#1e90ff"/>
<rect x="686" y="533" width="2" height="1" fill="#1e90ff"/>
<rect x="688" y="534" width="1" height="1" fill="#1e90ff"/>
<rect x="689" y="535" width="1" height="1" fill="#1e90ff"/>
<rect x="690" y="536" width="1" height="1" fill="#1e90ff"/>
<rect x="691" y="537" width="1" height="2" fill="#1e90ff"/>
<rect x="692" y="539" width="1" height="1" fill="#1e90ff"/>
<rect x="693" y="540" width="1" height="1" fill="#1e90ff"/>
<rect x="694" y="541" width="1" height="2" fill="#1e90ff"/>
<rect x="695" y="543" width="1" height="1" fill="#1e90ff"/>
<rect x="696" y="544" width="6" height="1" fill="#1e90ff"/>
<rect x="702" y="543" width="2" height="1" fill="#1e90ff"/>
<rect x="704" y="542" width="1" height="2" fill="#1e90ff"/>
<rect x="705" y="540" width="1" height="2" fill="#1e90ff"/>
<rect x="706" y="538" width="1" height="2" fill="#1e90ff"/>
<rect x="707" y="536" width="1" height="2" fill="#1e90ff"/>
<rect x="708" y="535" width="1" height="1" fill="#1e90ff"/>
<rect x="709" y="534" width="1" height="1" fill="#1e90ff"/>
<rect x="710" y="533" width="1" height="1" fill="#1e90ff"/>
<rect x="711" y="532" width="1" height="1" fill="#1e90ff"/>
<rect x="712" y="531" width="1" height="1" fill="#1e90ff"/>
<rect x="713" y="530" width="2" height="1" fill="#1e90ff"/>
<rect x="715" y="529" width="1" height="1" fill="#1e90ff"/>
<rect x="716" y="528" width="1" height="2" fill="#1e90ff"/>
<rect x="717" y="526" width="1" height="2" fill="#1e90ff"/>
<rect x="718" y="524" width="1" height="2" fill="#1e90ff"/>
<rect x="719" y="522" width="1" height="2" fill="#1e90ff"/>
<rect x="720" y="521" width="2" height="1" fill="#1e90ff"/>
<rect x="722" y="520" width="9" height="1" fill="#1e90ff"/>
<rect x="731" y="521" width="3" height="1" fill="#1e90ff"/>
<rect x="734" y="522" width="2" height="1" fill="#1e90ff"/>
<rect x="736" y="523" width="7" height="1" fill="#1e90ff"/>
<rect x="743" y="524" width="1" height="1" fill="#1e90ff"/>
<rect x="744" y="524" width="1" height="2" fill="#1e90ff"/>
<rect x="745" y="526" width="1" height="1" fill="#1e90ff"/>
<rect x="746" y="527" width="1" height="2" fill="#1e90ff"/>
<rect x="747" y="529" width="1" height="2" fill="#1e90ff"/>
<rect x="748" y="531" width="1" height="1" fill="#1e90ff"/>
<rect x="749" y="530" width="1" height="1" fill="#1e90ff"/>
<rect x="750" y="529" width="2" height="1" fill="#1e90ff"/>
<rect x="752" y="528" width="1" height="1" fill="#1e90ff"/>
<rect x="753" y="529" width="1" height="1" fill="#1e90ff"/>
<rect x="754" y="530" width="1" height="2" fill="#1e90ff"/>
<rect x="755" y="532" width="1" height="1" fill="#1e90ff"/>
<rect x="756" y="533" width="1" height="1" fill="#1e90ff"/>
<rect x="757" y="532" width="1" height="1" fill="#1e90ff"/>
<rect x="758" y="531" width="1" height="1" fill="#1e90ff"/>
<rect x="759" y="530" width="2" height="1" fill="#1e90ff"/>
<rect x="761" y="529" width="2" height="1" fill="#1e90ff"/>
<rect x="763" y="528" width="7" height="1" fill="#1e90ff"/>
<rect x="770" y="529" width="1" height="1" fill="#1e90ff"/>
<rect x="771" y="530" width="1" height="1" fill="#1e90ff"/>
<rect x="772" y="531" width="4" height="1" fill="#1e90ff"/>
<rect x="776" y="532" width="3" height="1" fill="#1e90ff"/>
<rect x="779" y="533" width="2" height="1" fill="#1e90ff"/>
<rect x="781" y="532" width="2" height="1" fill="#1e90ff"/>
<rect x="783" y="531" width="4" height="1" fill="#1e90ff"/>
<rect x="787" y="532" width="1" height="1" fill="#1e90ff"/>
<rect x="788" y="532" width="1" height="2" fill="#1e90ff"/>
<rect x="789" y="534" width="1" height="2" fill="#1e90ff"/>
<rect x="790" y="536" width="1" height="3" fill="#1e90ff"/>
<rect x="791" y="539" width="1" height="2" fill="#1e90ff"/>
<rect x="792" y="540" width="1" height="2" fill="#1e90ff"/>
<rect x="793" y="539" width="1" height="1" fill="#1e90ff"/>
<rect x="794" y="537" width="1" height="2" fill="#1e90ff"/>
<rect x="795" y="535" width="1" height="2" fill="#1e90ff"/>
<rect x="796" y="534" width="1" height="1" fill="#1e90ff"/>
<rect x="797" y="535" width="1" height="2" fill="#1e90ff"/>
<rect x="798" y="537" width="1" height="1" fill="#1e90ff"/>
<rect x="799" y="538" width="1" height="1" fill="#1e90ff"/>
<rect x="800" y="539" width="1" height="1" fill="#1e90ff"/>
<rect x="801" y="538" width="1" height="1" fill="#1e90ff"/>
<rect x="802" y="537" width="2" height="1" fill="#1e90ff"/>
<rect x="804" y="536" width="1" height="1" fill="#1e90ff"/>
<rect x="805" y="537" width="1" height="1" fill="#1e90ff"/>
<rect x="806" y="538" width="1" height="1" fill="#1e90ff"/>
<rect x="807" y="539" width="1" height="1" fill="#1e90ff"/>
<rect x="808" y="540" width="3" height="1" fill="#1e90ff"/>
<rect x="811" y="541" width="3" height="1" fill="#1e90ff"/>
<rect x="814" y="542" width="2" height="1" fill="#1e90ff"/>
<rect x="816" y="543" width="1" height="1" fill="#1e90ff"/>
<rect x="817" y="544" width="1" height="1" fill="#1e90ff"/>
<rect x="818" y="545" width="1" height="2" fill="#1e90ff"/>
<rect x="819" y="547" width="1" height="1" fill="#1e90ff"/>
<rect x="820" y="548" width="3" height="1" fill="#1e90ff"/>
<rect x="823" y="549" width="6" height="1" fill="#1e90ff"/>
<rect x="829" y="548" width="1" height="1" fill="#1e90ff"/>
<rect x="830" y="547" width="2" height="1" fill="#1e90ff"/>
<rect x="832" y="545" width="1" height="2" fill="#1e90ff"/>
<rect x="833" y="542" width="1" height="3" fill="#1e90ff"/>
<rect x="834" y="539" width="1" height="3" fill="#1e90ff"/>
<rect x="835" y="536" width="1" height="3" fill="#1e90ff"/>
<rect x="836" y="534" width="1" height="2" fill="#1e90ff"/>
<rect x="837" y="534" width="1" height="1" fill="#1e90ff"/>
<rect x="838" y="535" width="2" height="1" fill="#1e90ff"/>
<rect x="840" y="536" width="1" height="1" fill="#1e90ff"/>
<rect x="841" y="537" width="1" height="1" fill="#1e90ff"/>
<rect x="842" y="538" width="1" height="1" fill="#1e90ff"/>
<rect x="843" y="539" width="1" height="1" fill="#1e90ff"/>
<rect x="844" y="540" width="2" height="1" fill="#1e90ff"/>
<rect x="846" y="539" width="3" height="1" fill="#1e90ff"/>
<rect x="849" y="538" width="5" height="1" fill="#1e90ff"/>
<rect x="854" y="537" width="3" height="1" fill="#1e90ff"/>
<rect x="857" y="536" width="1" height="1" fill="#1e90ff"/>
<rect x="858" y="535" width="1" height="1" fill="#1e90ff"/>
<rect x="859" y="534" width="1" height="1" fill="#1e90ff"/>
<rect x="860" y="533" width="1" height="1" fill="#1e90ff"/>
<rect x="861" y="532" width="1" height="1" fill="#1e90ff"/>
<rect x="862" y="531" width="1" height="1" fill="#1e90ff"/>
<rect x="863" y="530" width="1" height="1" fill="#1e90ff"/>
<rect x="864" y="529" width="1" height="1" fill="#1e90ff"/>
<rect x="865" y="530" width="2" height="1" fill="#1e90ff"/>
<rect x="867" y="531" width="1" height="1" fill="#1e90ff"/>
<rect x="868" y="532" width="7" height="1" fill="#1e90ff"/>
<rect x="875" y="533" width="3" height="1" fill="#1e90ff"/>
<rect x="878" y="532" width="4" height="1" fill="#1e90ff"/>
<rect x="882" y="533" width="2" height="1" fill="#1e90ff"/>
<rect x="884" y="534" width="7" height="1" fill="#1e90ff"/>
<rect x="891" y="535" width="7" height="1" fill="#1e90ff"/>
<rect x="898" y="534" width="2" height="1" fill="#1e90ff"/>
<rect x="900" y="533" width="1" height="2" fill="#1e90ff"/>
<rect x="901" y="531" width="1" height="2" fill="#1e90ff"/>
<rect x="902" y="530" width="1" height="1" fill="#1e90ff"/>
<rect x="903" y="528" width="1" height="2" fill="#1e90ff"/>
<rect x="904" y="527" width="1" height="1" fill="#1e90ff"/>
<rect x="905" y="526" width="1" height="1" fill="#1e90ff"/>
<rect x="906" y="525" width="1" height="1" fill="#1e90ff"/>
<rect x="907" y="524" width="1" height="1" fill="#1e90ff"/>
<rect x="908" y="523" width="1" height="1" fill="#1e90ff"/>
<rect x="909" y="524" width="1" height="2" fill="#1e90ff"/>
<rect x="910" y="526" width="1" height="1" fill="#1e90ff"/>
<rect x="911" y="527" width="1" height="2" fill="#1e90ff"/>
<rect x="912" y="529" width="2" height="1" fill="#1e90ff"/>
<rect x="914" y="530" width="2" height="1" fill="#1e90ff"/>
<rect x="916" y="531" width="2" height="1" fill="#1e90ff"/>
<rect x="918" y="530" width="7" height="1" fill="#1e90ff"/>
<text x="8.5" y="504.7" font-size="9.8" fill="#000" text-anchor="start" textLength="67.5" lengthAdjust="spacingAndGlyphs" stroke="#000" stroke-width="0.1" xml:space="preserve">RSI(14) 48.8768</text>
<rect x="1167" y="494" width="1" height="1" fill="#000"/>
<text x="1170.3" y="502.6" font-size="9.8" fill="#000" text-anchor="start" textLength="14.8" lengthAdjust="spacingAndGlyphs" stroke="#000" stroke-width="0.1" xml:space="preserve">100</text>
<rect x="1167" y="515" width="1" height="1" fill="#000"/>
<text x="1169.7" y="518.4" font-size="9.8" fill="#000" text-anchor="start" textLength="9.6" lengthAdjust="spacingAndGlyphs" stroke="#000" stroke-width="0.1" xml:space="preserve">70</text>
<rect x="1167" y="544" width="1" height="1" fill="#000"/>
<text x="1169.7" y="547.4" font-size="9.8" fill="#000" text-anchor="start" textLength="9.6" lengthAdjust="spacingAndGlyphs" stroke="#000" stroke-width="0.1" xml:space="preserve">30</text>
<rect x="1167" y="565" width="1" height="1" fill="#000"/>
<text x="1170.3" y="562.5" font-size="9.8" fill="#000" text-anchor="start" textLength="4.8" lengthAdjust="spacingAndGlyphs" stroke="#000" stroke-width="0.1" xml:space="preserve">0</text>
<rect x="4" y="567" width="1" height="3" fill="#000"/>
<text x="3" y="579" font-size="9.8" fill="#000" text-anchor="start" textLength="42.0" lengthAdjust="spacingAndGlyphs" stroke="#000" stroke-width="0.1" xml:space="preserve">9 Jul 2021</text>
<rect x="68" y="567" width="1" height="3" fill="#000"/>
<text x="67" y="579" font-size="9.8" fill="#000" text-anchor="start" textLength="47.4" lengthAdjust="spacingAndGlyphs" stroke="#000" stroke-width="0.1" xml:space="preserve">28 Jul 2021</text>
<rect x="132" y="567" width="1" height="3" fill="#000"/>
<text x="131" y="579" font-size="9.8" fill="#000" text-anchor="start" textLength="52.6" lengthAdjust="spacingAndGlyphs" stroke="#000" stroke-width="0.1" xml:space="preserve">16 Aug 2021</text>
<rect x="196" y="567" width="1" height="3" fill="#000"/>
<text x="195" y="579" font-size="9.8" fill="#000" text-anchor="start" textLength="46.699999999999996" lengthAdjust="spacingAndGlyphs" stroke="#000" stroke-width="0.1" xml:space="preserve">3 Sep 2021</text>
<rect x="260" y="567" width="1" height="3" fill="#000"/>
<text x="259" y="579" font-size="9.8" fill="#000" text-anchor="start" textLength="52.0" lengthAdjust="spacingAndGlyphs" stroke="#000" stroke-width="0.1" xml:space="preserve">22 Sep 2021</text>
<rect x="324" y="567" width="1" height="3" fill="#000"/>
<text x="323" y="579" font-size="9.8" fill="#000" text-anchor="start" textLength="51.3" lengthAdjust="spacingAndGlyphs" stroke="#000" stroke-width="0.1" xml:space="preserve">11 Oct 2021</text>
<rect x="388" y="567" width="1" height="3" fill="#000"/>
<text x="387" y="579" font-size="9.8" fill="#000" text-anchor="start" textLength="51.1" lengthAdjust="spacingAndGlyphs" stroke="#000" stroke-width="0.1" xml:space="preserve">29 Oct 2021</text>
<rect x="452" y="567" width="1" height="3" fill="#000"/>
<text x="451" y="579" font-size="9.8" fill="#000" text-anchor="start" textLength="53.699999999999996" lengthAdjust="spacingAndGlyphs" stroke="#000" stroke-width="0.1" xml:space="preserve">17 Nov 2021</text>
<rect x="516" y="567" width="1" height="3" fill="#000"/>
<text x="515" y="579" font-size="9.8" fill="#000" text-anchor="start" textLength="47.4" lengthAdjust="spacingAndGlyphs" stroke="#000" stroke-width="0.1" xml:space="preserve">6 Dec 2021</text>
<rect x="580" y="567" width="1" height="3" fill="#000"/>
<text x="579" y="579" font-size="9.8" fill="#000" text-anchor="start" textLength="51.9" lengthAdjust="spacingAndGlyphs" stroke="#000" stroke-width="0.1" xml:space="preserve">24 Dec 2021</text>
<rect x="644" y="567" width="1" height="3" fill="#000"/>
<text x="643" y="579" font-size="9.8" fill="#000" text-anchor="start" textLength="49.4" lengthAdjust="spacingAndGlyphs" stroke="#000" stroke-width="0.1" xml:space="preserve">12 Jan 2022</text>
<rect x="708" y="567" width="1" height="3" fill="#000"/>
<text x="707" y="579" font-size="9.8" fill="#000" text-anchor="start" textLength="49.9" lengthAdjust="spacingAndGlyphs" stroke="#000" stroke-width="0.1" xml:space="preserve">31 Jan 2022</text>
<rect x="772" y="567" width="1" height="3" fill="#000"/>
<text x="771" y="579" font-size="9.8" fill="#000" text-anchor="start" textLength="51.6" lengthAdjust="spacingAndGlyphs" stroke="#000" stroke-width="0.1" xml:space="preserve">18 Feb 2022</text>
<rect x="836" y="567" width="1" height="3" fill="#000"/>
<text x="835" y="579" font-size="9.8" fill="#000" text-anchor="start" textLength="46.8" lengthAdjust="spacingAndGlyphs" stroke="#000" stroke-width="0.1" xml:space="preserve">9 Mar 2022</text>
<rect x="900" y="567" width="1" height="3" fill="#000"/>
<text x="899" y="579" font-size="9.8" fill="#000" text-anchor="start" textLength="51.3" lengthAdjust="spacingAndGlyphs" stroke="#000" stroke-width="0.1" xml:space="preserve">28 Mar 2022</text>
<rect x="0" y="587" width="1206" height="1" fill="#e3e3e3"/>
<rect x="0" y="588" width="1206" height="1" fill="#fff"/>
<rect x="0" y="589" width="1206" height="1" fill="#000"/>
<rect x="0" y="590" width="1206" height="1" fill="#fff"/>
<rect x="0" y="591" width="1206" height="18" fill="#f0f0f0"/>
<rect x="0" y="609" width="1206" height="1" fill="#fff"/>
<rect x="0" y="610" width="1206" height="3" fill="#f0f0f0"/>
<rect x="0" y="613" width="1206" height="1" fill="#a0a0a0"/>
<rect x="0" y="614" width="1206" height="1" fill="#f0f0f0"/>
<rect x="0" y="589" width="1" height="19" fill="#000"/>
<rect x="1" y="590" width="1" height="18" fill="#fff"/>
<rect x="106" y="589" width="106" height="18" fill="#fff"/>
<rect x="105" y="589" width="1" height="19" fill="#000"/>
<rect x="212" y="589" width="1" height="19" fill="#000"/>
<rect x="105" y="607" width="108" height="1" fill="#000"/>
<rect x="104" y="590" width="1" height="18" fill="#fff"/>
<rect x="213" y="590" width="1" height="18" fill="#fff"/>
<text x="15.8" y="603.8" font-size="12.4" fill="#787878" text-anchor="start" textLength="78.2" lengthAdjust="spacingAndGlyphs" xml:space="preserve">USDX,Weekly</text>
<text x="115.7" y="603.8" font-size="12.4" fill="#111" text-anchor="start" textLength="85.8" lengthAdjust="spacingAndGlyphs" xml:space="preserve">EURUSD-,Daily</text>
<text x="222.70000000000002" y="603.8" font-size="12.4" fill="#787878" text-anchor="start" textLength="87.8" lengthAdjust="spacingAndGlyphs" xml:space="preserve">AUDUSD-,Daily</text>
<text x="332.3" y="603.8" font-size="12.4" fill="#787878" text-anchor="start" textLength="85.2" lengthAdjust="spacingAndGlyphs" xml:space="preserve">USDCHF-,Daily</text>
<text x="439.5" y="603.8" font-size="12.4" fill="#787878" text-anchor="start" textLength="86.6" lengthAdjust="spacingAndGlyphs" xml:space="preserve">USDCAD-,Daily</text>
<text x="548.9" y="603.8" font-size="12.4" fill="#787878" text-anchor="start" textLength="88.0" lengthAdjust="spacingAndGlyphs" xml:space="preserve">USDCNH-,Daily</text>
<text x="659.3" y="603.8" font-size="12.4" fill="#787878" text-anchor="start" textLength="86.7" lengthAdjust="spacingAndGlyphs" xml:space="preserve">XAUUSD-,Daily</text>
<text x="767.3" y="603.8" font-size="12.4" fill="#787878" text-anchor="start" textLength="57.7" lengthAdjust="spacingAndGlyphs" xml:space="preserve">UKOil-,H4</text>
<text x="847.8" y="603.8" font-size="12.4" fill="#787878" text-anchor="start" textLength="78.6" lengthAdjust="spacingAndGlyphs" xml:space="preserve">DJ30-,Weekly</text>
<text x="947.5999999999999" y="603.8" font-size="12.4" fill="#787878" text-anchor="start" textLength="62.2" lengthAdjust="spacingAndGlyphs" xml:space="preserve">UK100-,H1</text>
<text x="1032.6" y="603.8" font-size="12.4" fill="#787878" text-anchor="start" textLength="56.8" lengthAdjust="spacingAndGlyphs" xml:space="preserve">USOil-,H1</text>
<text x="1110.3" y="603.8" font-size="12.4" fill="#787878" text-anchor="start" textLength="55.5" lengthAdjust="spacingAndGlyphs" xml:space="preserve">HK50-,H1</text>
<rect x="322" y="592" width="1" height="13" fill="#555"/>
<rect x="430" y="592" width="1" height="13" fill="#555"/>
<rect x="537" y="592" width="1" height="13" fill="#555"/>
<rect x="650" y="592" width="1" height="13" fill="#555"/>
<rect x="758" y="592" width="1" height="13" fill="#555"/>
<rect x="838" y="592" width="1" height="13" fill="#555"/>
<rect x="938" y="592" width="1" height="13" fill="#555"/>
<rect x="1021" y="592" width="1" height="13" fill="#555"/>
<rect x="1101" y="592" width="1" height="13" fill="#555"/>
<rect x="1184" y="595" width="1" height="7" fill="#8a8a8a"/>
<rect x="1183" y="596" width="1" height="5" fill="#8a8a8a"/>
<rect x="1182" y="597" width="1" height="3" fill="#8a8a8a"/>
<rect x="1181" y="598" width="1" height="1" fill="#b0b0b0"/>
<rect x="1201" y="595" width="1" height="7" fill="#8a8a8a"/>
<rect x="1202" y="596" width="1" height="5" fill="#8a8a8a"/>
<rect x="1203" y="597" width="1" height="3" fill="#8a8a8a"/>
<rect x="1204" y="598" width="1" height="1" fill="#b0b0b0"/>
</svg></body></html>
